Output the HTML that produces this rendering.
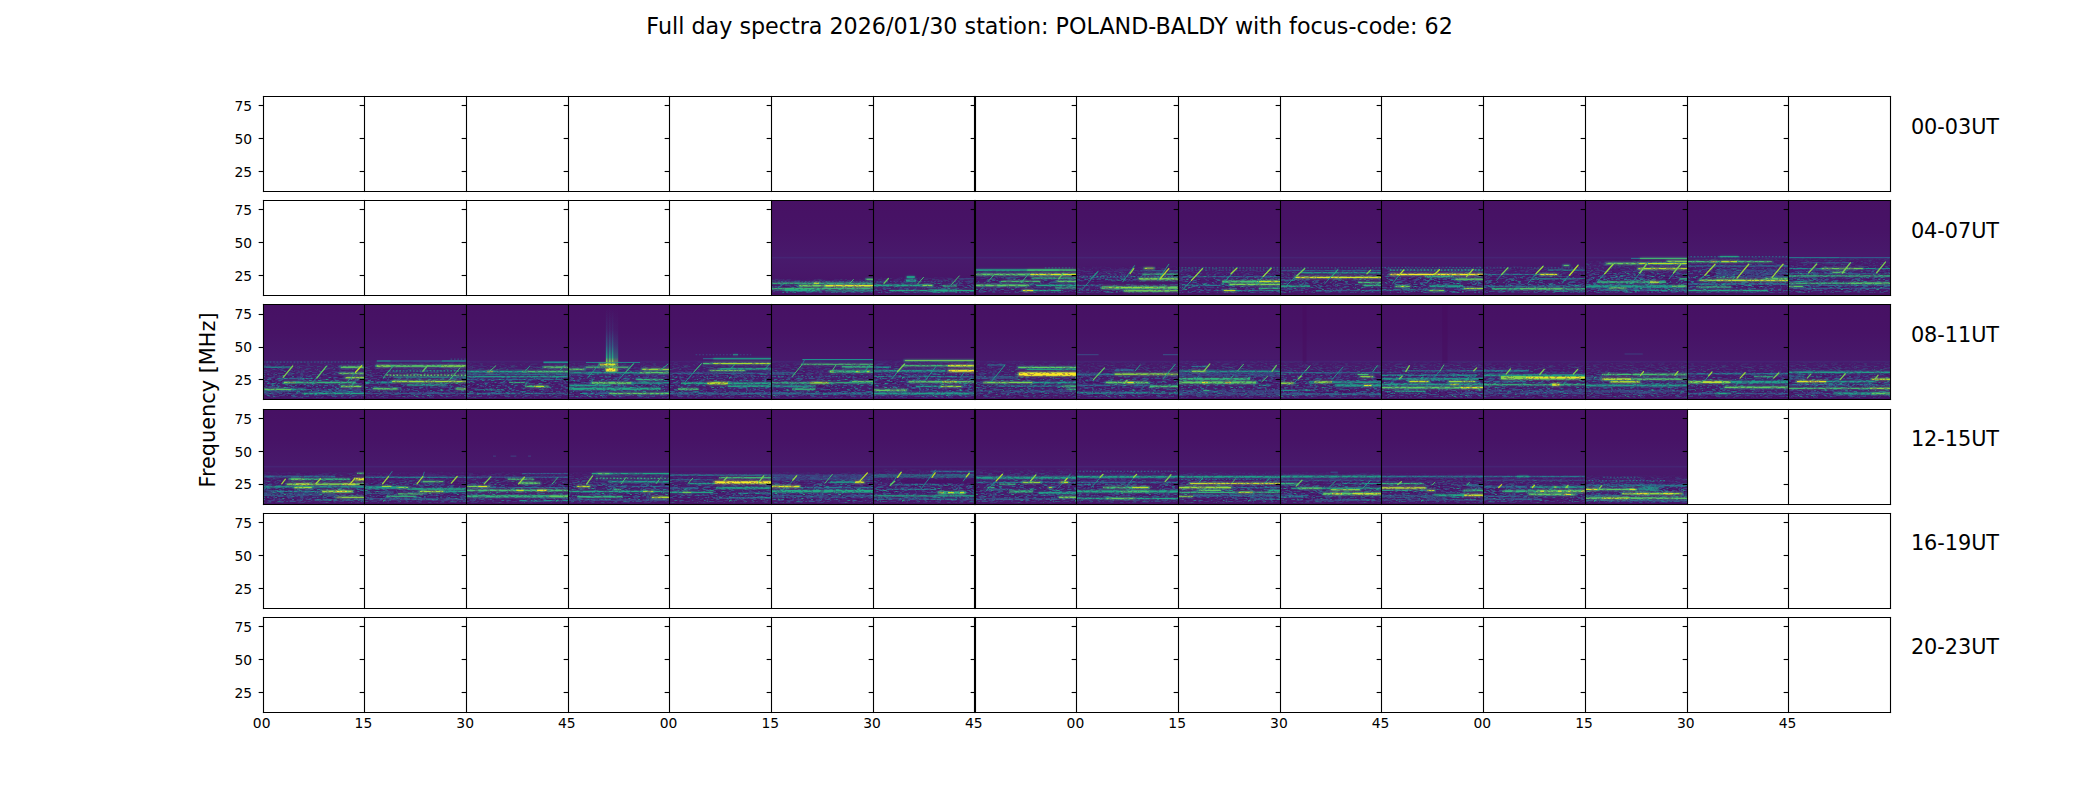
<!DOCTYPE html>
<html lang="en"><head><meta charset="utf-8"><title>Full day spectra 2026/01/30 station: POLAND-BALDY</title>
<style>
html,body{margin:0;padding:0;background:#fff;}
body{width:2100px;height:800px;overflow:hidden;}
svg{display:block;}
text{font-family:"DejaVu Sans","Liberation Sans",sans-serif;fill:#000;}
.t10{font-size:13.889px;}
.t15{font-size:20.833px;}
.t16{font-size:22.222px;}
.ax line{stroke:#000;stroke-width:1.111;}
.sp line{stroke-linecap:square;}
</style></head><body>
<svg width="2100" height="800" viewBox="0 0 2100 800">
<rect width="2100" height="800" fill="#fff"/>

<defs>
<clipPath id="c1_5"><rect x="772" y="201" width="101" height="94"/></clipPath>
<clipPath id="c1_6"><rect x="874" y="201" width="101" height="94"/></clipPath>
<clipPath id="c1_7"><rect x="976" y="201" width="100" height="94"/></clipPath>
<clipPath id="c1_8"><rect x="1077" y="201" width="101" height="94"/></clipPath>
<clipPath id="c1_9"><rect x="1179" y="201" width="101" height="94"/></clipPath>
<clipPath id="c1_10"><rect x="1281" y="201" width="100" height="94"/></clipPath>
<clipPath id="c1_11"><rect x="1382" y="201" width="101" height="94"/></clipPath>
<clipPath id="c1_12"><rect x="1484" y="201" width="101" height="94"/></clipPath>
<clipPath id="c1_13"><rect x="1586" y="201" width="101" height="94"/></clipPath>
<clipPath id="c1_14"><rect x="1688" y="201" width="100" height="94"/></clipPath>
<clipPath id="c1_15"><rect x="1789" y="201" width="101" height="94"/></clipPath>
<clipPath id="c2_0"><rect x="264" y="305" width="100" height="94"/></clipPath>
<clipPath id="c2_1"><rect x="365" y="305" width="101" height="94"/></clipPath>
<clipPath id="c2_2"><rect x="467" y="305" width="101" height="94"/></clipPath>
<clipPath id="c2_3"><rect x="569" y="305" width="100" height="94"/></clipPath>
<clipPath id="c2_4"><rect x="670" y="305" width="101" height="94"/></clipPath>
<clipPath id="c2_5"><rect x="772" y="305" width="101" height="94"/></clipPath>
<clipPath id="c2_6"><rect x="874" y="305" width="101" height="94"/></clipPath>
<clipPath id="c2_7"><rect x="976" y="305" width="100" height="94"/></clipPath>
<clipPath id="c2_8"><rect x="1077" y="305" width="101" height="94"/></clipPath>
<clipPath id="c2_9"><rect x="1179" y="305" width="101" height="94"/></clipPath>
<clipPath id="c2_10"><rect x="1281" y="305" width="100" height="94"/></clipPath>
<clipPath id="c2_11"><rect x="1382" y="305" width="101" height="94"/></clipPath>
<clipPath id="c2_12"><rect x="1484" y="305" width="101" height="94"/></clipPath>
<clipPath id="c2_13"><rect x="1586" y="305" width="101" height="94"/></clipPath>
<clipPath id="c2_14"><rect x="1688" y="305" width="100" height="94"/></clipPath>
<clipPath id="c2_15"><rect x="1789" y="305" width="101" height="94"/></clipPath>
<clipPath id="c3_0"><rect x="264" y="410" width="100" height="94"/></clipPath>
<clipPath id="c3_1"><rect x="365" y="410" width="101" height="94"/></clipPath>
<clipPath id="c3_2"><rect x="467" y="410" width="101" height="94"/></clipPath>
<clipPath id="c3_3"><rect x="569" y="410" width="100" height="94"/></clipPath>
<clipPath id="c3_4"><rect x="670" y="410" width="101" height="94"/></clipPath>
<clipPath id="c3_5"><rect x="772" y="410" width="101" height="94"/></clipPath>
<clipPath id="c3_6"><rect x="874" y="410" width="101" height="94"/></clipPath>
<clipPath id="c3_7"><rect x="976" y="410" width="100" height="94"/></clipPath>
<clipPath id="c3_8"><rect x="1077" y="410" width="101" height="94"/></clipPath>
<clipPath id="c3_9"><rect x="1179" y="410" width="101" height="94"/></clipPath>
<clipPath id="c3_10"><rect x="1281" y="410" width="100" height="94"/></clipPath>
<clipPath id="c3_11"><rect x="1382" y="410" width="101" height="94"/></clipPath>
<clipPath id="c3_12"><rect x="1484" y="410" width="101" height="94"/></clipPath>
<clipPath id="c3_13"><rect x="1586" y="410" width="101" height="94"/></clipPath>
<linearGradient id="gl" x1="0" y1="0" x2="0" y2="1"><stop offset="0" stop-color="#fff" stop-opacity="0"/><stop offset="0.18" stop-color="#fff" stop-opacity="1"/><stop offset="0.93" stop-color="#fff" stop-opacity="1"/><stop offset="1" stop-color="#fff" stop-opacity="0.3"/></linearGradient>
<linearGradient id="gl2" x1="0" y1="0" x2="0" y2="1"><stop offset="0" stop-color="#fff" stop-opacity="0"/><stop offset="0.12" stop-color="#fff" stop-opacity="0.35"/><stop offset="0.3" stop-color="#fff" stop-opacity="0.55"/><stop offset="0.5" stop-color="#fff" stop-opacity="1"/><stop offset="0.94" stop-color="#fff" stop-opacity="1"/><stop offset="1" stop-color="#fff" stop-opacity="0.3"/></linearGradient>
<linearGradient id="bg" x1="0" y1="0" x2="0" y2="1"><stop offset="0" stop-color="#471164"/><stop offset="0.3" stop-color="#471366"/><stop offset="0.62" stop-color="#481a6c"/><stop offset="1" stop-color="#471265"/></linearGradient>
<mask id="glm2" maskContentUnits="objectBoundingBox"><rect width="1" height="1" fill="url(#gl2)"/></mask>
<filter id="bl" x="-5%" y="-20%" width="110%" height="140%"><feGaussianBlur stdDeviation="1.6 1.2"/><feComponentTransfer><feFuncA type="linear" slope="1.7"/></feComponentTransfer></filter>
<mask id="glm" maskContentUnits="objectBoundingBox"><rect width="1" height="1" fill="url(#gl)"/></mask>
<linearGradient id="vb" x1="0" y1="0" x2="0" y2="1"><stop offset="0" stop-color="#3a528b" stop-opacity="0"/><stop offset="0.35" stop-color="#36598c" stop-opacity="0.2"/><stop offset="0.6" stop-color="#29788e" stop-opacity="0.6"/><stop offset="0.78" stop-color="#22a784" stop-opacity="0.95"/><stop offset="0.86" stop-color="#9bd83c" stop-opacity="1"/><stop offset="1" stop-color="#dde225" stop-opacity="1"/></linearGradient>
<pattern id="sp" patternUnits="userSpaceOnUse" width="173" height="41"><path d="M76.9 35.5h7M157.12 29.5h2M86.33 37.5h1M31.39 32.5h2M107.08 11.5h1M75.92 9.5h1M91.58 40.5h1M101.22 25.5h2M111.17 39.5h3M26.77 0.5h7M89.82 3.5h1M32.34 15.5h2M5.11 29.5h1.5M74.89 12.5h2M39.72 18.5h2M0.78 5.5h2M111.32 26.5h2M169.27 5.5h3M43.18 14.5h2M49.14 4.5h2M130.27 25.5h1M143.92 24.5h1M162.87 0.5h1M35.65 3.5h2M63.83 25.5h2M12.42 40.5h1M132.35 17.5h1.5M14.81 21.5h1M163.89 7.5h1M41.89 6.5h1M10.18 31.5h1M115.95 12.5h2M86.51 8.5h2M109.43 7.5h2M71.53 13.5h1M45.87 37.5h1.5M169.64 1.5h1M31.84 38.5h3M98.08 2.5h1M36.25 16.5h1M131.36 21.5h7M50.38 4.5h1M15.32 37.5h3M41.31 38.5h1.5M63.19 29.5h1M163.05 30.5h7M97.68 24.5h1M106.63 19.5h1M139.03 15.5h3M32.27 40.5h2M33.42 24.5h2M102.6 26.5h1M17.65 2.5h2M163.66 15.5h3M119.78 16.5h2M140.03 38.5h2M49.88 11.5h3M166.12 8.5h1M81.48 39.5h2M12.6 13.5h1M127.33 4.5h1.5M69.94 15.5h1M7.92 18.5h1.5M90.27 8.5h1M61.56 28.5h1.5M111.68 33.5h2M160.97 37.5h1M157.01 30.5h1.5M119.16 2.5h1M101.72 4.5h2M11.44 19.5h1.5M23.22 4.5h1M77.03 23.5h3M7.56 8.5h7M163.77 21.5h1.5M14.44 30.5h1M148.09 26.5h7M5.15 31.5h2M2.47 24.5h2M99.06 38.5h1M13.63 40.5h1M168.86 26.5h3M56.13 37.5h2M74.89 34.5h1M88.18 32.5h1M52.74 5.5h2M3.79 7.5h2M132.59 31.5h1.5M152.39 23.5h1.5M24.35 39.5h1M88.13 21.5h3M158.15 31.5h1M55.58 16.5h1M107.81 12.5h1M65.35 37.5h1.5M35.68 8.5h2M59.63 2.5h3M10.9 17.5h7M28.75 28.5h2M46.78 13.5h7M70.38 40.5h2M83.96 20.5h3M142.65 39.5h2M54.46 2.5h1.5M148.38 2.5h3M120.47 36.5h1.5M52.54 36.5h1M108.97 25.5h2M32.29 17.5h1M132.47 3.5h3M19.6 6.5h3M91.02 40.5h7M62.68 4.5h3M33.67 30.5h1.5M30.38 0.5h7M80.27 2.5h1M38.5 22.5h2M118.54 33.5h2M104.46 10.5h2M144.29 14.5h1M69.78 24.5h1M76.59 12.5h3M150.85 0.5h2M93.5 32.5h7M139.31 21.5h2M55.5 13.5h1M122.73 7.5h1M41.19 24.5h1M166.15 34.5h7M158.49 16.5h3M145.48 22.5h2M14.07 28.5h1.5M93.55 17.5h2M156.36 13.5h7M147.48 27.5h7M5.97 34.5h1.5M116.72 8.5h2M25.27 33.5h3M88.1 28.5h2M98.42 5.5h7M37.64 33.5h2M49.33 35.5h3M27.94 32.5h7M154.23 16.5h1.5M114.12 39.5h1M51.76 9.5h2M89.12 36.5h2M34.16 34.5h1M85.54 38.5h2M4.72 2.5h2M155.95 34.5h7M168.2 7.5h2M15.85 10.5h1M158.24 29.5h2M156.53 25.5h1.5M41.87 31.5h1M57.75 30.5h2M53.93 12.5h2M105.04 16.5h1M119.36 1.5h1M33 14.5h1M116.8 20.5h3M60.41 39.5h2M17.83 37.5h1M144.83 39.5h1.5M122.01 33.5h2M3.95 40.5h2M140.28 39.5h1M91.49 40.5h2M108.54 33.5h1M144.71 39.5h2M145.65 14.5h3M106.74 22.5h1M53.7 20.5h1M37.08 12.5h1M22.77 15.5h1M123.52 16.5h2M16.49 26.5h2M134.29 8.5h1M68.47 1.5h1M34.16 22.5h7M164.62 7.5h3M85.97 21.5h2M169.76 12.5h7M11.99 6.5h1M6.36 35.5h2M87.52 36.5h2M24.91 11.5h1M34.67 10.5h1.5M157.57 6.5h2M10.53 29.5h1M130 20.5h2M79.38 32.5h1.5M73.11 38.5h1.5M2.25 2.5h7M34.05 26.5h2M61.13 23.5h2M156.72 38.5h1M16.12 0.5h1.5M151.84 40.5h2M96.85 12.5h2M99.38 21.5h7M129.61 17.5h1M126.55 10.5h7M158.75 8.5h1.5M149.57 23.5h7M73.38 11.5h2M35.16 11.5h1M135.55 19.5h2M17.15 22.5h3M153.46 3.5h1M46.41 19.5h1.5M36.73 25.5h2M30.93 4.5h2M87.5 31.5h3M36.25 7.5h7M67.21 36.5h1M19.51 6.5h3M40.3 28.5h2M85.81 12.5h3M63.87 6.5h1.5M42.65 21.5h2M91.88 26.5h2M96.56 6.5h3M75.54 4.5h2M101.58 2.5h2M158.13 10.5h2M80.2 10.5h7M84.24 39.5h2M9.95 31.5h2M48.35 25.5h2M53.11 33.5h1.5M82.15 17.5h2M158.01 18.5h1M2.38 15.5h2M7.27 10.5h2M128.29 24.5h1M152.58 25.5h1M98.9 20.5h1M135.59 14.5h2M122.25 16.5h7M41.43 33.5h1M159.34 29.5h1M166.4 15.5h2M120.09 3.5h2M70.92 7.5h1M146.39 22.5h2M26.3 23.5h2M23.76 26.5h2M102.18 40.5h2M115.94 23.5h7M126.46 8.5h1.5M124.83 15.5h2M19.36 19.5h7M86.25 22.5h1.5M46.16 36.5h3M100.58 40.5h1.5M128.07 12.5h1M85.37 12.5h3M6.72 3.5h1M46.06 27.5h1M105.97 6.5h1M92.08 4.5h7M14.7 10.5h2M39.91 23.5h2M81.35 13.5h1.5M58.43 8.5h7M147.83 7.5h2M137.56 39.5h7M130.69 13.5h2M72.14 16.5h2M137.68 23.5h1M111.12 38.5h1.5M49.45 11.5h2M111.15 37.5h1M78.54 20.5h1M92.42 27.5h2M96.55 29.5h1.5M139.99 0.5h1M52.72 38.5h1M118.17 31.5h3M129.91 20.5h1.5M149.89 14.5h1.5M111.73 20.5h1.5M154.07 20.5h3M74.97 38.5h3M155.27 28.5h2M136.52 19.5h2M54 25.5h3M152.1 15.5h1M61.49 23.5h1M61.76 25.5h2M65.89 12.5h3M95.85 24.5h2M26.31 37.5h2M30.14 5.5h7M77.24 18.5h7M3.78 33.5h1M92.51 36.5h1.5M164.29 27.5h1M98.93 19.5h7M92.73 21.5h1M46.52 6.5h1.5M14.4 40.5h3M24.46 27.5h1M121.07 31.5h7M154.32 21.5h7M78.04 22.5h1.5M137.24 21.5h3M23.24 31.5h2M136.81 4.5h3M105.09 2.5h2M128.7 22.5h7M0.66 24.5h7M15.17 29.5h2M108.85 33.5h1.5M120.71 7.5h2M157.01 9.5h1M126.01 40.5h2M116.29 20.5h1M66.19 33.5h1.5M46.59 3.5h2M52.44 7.5h1.5M110.16 11.5h1M128.03 1.5h2M81.78 2.5h1.5M18.47 11.5h1.5M36.95 15.5h2M121.93 38.5h2M38.07 11.5h1.5M68.42 19.5h3M93.2 35.5h2M145.08 31.5h2M155.42 21.5h3M93.05 5.5h2M146.64 25.5h1M36.96 8.5h7M135.71 33.5h7M87.69 17.5h7M168.34 15.5h1M148.59 23.5h2M135.45 26.5h2M148.72 26.5h1M131.23 9.5h1.5M154.38 33.5h1M108.28 39.5h1.5M87.71 3.5h1M97.22 11.5h1M34.73 9.5h7M21.83 22.5h1.5M104.53 33.5h1M151.24 29.5h1M162.43 37.5h2M145.75 19.5h1M134.18 26.5h1M155.85 5.5h7M140.48 13.5h1M92.37 33.5h2M26.78 19.5h1.5M52.83 4.5h2M51.97 29.5h3M121.57 23.5h1M116.81 6.5h3M67.02 29.5h3M164.37 7.5h3M75.7 24.5h3M120.7 15.5h1.5M95.9 29.5h7M1.78 13.5h2M25.86 40.5h2M159.37 19.5h1.5M128.34 35.5h3M14.78 12.5h1M64.01 7.5h1.5M52.65 17.5h2M79.87 40.5h1.5M75.97 24.5h1M17.32 39.5h1M22.34 40.5h3M30.47 12.5h2M6.2 29.5h2M119.67 6.5h1M5.5 7.5h2M69.16 4.5h1.5M156.5 27.5h2M23.64 13.5h7M25.16 24.5h2M56.34 26.5h2M2.62 25.5h2M118.98 15.5h3M167.54 33.5h1M44.32 12.5h1.5M52.15 28.5h1M94.72 13.5h2M56.57 18.5h7M17.45 10.5h1.5M130.31 19.5h2M39.77 39.5h2M87.29 36.5h3M33.69 33.5h3M120.16 12.5h2M160.63 40.5h3M33.64 5.5h1M41.58 36.5h2M118.51 21.5h1M157.94 23.5h1.5M78.72 7.5h2M165.51 8.5h1M153.69 34.5h2M95.32 35.5h1.5M28.65 21.5h2M24.76 0.5h1.5M116.46 23.5h1M128.92 23.5h7M28.2 38.5h2M137.91 29.5h1M68.58 8.5h1.5M128.54 24.5h2M100.62 1.5h1M33.92 29.5h1M24.31 24.5h1M96.82 11.5h1.5M88.36 16.5h1M96.57 21.5h1M109.09 2.5h3M114.07 9.5h2M163.09 38.5h1M79.88 26.5h2M155.22 36.5h7M69.18 18.5h2M151.16 29.5h7M153.92 26.5h7M73.77 36.5h1M153.89 33.5h1.5M89.25 27.5h2M153.73 20.5h1M50.33 39.5h2M124.44 38.5h1.5M127.82 19.5h2M149.1 15.5h1M143.54 15.5h2M148.42 3.5h2M118.13 33.5h1M92.65 25.5h1M149.56 23.5h7M92.85 36.5h7M27.9 26.5h2M20.86 4.5h1M88.34 8.5h1M149.97 36.5h2M0.1 15.5h3M50.88 20.5h1M10.65 28.5h7M90.18 9.5h1.5M117.69 14.5h1M52.06 29.5h1.5M52.33 31.5h1M158.77 30.5h1M34.46 3.5h1M53.7 22.5h2M2.73 40.5h3M169.22 12.5h2M107.51 12.5h1M110.52 19.5h3M139.01 17.5h7M71.46 8.5h1.5M118.31 28.5h2M13.43 14.5h7M52.22 12.5h1.5M30.77 15.5h2M112.98 17.5h1.5M136.63 33.5h1M100.28 14.5h1.5M152.23 11.5h3M38.41 8.5h3M113.53 29.5h1M74.86 33.5h1M90.24 2.5h1M101.95 18.5h2M42.65 36.5h1M27.97 12.5h1M30.49 35.5h1M31.68 9.5h1M105.73 37.5h2M0.45 31.5h1M30.58 35.5h7M109.64 23.5h1.5M111.9 2.5h2M49.55 40.5h3M167.18 34.5h1M100.96 10.5h1M103.37 15.5h3M74.87 16.5h7M121.74 15.5h1.5M83.15 14.5h7M98.62 31.5h1.5M6.01 38.5h3M8.93 28.5h7M149.71 20.5h1M103.41 38.5h2M137.05 32.5h2M122.93 1.5h1M19.43 11.5h2M108.78 37.5h7M122.78 39.5h1M9.18 27.5h1M118.26 39.5h3M89.33 16.5h7M100.08 5.5h3M139.5 10.5h2M43.32 10.5h2M117.41 38.5h7M77.27 20.5h2M79.36 13.5h3M164.99 2.5h1M83.22 38.5h1M24.58 29.5h2M126.64 2.5h1M40.91 33.5h1M15.54 35.5h1.5M80.22 4.5h1M115.58 39.5h1M50.27 7.5h2M145.41 26.5h2M14.62 14.5h1.5M52.5 39.5h1M6.74 25.5h2M110.46 3.5h3M58.34 37.5h1M78.64 25.5h7M36.26 24.5h7M8.37 26.5h1.5M41.9 35.5h7M27.86 13.5h2M36.46 29.5h7M52.45 28.5h2M168.86 11.5h7M82.81 34.5h2M71.26 3.5h3M47 17.5h2M3.16 11.5h3M44.6 25.5h2M157.01 13.5h1.5M17.58 3.5h1M123.77 23.5h1M130.17 7.5h1M169.66 24.5h2M14.14 24.5h1.5M43.57 33.5h3M9.33 25.5h2M40.51 2.5h1M25.65 38.5h1M5.4 19.5h2M72.09 34.5h3M23.12 35.5h1.5M53.36 28.5h3M64.09 13.5h7M47.66 28.5h2M23.24 33.5h7M60.45 6.5h1.5M62.98 39.5h1M23.85 1.5h3M107.17 36.5h1M137.49 19.5h3M113.98 13.5h2M117.17 7.5h7M147.62 15.5h7M107.53 5.5h7M72.71 25.5h2M10.22 24.5h1.5M48.38 17.5h1M26.96 25.5h1M80.79 10.5h1.5M113.08 15.5h2M15.82 21.5h2M136.71 30.5h2M43.69 35.5h1.5M119.03 1.5h2M20.46 4.5h2M46.24 24.5h2M143.96 19.5h2M122.26 16.5h1M4 22.5h1.5M151.6 36.5h1.5M44.52 11.5h3M79.77 39.5h1.5M162.29 23.5h1M97.95 13.5h7M12.84 3.5h2M92.29 39.5h2M10.82 4.5h7M78.87 28.5h2M164.28 24.5h1M136.65 32.5h1.5M52.46 23.5h2M166.09 9.5h2M32.72 14.5h1.5M115.63 15.5h2M0.16 34.5h2M0.59 35.5h2M144.33 35.5h1M106.15 35.5h7M117.49 21.5h1.5M58.93 1.5h1.5M136.95 13.5h3M67.36 10.5h1M140.15 10.5h1.5M105.67 31.5h7M95.85 23.5h2M48.57 34.5h2M40.3 15.5h1.5M55.25 11.5h2M125.38 4.5h1M139.03 19.5h1M144.32 32.5h7M115.47 2.5h1M105.67 26.5h7M81.94 22.5h1.5M67.56 25.5h1.5M121.71 16.5h1.5M121.67 20.5h1M56.75 13.5h7M95.83 8.5h2M167.18 8.5h2M125.84 17.5h7M27.34 12.5h2M105.6 18.5h1M110.84 0.5h2M99.54 8.5h1.5M116.89 26.5h1.5M107.35 25.5h2M158.67 8.5h1M26.74 7.5h7M7.21 18.5h1.5M124.31 7.5h2M56.11 1.5h7M92.24 30.5h1M63.48 19.5h2M136.08 18.5h1M66.59 39.5h2M130.11 36.5h2M114.74 13.5h2M48.06 9.5h2M29.76 6.5h2M158.7 16.5h2M73.55 9.5h1.5M150.35 17.5h2M96.7 17.5h3M68.03 20.5h1M13.77 12.5h1.5M93.75 35.5h1M25.77 0.5h7M52.59 5.5h1M31.02 30.5h1M169.52 12.5h7M69.46 2.5h2M59.74 35.5h2M94.75 13.5h2M104.84 39.5h1.5M47.11 18.5h7M42.43 28.5h2M141.73 3.5h1M145.74 10.5h2M20.19 4.5h1.5M61.02 35.5h1.5M10.7 29.5h1M150.7 4.5h1.5M1.87 33.5h1.5M137.72 31.5h2M52.35 34.5h7M113.21 6.5h2M68.39 26.5h1.5M152.83 39.5h1M1.61 9.5h1M55.02 23.5h2M111.68 23.5h3M108.46 22.5h1.5M47.47 20.5h2M16.01 21.5h1M126.08 13.5h1M126.34 34.5h1.5M115.64 11.5h1.5M17.99 9.5h1.5M59.56 27.5h1M1.61 32.5h1M68.57 20.5h2M142.78 13.5h1M149.68 20.5h1M128.2 6.5h2M167.88 27.5h2M163.65 14.5h2M69.4 11.5h7M46.47 24.5h1.5M149.85 22.5h2M168.21 9.5h3M107.9 24.5h3M9.4 39.5h2M58.58 28.5h7M121.47 27.5h2M164.79 7.5h1M142.37 29.5h2M113.13 26.5h7M65.39 14.5h2M102.11 36.5h1M87.59 2.5h2M106.65 28.5h1.5M100.87 38.5h1M158.37 9.5h2M79.68 16.5h3M105.89 12.5h3M79.72 35.5h2M8.92 8.5h7M168.31 31.5h1M39.8 9.5h7M19.47 6.5h2M42.8 16.5h1M31.43 2.5h3M58.21 33.5h7M59.29 13.5h2M2.44 27.5h1M83.14 15.5h1M18.24 28.5h7M128.7 15.5h1M135.99 3.5h7M147.89 4.5h7M160.08 23.5h1M17.06 2.5h1.5M162.39 14.5h7M49.05 26.5h1M104.44 1.5h7M115.92 29.5h2M12.22 13.5h2M106.97 12.5h2M113.63 27.5h2M2.61 21.5h3M53.61 40.5h1.5M111.91 13.5h3M35.63 8.5h1M117.94 29.5h1M21.95 7.5h1.5M159.98 39.5h2M60.78 12.5h1M169.12 13.5h3M122.01 19.5h7M69.4 9.5h1M107.31 27.5h1.5M139.43 26.5h1.5M77.65 32.5h1M160.08 22.5h2M119.62 15.5h2M98.48 18.5h1M148.35 18.5h7M13.29 29.5h1M158.73 24.5h1M126.36 38.5h1M76.23 4.5h1.5M71.25 18.5h2M74.95 17.5h1.5M112.49 0.5h3M103.8 0.5h2M63.72 37.5h7M42.78 26.5h1.5M58.07 37.5h1M92.81 6.5h2M152.41 5.5h7M61.81 23.5h1M122.92 22.5h7M161.44 1.5h3M107.61 30.5h1M61.5 29.5h2M53.73 38.5h1M164.97 1.5h7M67.17 14.5h3M92.03 7.5h1M11.31 29.5h3M68.22 13.5h2M168.26 13.5h2M62.88 9.5h2M67.09 5.5h1M28.36 39.5h7M126.15 16.5h3M137.91 30.5h7M150.28 27.5h2M26.49 23.5h7M62.25 1.5h1M59.69 34.5h2M90.72 7.5h7M134.17 19.5h2M95.88 4.5h2M40.44 5.5h2M87.07 18.5h1.5M132.17 15.5h2M70.37 3.5h1M100.11 10.5h2M17.77 8.5h7M152.75 32.5h1M24.47 36.5h2M29.52 39.5h2M163.78 7.5h2M139.79 14.5h1" stroke="#45085b" stroke-opacity="0.6" stroke-width="1" fill="none"/><path d="M135.51 7.5h3M125.34 24.5h1M50 39.5h1M68.84 31.5h1.5M155.05 34.5h3M129.63 2.5h2M70.74 5.5h1M44.34 7.5h3M156.2 21.5h2M34.62 35.5h1M96.55 32.5h1M67.06 19.5h1.5M125.69 16.5h1M62.54 27.5h5M81.07 22.5h3M73.18 28.5h1M8.43 33.5h1M27.75 24.5h2M54.86 14.5h3M16.86 23.5h1M53.45 30.5h1M88.38 33.5h2M124.63 23.5h2M100.86 6.5h1M116.89 22.5h1M62.16 38.5h3M62.71 19.5h1M103.56 37.5h1M53.57 31.5h1M87.75 22.5h1M145.48 13.5h1.5M100.21 27.5h3M146.21 25.5h1M48.58 6.5h1M67.44 14.5h5M42.55 2.5h1.5M25.39 9.5h5M48.53 18.5h1M169.95 31.5h1M67.19 5.5h2M23.55 21.5h3M122.01 39.5h3M127.96 37.5h2M0.95 30.5h2M57.03 40.5h5M12.74 5.5h2M116.51 8.5h2M128.68 27.5h5M20.06 20.5h3M123.71 7.5h5M60.51 35.5h3M19.25 7.5h2M52.71 35.5h1M156.79 13.5h1M70.52 34.5h1M142.67 7.5h1M148.53 30.5h2M5.33 27.5h2M34.05 31.5h2M74.25 24.5h2M132.36 6.5h2M126.2 10.5h5M99.59 12.5h1M58.87 10.5h3M59.46 37.5h5M88.39 24.5h2M97.63 29.5h1.5M131.05 9.5h2M119.65 25.5h1.5M15.37 31.5h1M107.51 22.5h3M69.84 2.5h1.5M156.69 16.5h2M41.35 13.5h2M154.37 4.5h2M30.55 26.5h2M77.48 31.5h1M39.32 39.5h1M115.5 32.5h5M25.55 22.5h2M27.13 31.5h1.5M83.23 28.5h5M60.65 19.5h1M42 9.5h1M167.63 34.5h3M103.67 7.5h1M130.03 37.5h1M152.9 23.5h3M55.16 6.5h5M122.16 18.5h2M145.79 16.5h1M42.36 1.5h1M91.33 16.5h3M49.82 16.5h2M22.36 31.5h1M46.34 18.5h5M47.19 32.5h1M148.55 10.5h5M146.13 8.5h2M15.19 10.5h2M127.57 37.5h5M108.54 19.5h1M72.61 23.5h3M133.84 14.5h2M76.98 23.5h1.5M123.97 40.5h2M46.02 22.5h1M12.81 35.5h1M97.72 4.5h1.5M153.29 6.5h2M163.39 12.5h1.5M52.58 9.5h1M161.36 4.5h1M5.04 36.5h1M167.08 33.5h2M13.12 33.5h3M31.38 33.5h3M60.22 31.5h1M149.54 6.5h2M23.72 12.5h1M117.89 1.5h2M159.79 35.5h1M22.93 19.5h1.5M57.06 17.5h1M165.92 9.5h5M72.7 1.5h2M83.25 37.5h3M97.14 39.5h1.5M158.65 5.5h5M88.27 2.5h1M19 19.5h1M70.41 9.5h5M31.69 38.5h2M143.92 5.5h1M63.11 13.5h2M141.68 26.5h1.5M57.04 22.5h2M2.54 15.5h1.5M8.13 23.5h2M122.89 33.5h3M59.82 15.5h2M29.87 9.5h1M43.08 30.5h1M133.22 21.5h1M40.5 39.5h1.5M101.24 36.5h1.5M97.48 1.5h1M52.84 4.5h1.5M86.65 13.5h3M5.86 15.5h2M15.74 32.5h1M75.07 2.5h2M94.71 8.5h1.5M113.86 4.5h1M168.38 24.5h1M71.25 14.5h1.5M168.74 13.5h2M154.14 35.5h2M160.47 4.5h2M165.64 0.5h1M84.83 24.5h1M72.22 10.5h1M11.5 10.5h2M163.28 20.5h1.5M23.55 8.5h1M136.61 20.5h1M32.75 8.5h3M115.3 29.5h1.5M63.29 7.5h1.5M24.9 4.5h1M123.33 3.5h1M52.18 11.5h2M20.87 33.5h2M91.85 36.5h2M129.59 33.5h1.5M161.01 5.5h3M37.9 4.5h1.5M165.84 32.5h1M27.26 21.5h3M96.63 18.5h2M134.78 38.5h2M59.55 31.5h2M6.63 9.5h2M166.24 1.5h2M129.66 25.5h2M8.82 10.5h1M29.42 13.5h1M4.12 27.5h5M163.45 39.5h3M10.73 1.5h1M58.14 10.5h1.5M165.22 21.5h1.5M144.15 35.5h1.5M116.92 16.5h2M126.29 10.5h1.5M24.42 37.5h2M104.1 27.5h2M99.77 16.5h1.5M161.4 31.5h1M115.2 39.5h5M151.49 10.5h2M86.5 18.5h5M29.06 20.5h1M94.34 25.5h1M119.35 21.5h1.5M108.62 40.5h3M0.54 30.5h2M19.05 32.5h3M64.42 0.5h3M84.4 17.5h2M97.61 40.5h2M78.58 5.5h1.5M84.58 30.5h1M109.02 1.5h1.5M91.55 3.5h1M47.64 3.5h1M99.15 25.5h5M7.09 12.5h3M85.67 27.5h1.5M94.38 4.5h2M146.09 9.5h1.5M53.72 32.5h2M58.22 12.5h3M36.58 28.5h5M50.79 8.5h3M41.96 17.5h5M50.61 11.5h1M138.5 19.5h3M41.5 1.5h2M111.85 30.5h5M109.5 25.5h3M147.13 10.5h1M44.15 18.5h5M66.29 16.5h1M103.76 16.5h3M105.89 8.5h3M123.54 3.5h2M147.51 25.5h5M127.81 0.5h2M44.96 31.5h3M157.15 14.5h2M120.88 2.5h1M150.21 31.5h5M166.47 14.5h3M105.11 7.5h3M26.06 27.5h1.5M79.35 11.5h1M110.13 6.5h1.5M55.84 3.5h1M49.39 37.5h2M51.5 29.5h5M9.64 6.5h1.5M36.98 31.5h1M6.02 34.5h1M80.42 33.5h1M49.01 37.5h1.5M41.03 20.5h2M11.89 3.5h1.5M50.25 40.5h2M70.45 26.5h1M134.24 5.5h1M72.99 30.5h3M70.71 40.5h2M137.47 32.5h1.5M99.66 26.5h1M89.71 12.5h1M130.23 3.5h2M25.55 35.5h1.5M133.82 37.5h3M158.93 17.5h5M135.54 2.5h3M9.86 3.5h2M165.9 30.5h1M162.3 3.5h2M12.08 17.5h2M118.06 28.5h5M21.73 27.5h2M97.44 15.5h2M138.53 15.5h3M146.77 26.5h1M14.78 36.5h1M41.69 36.5h2M68.45 24.5h1M126.31 29.5h2M17.95 15.5h5M126.06 37.5h5M53.65 40.5h1M57.06 1.5h1M142 32.5h2M69.77 25.5h5M150.8 16.5h1M134.52 17.5h2M35.2 27.5h1M77.01 20.5h1M106.05 26.5h5M51.63 5.5h2M124.95 40.5h2M77.29 24.5h3M152.66 25.5h3M12.74 14.5h1.5M38.89 38.5h2M111.48 29.5h2M36.16 19.5h1M102.12 5.5h2M99.76 21.5h2M120.98 1.5h5M70.74 27.5h1.5M15.35 24.5h1M146.85 19.5h1M127.06 27.5h1M84.69 3.5h5M36.62 25.5h1M100.36 21.5h3M62.01 30.5h1.5M43.56 35.5h2M92.53 1.5h1M127.96 37.5h1.5M137.66 32.5h1M46.65 36.5h1.5M89.81 31.5h1.5M28.4 40.5h5M151.89 31.5h1.5M154.05 26.5h3M24.69 38.5h1M78.26 33.5h2M168.5 36.5h1M162.09 22.5h2M129.02 4.5h1M51.07 10.5h3M61.79 13.5h2M119.91 9.5h1.5M98.32 32.5h1M91.71 25.5h3M68.78 19.5h3M148.35 39.5h1M35.13 1.5h1M154.79 40.5h5M4.54 12.5h1.5M3.55 3.5h3M99.01 18.5h5M56.21 39.5h3M61.59 20.5h1.5M137.96 13.5h5M80.57 20.5h1M75.12 36.5h1.5M103.58 22.5h1M93.29 38.5h2M54.31 21.5h5M74.81 27.5h1M140.7 37.5h3M129.85 30.5h1.5M102.78 22.5h1M130.88 20.5h5M145.19 30.5h1.5M10.05 31.5h3M113.7 4.5h5M142.99 34.5h2M4.15 20.5h1M100.9 31.5h2M90.66 24.5h1M134.81 26.5h1M154.51 39.5h1M94.13 2.5h3M25.96 20.5h1M79.47 18.5h1M95.43 22.5h1M61.2 15.5h1.5M50.95 0.5h1M61.92 26.5h2M29.31 11.5h1M27.62 6.5h2M115.16 12.5h1.5M92.65 39.5h5M112.1 32.5h1M70.24 24.5h1.5M85.7 29.5h2M89.92 34.5h5M136.55 14.5h1.5M3.78 19.5h2M5.42 2.5h2M77.56 33.5h1M62.47 35.5h3M78.68 23.5h3M160.5 5.5h2M85.21 14.5h2M168.53 12.5h1M18.62 34.5h1.5M92.4 32.5h2M52.67 18.5h2M60.65 4.5h2M168.86 0.5h5M25.2 24.5h3M108.72 7.5h2M95.61 27.5h2M129.6 37.5h1M99.01 11.5h1M78.88 15.5h3M84.9 28.5h3M92.41 21.5h2M156.69 39.5h1M2.09 13.5h2M12.37 19.5h1.5M30.13 35.5h2M17.22 40.5h1M44.58 14.5h5M28.14 22.5h1M123.45 8.5h5M34.3 1.5h3M27.8 30.5h3M162.87 20.5h5M44.09 11.5h1.5M107.97 39.5h1M159.01 2.5h5M95.74 24.5h5M111.61 24.5h3M110.14 26.5h2M111.33 2.5h1M100.45 17.5h1M114.66 4.5h1.5M31.7 15.5h2M49.29 7.5h3M113.85 40.5h3M65.13 20.5h2M1.2 26.5h2M99.99 7.5h2M43.08 7.5h1M61.16 38.5h1.5M94.78 24.5h1M160.29 38.5h1M34.67 0.5h2M111.89 36.5h3M40.61 12.5h2M123.19 4.5h2M147 2.5h1M32.21 29.5h1M143.48 39.5h2M126.79 23.5h3M148.79 22.5h5M11.41 17.5h1M104.57 1.5h1M149.08 24.5h1M14.71 2.5h1M143.88 38.5h5M6.35 7.5h1M48.74 12.5h2M19.07 12.5h1M108.86 10.5h1M28.67 34.5h5M63.84 9.5h2M96.58 32.5h1M65.96 30.5h1.5M6.76 39.5h1M32.87 21.5h1M71.88 37.5h5M66.67 34.5h1.5M159.78 8.5h1M65.18 23.5h3M18.31 2.5h1.5M48.37 18.5h1M127.54 6.5h3M124.7 11.5h3M66.87 21.5h5M42.79 35.5h1M125.88 23.5h2M102.93 36.5h2M151.19 17.5h1M142.67 17.5h2M24.43 25.5h2M95.89 8.5h5M132.73 3.5h2M106.89 17.5h1M54.88 38.5h2M32.54 28.5h3M145.73 1.5h1.5M31.8 32.5h3M102.95 34.5h5M44.68 24.5h2M103.31 0.5h1M0.17 0.5h3M55.8 17.5h2M168.53 40.5h1M11.09 14.5h5M81.86 29.5h5M80.61 26.5h1.5M54.01 25.5h1M53.17 29.5h2M116.54 9.5h5M111.43 12.5h1M104.82 10.5h3M6.01 26.5h5M31.15 12.5h2M114.46 22.5h3M9.9 6.5h1M23.64 16.5h3M43.46 29.5h5M142.2 7.5h1M109.07 1.5h2M38.99 1.5h2M27.48 4.5h1M90.36 8.5h1M102.58 22.5h1M63.38 23.5h2M94.2 37.5h1M146.72 34.5h1.5M48.79 18.5h3M72.1 13.5h1M75.04 16.5h2M102.26 32.5h1M86.77 3.5h2M22.36 38.5h1.5M115.95 18.5h1M77.47 32.5h2M136.68 25.5h3M82.27 25.5h3M81.56 22.5h1M169.94 2.5h3M67.94 5.5h3M162.03 28.5h1M96.7 6.5h2M39.14 9.5h2M110.45 19.5h1.5M65.25 13.5h3M1.94 10.5h2M24.19 10.5h1M19.27 4.5h2M114.77 13.5h1.5M75.8 38.5h1M47.82 3.5h1.5M119.86 27.5h5M12.78 35.5h1M165.89 21.5h2M68.28 13.5h5M7.68 38.5h1M79.97 19.5h1.5M155.87 13.5h5M109.35 4.5h2M157.01 29.5h2M30.71 3.5h3M70.85 2.5h5M85.69 8.5h5M92.88 34.5h5M48.2 10.5h2M87.89 10.5h2M126.44 15.5h1.5M114.65 14.5h2M10.65 32.5h1M39.29 15.5h5M71.59 31.5h1.5M33.74 4.5h1M38.3 38.5h2M42.13 5.5h3M85.94 33.5h2M166.4 38.5h5M149 27.5h2M40.18 23.5h2M132.91 7.5h3M42.55 29.5h1.5M95.36 17.5h5M117.02 9.5h5M48.88 2.5h1.5M65.36 36.5h1M164.8 11.5h1.5M100.58 40.5h1M118.96 40.5h2M151.64 5.5h2M43.28 31.5h1M16.05 4.5h1.5M118.91 12.5h5M49.43 27.5h5M47.3 30.5h1M35.61 36.5h5M132.4 31.5h1M2.02 26.5h1M14.07 38.5h2M2.57 29.5h2M101.78 20.5h1.5M5.92 26.5h2M60.11 8.5h1.5M105.76 36.5h1M21.41 40.5h1M29.96 6.5h2M15.74 26.5h2M26.57 20.5h2M50.32 18.5h1M128.85 2.5h2M22.58 20.5h3M20.32 33.5h2M148.12 32.5h3M121.23 38.5h2M139.65 28.5h1M139.08 3.5h5M27.27 19.5h1M74.63 29.5h1M95.95 17.5h3M132.38 21.5h1M143.75 26.5h1M83.7 24.5h1M153.82 13.5h1M59.16 37.5h5M113.38 26.5h1.5M88.49 13.5h2M78.6 16.5h1M114.84 6.5h2M23.38 12.5h2M90.59 37.5h2M0.51 13.5h5M110.69 40.5h1M80.93 28.5h1M119.5 31.5h2M35.47 7.5h1.5M27.97 14.5h1M154.69 30.5h5M21.67 22.5h1M41 34.5h5M59.15 29.5h1M79.54 23.5h5M77.37 20.5h2M118.61 9.5h1M89.39 36.5h1.5M157.86 35.5h1M152.14 14.5h5M59.63 5.5h1.5M38.05 7.5h1.5M133.51 3.5h2M116.72 39.5h2M57.2 11.5h1M58.01 28.5h5M130.23 11.5h3M139 5.5h1M32.12 20.5h2M130.71 19.5h1M76.82 22.5h1M80.19 16.5h5M10.89 19.5h2M58.35 33.5h1M29.09 21.5h1M158.08 14.5h1M78.03 28.5h1M142.66 20.5h1M14.87 26.5h5M137.66 2.5h1M50.28 18.5h5M71.19 4.5h2M145.55 26.5h1M70.02 25.5h3M101.64 28.5h1M84.98 3.5h1.5M70.1 34.5h1.5M67.98 36.5h2M49.46 1.5h2M114.64 21.5h2M83.54 24.5h1M45.89 3.5h1M50.42 19.5h1M19.54 1.5h5M81.71 1.5h3M149.42 23.5h1M75.44 33.5h1M4.09 6.5h2M133.51 35.5h3M83.86 22.5h2M127.71 32.5h2M134.7 9.5h3M51.13 34.5h2M142.17 33.5h5M168.07 3.5h5M127.85 39.5h2M101.72 3.5h2M80.76 24.5h1M161.23 10.5h2M45.89 31.5h1M125.02 19.5h5M150.17 0.5h1.5M38.19 24.5h3M132.13 17.5h1M69.59 29.5h3M158.17 37.5h3M89.73 2.5h2M81.52 21.5h1M17.74 24.5h2M21.1 28.5h1M46.48 32.5h1M30.95 24.5h2M87.56 33.5h2M22.63 19.5h1M158.35 33.5h1M120.3 12.5h2M155.24 30.5h2M119.59 18.5h1.5M111.02 8.5h1M158.52 2.5h3M40.29 15.5h1M133.71 16.5h2M17.4 17.5h3M98.69 8.5h3M59.7 32.5h5M46.12 33.5h2M112.59 20.5h3M108.68 9.5h1.5M165.04 13.5h1M38.47 7.5h1M157.29 26.5h5M111.45 21.5h2M115.69 3.5h1M66.85 32.5h3M127.75 3.5h2M168.42 28.5h5M114.84 20.5h3M73.97 3.5h3M167.47 24.5h3M121.64 25.5h2M160.34 9.5h2M75.18 35.5h3M18.47 0.5h2M156.25 14.5h1M37.65 26.5h5M118.18 8.5h3M136.85 38.5h1M124.4 39.5h1M60.23 21.5h3M12.13 3.5h5M115.78 3.5h3M79.36 31.5h5M12.52 29.5h2M132.02 38.5h2M102.32 10.5h5M142.29 23.5h1.5M10.6 20.5h2M83.55 31.5h2M33.65 2.5h5M102.01 13.5h2M153.04 40.5h2M120.46 35.5h1.5M155.97 3.5h2M67.13 17.5h1M117.42 6.5h2M51.94 25.5h3M21.14 38.5h2M71.9 2.5h1.5M105.68 12.5h2M90.24 14.5h1.5M2.42 19.5h2M152.24 18.5h1.5M83.03 33.5h2M45.23 34.5h1.5M11.12 22.5h1.5M161.84 38.5h1M147.3 24.5h1M58.93 15.5h3M16.43 34.5h5" stroke="#3e4989" stroke-opacity="0.8" stroke-width="1" fill="none"/><path d="M104.89 36.5h1M106.13 38.5h2M22.86 20.5h2M163.96 3.5h2M65.41 4.5h3M113.75 16.5h1M37.08 19.5h2M103.21 20.5h4M112.99 35.5h1M151.12 16.5h4M60.8 38.5h2M137.75 30.5h1M87.13 8.5h1M121.92 33.5h2M0.21 8.5h1M143.67 31.5h4M75.87 1.5h2M119 2.5h3M89.43 29.5h3M169.89 21.5h3M29.98 26.5h1.5M122.32 37.5h1M70.3 33.5h4M46.87 18.5h3M151.1 22.5h1M131.11 23.5h1M32.35 0.5h1M163.79 37.5h2M10.61 10.5h1M120 21.5h2M66.26 18.5h1.5M39.66 14.5h1M25.02 1.5h1M83.93 26.5h2M62.57 20.5h1.5M140.61 34.5h2M17.48 1.5h1.5M103.59 32.5h1M41.45 8.5h1M54.8 12.5h1M50.22 32.5h2M155.67 13.5h2M83.76 23.5h4M154.7 4.5h1M50.2 2.5h1M149.67 22.5h4M13.98 22.5h1M34.63 27.5h1M104.74 14.5h1M61.08 19.5h1M21.28 6.5h4M125.7 28.5h4M21.21 36.5h2M140.05 16.5h1M92.57 24.5h2M40.98 28.5h1M118.06 14.5h1M21.23 18.5h1M94.05 5.5h2M117.96 26.5h4M8.5 7.5h1M158.98 29.5h3M66.26 15.5h1M10.67 28.5h2M35.46 0.5h1M21.49 5.5h1.5M136.61 38.5h4M80.99 7.5h3M2.45 18.5h1M4.1 16.5h3M154 38.5h1M99.5 28.5h1M67.97 33.5h1M107.53 10.5h3M151.09 31.5h1M141.93 13.5h1.5M58.71 3.5h2M129.94 30.5h2M167.69 18.5h1.5M73.29 18.5h4M32.73 17.5h1.5M104.85 4.5h3M151 36.5h2M105.36 35.5h2M90.96 23.5h2M168.73 26.5h2M139.04 5.5h4M64.32 32.5h2M135.26 7.5h2M105.67 9.5h3M77.95 4.5h1M20.39 5.5h3M72.24 8.5h1M140.64 39.5h1M147.37 35.5h3M27.14 17.5h4M104.56 36.5h3M92.64 1.5h1M59.02 6.5h4M127.4 8.5h2M11.3 10.5h1M36.97 22.5h2M143.63 32.5h1M79.8 13.5h1M70.05 5.5h4M140.76 25.5h1M109.97 22.5h2M58.43 11.5h2M34.03 33.5h1.5M123.76 35.5h1.5M44.66 12.5h1.5M126.34 13.5h2M58.77 35.5h2M4.48 2.5h1.5M124.77 2.5h2M103.77 15.5h1M17.01 9.5h4M79.49 12.5h1.5M150.46 0.5h4M106.76 11.5h2M98.71 15.5h2M39.44 39.5h1.5M17.02 38.5h2M48.26 25.5h4M28.25 14.5h3M4.71 23.5h1M73.8 35.5h1.5M88.05 38.5h4M94.01 10.5h2M133.71 38.5h1M49.79 36.5h2M53.08 6.5h1.5M3.59 25.5h2M157.55 30.5h1M162.62 39.5h1M117.97 17.5h4M34.53 12.5h3M13.56 33.5h3M29.23 38.5h4M106.19 30.5h2M104.12 18.5h2M78.87 33.5h1M46.95 6.5h2M158.44 19.5h2M45.77 13.5h1.5M52.41 27.5h2M124.87 35.5h1M60.53 9.5h2M84.23 21.5h2M26.65 28.5h1M20.31 20.5h2M127.96 39.5h1M133.08 27.5h3M82.67 40.5h3M93.22 35.5h1.5M15.39 35.5h3M8.49 30.5h3M81.77 10.5h2M86.93 22.5h1.5M28.13 9.5h1M137.82 11.5h1M96.3 14.5h1.5M15.09 28.5h1M93.32 12.5h2M13.18 29.5h1M145.4 23.5h2M48.61 7.5h2M91.65 30.5h4M93.98 36.5h2M72.2 12.5h2M116.07 21.5h2M87.51 37.5h1M156.3 15.5h2M58.55 31.5h1M75.33 13.5h2M39.24 22.5h2M151.01 29.5h2M108.47 40.5h4M158.66 11.5h1M105.29 34.5h3M56.95 16.5h2M121.17 27.5h2M116.24 16.5h2M146.24 16.5h2M147.92 28.5h2M68.17 36.5h1M88.89 35.5h2M95.3 9.5h3M33.02 22.5h1M2.64 3.5h4M139.14 17.5h1M134.11 31.5h1M143.44 1.5h1M55.57 3.5h2M53.57 31.5h4M164.67 15.5h2M18.15 2.5h3M101.78 30.5h1.5M61.45 7.5h2M157.11 30.5h1M34.04 31.5h4M136.89 17.5h1M99.88 5.5h2M41.03 11.5h1.5M85.93 6.5h1M1.86 37.5h1.5M127.64 2.5h1.5M41.01 30.5h2M33.35 40.5h1M42.71 6.5h4M5.91 5.5h1M92.23 12.5h1.5M135.14 37.5h2M55.73 29.5h3M146.72 35.5h2M39.46 34.5h1M119.46 27.5h4M89.94 1.5h4M138.21 8.5h1M86.27 11.5h2M95.42 18.5h1M160.38 27.5h4M124.66 28.5h1.5M130.66 31.5h2M44.85 25.5h3M131.29 20.5h3M69.24 4.5h2M142.35 25.5h1M131.37 0.5h4M81.87 32.5h4M25 37.5h1.5M149.8 1.5h1M54.3 33.5h2M121.48 34.5h2M88.45 23.5h2M121.41 31.5h2M102.79 19.5h2M161.17 30.5h1M125.6 9.5h2M107.03 7.5h2M37.67 8.5h3M4.22 35.5h1.5M62.54 0.5h4M124.78 10.5h1M93.2 29.5h1M76.64 1.5h4M85.76 14.5h2M86.4 36.5h2M31.49 33.5h1M38.02 12.5h1.5M89.15 38.5h2M78.25 40.5h3M95.88 30.5h2M78.45 34.5h1.5M149.67 5.5h4M146.82 35.5h2M42.09 6.5h1M112.37 15.5h3M104.1 35.5h2M103.22 27.5h1M29.28 0.5h1M54.2 20.5h2M76.13 27.5h2M107.5 1.5h4M94.08 37.5h2M76.27 28.5h2M110.74 20.5h1M140.99 26.5h1M94.67 33.5h2M61.91 0.5h4M47.3 30.5h2M161.71 8.5h1M153.49 4.5h4M115.8 1.5h3M149.69 4.5h1.5M59.05 33.5h4M105.32 11.5h2M153.59 24.5h1M84.29 18.5h3M113.29 9.5h2M43.61 3.5h2M102.3 37.5h2M81.52 24.5h3M11.68 36.5h4M160.21 33.5h1.5M127.34 4.5h2M147.48 23.5h3M84.04 21.5h2M39 33.5h3M23 38.5h2M45.43 37.5h2M41.16 2.5h1.5M93.77 26.5h1M127.22 12.5h1M66.12 40.5h2M77.27 25.5h4M153.37 38.5h1.5M111.93 18.5h3M152.81 22.5h3M143.68 15.5h1M161.83 25.5h1M15.14 7.5h1M51.22 23.5h2M41.84 19.5h1.5M41.3 10.5h2M112.29 18.5h4M133.48 16.5h3M30.01 13.5h1M119.94 17.5h2M158.16 26.5h1M100.79 4.5h1M61.94 20.5h2M105.77 0.5h4M83.02 27.5h1M82.45 3.5h3M13.73 20.5h1M116.83 9.5h2M98.07 28.5h1M46.2 19.5h4M162.79 22.5h1.5M41.28 34.5h3M113.9 5.5h4M56 31.5h4M117.49 5.5h2M8.55 11.5h2M51.68 11.5h2M48.77 7.5h1.5M4.44 33.5h4M128.84 10.5h3M16.01 31.5h1M90.6 31.5h1M50.51 32.5h2M117.03 19.5h1.5M47.96 2.5h2M32.65 6.5h3M73.47 34.5h4M26.29 4.5h2M159.03 16.5h2M92.55 17.5h2M25.21 6.5h1M159.54 29.5h2M169.77 34.5h1M1.31 36.5h1M135.36 24.5h2M54.85 15.5h4M53.63 18.5h1.5M66.71 0.5h1.5M10.28 2.5h2M163.51 19.5h2M169.73 3.5h2M136.56 6.5h2M74.17 39.5h3M69.54 21.5h2M111.32 13.5h4M83.23 27.5h1M89.44 3.5h3M41.21 39.5h1M165.79 39.5h1.5M124.78 32.5h3M65.9 25.5h4M128.32 1.5h3M79.69 17.5h2M119.13 9.5h4M13.99 39.5h3M77.52 2.5h4M104.61 31.5h1.5M86.86 26.5h1M53.75 31.5h2M162.62 39.5h3M141.21 11.5h2M161.82 11.5h4M86.41 29.5h1M28.19 17.5h2M31.68 10.5h1.5M7 3.5h3M35.97 27.5h2M24.36 7.5h3M92.29 19.5h1M48.17 5.5h3M116.57 3.5h1M31.2 19.5h1M5.83 39.5h1M108.23 4.5h1.5M123.91 36.5h1M107 24.5h2M20.91 40.5h3M39.09 5.5h4M142.27 24.5h3M136.76 24.5h4M81.75 11.5h1.5M166.35 2.5h3M27.34 14.5h4M74.5 10.5h1M77.72 5.5h1.5M154.47 36.5h4M14.45 36.5h4M144.08 28.5h2M79.59 0.5h2M70.01 11.5h3M166.16 21.5h2M74.5 8.5h1.5M74.56 31.5h4M58.85 1.5h1.5M102.22 39.5h3M94.89 33.5h4M37.29 28.5h1M144.92 23.5h3M49.13 5.5h1.5M161.01 8.5h4M142.9 17.5h2M4.08 30.5h4M146.32 40.5h1M61.06 27.5h1M36.37 38.5h2M102.75 34.5h1M83.27 28.5h2M14.73 8.5h1M94.53 36.5h2M44.69 30.5h2M168.45 17.5h1M103.22 16.5h1.5M126.76 13.5h2M85.98 24.5h4M107.12 39.5h4M167.65 20.5h1.5M0.74 22.5h3M23.47 11.5h1M114.47 24.5h4M156.65 34.5h2M57.9 20.5h1M41.18 24.5h4M54.95 36.5h1M73.33 19.5h2M94.91 13.5h2M144.03 5.5h1.5M80.46 18.5h1M161.59 21.5h1M115.24 5.5h3M13.34 5.5h2M134.08 40.5h4M90.21 5.5h1.5M132.13 32.5h1M133.02 40.5h2M96.27 10.5h2M24.29 5.5h2M73.47 18.5h3M162.21 3.5h2M129.07 7.5h1M17.55 26.5h1M40.2 36.5h2" stroke="#30668e" stroke-opacity="0.85" stroke-width="1" fill="none"/><path d="M36.76 9.5h1.5M133.9 35.5h3M160.18 0.5h2M81.49 4.5h1M71.97 22.5h1M158.47 39.5h2M33.49 29.5h1M2.48 32.5h1.5M11.86 8.5h2M86.41 34.5h2M36.18 37.5h3M52.96 3.5h2M143.04 28.5h1M29.39 18.5h3M6.24 27.5h1M118.39 4.5h3M77.56 39.5h1M82.17 34.5h1.5M108.8 9.5h2M37.26 38.5h1M40.7 1.5h2M118.07 19.5h3M119.21 13.5h3M52.69 38.5h2M104.7 40.5h1.5M94.02 14.5h2M40.54 5.5h1.5M9.77 37.5h2M14.67 9.5h1.5M24.88 32.5h2M99.96 27.5h2M72.62 11.5h1.5M130.78 15.5h2M2.94 28.5h2M81.88 14.5h3M157.12 12.5h2M169.47 29.5h1.5M155.55 21.5h3M19.26 9.5h3M21.91 11.5h3M71.24 7.5h1.5M122.07 16.5h2M84.59 2.5h2M89.11 7.5h3M63.2 30.5h3M1.8 30.5h3M101.08 35.5h2M90.78 33.5h1.5M40.34 3.5h2M98.13 14.5h3M62.23 31.5h1M54.32 11.5h2M135.91 31.5h3M122.57 22.5h1M158.3 24.5h1.5M15.61 39.5h2M104.28 39.5h1M85.92 32.5h1.5M168.19 27.5h1.5M138.24 30.5h3M160.99 4.5h1M6.33 24.5h3M100.65 14.5h2M82.53 10.5h3M37.56 40.5h1M11.29 3.5h1.5M22.08 1.5h3M82.71 32.5h1.5M51.94 9.5h3M29.55 33.5h1M143.29 19.5h3M46.76 33.5h3M129.74 19.5h1M162.01 18.5h1.5M115.52 39.5h1.5M62.86 3.5h1M65.7 29.5h3M36.07 32.5h1M166.64 23.5h1M90.89 5.5h1M127.17 34.5h3M102.58 21.5h1M83.6 32.5h1M86.3 40.5h3M25.34 12.5h2M6.18 15.5h2M50.15 34.5h1M101.8 5.5h2M54.51 5.5h1M10.45 11.5h2M157.51 36.5h1M99.52 0.5h3M11.46 40.5h2M156.26 8.5h2M104.69 23.5h1M144 38.5h3M104.37 9.5h3M23.34 28.5h1M14.51 35.5h1M2.54 22.5h3M1.32 36.5h1M19.5 14.5h2M80.43 7.5h3M119.04 7.5h2M68.59 4.5h2M89.68 3.5h1.5M152.97 33.5h2M75.98 25.5h1.5M129.12 32.5h1M40.75 23.5h1M36.02 12.5h1.5M71.5 28.5h2M138.32 30.5h1M98.86 16.5h3M69.59 16.5h1M122.59 13.5h1.5M18.43 1.5h1.5M4.79 22.5h2M65.14 13.5h1M145.42 11.5h3M141.85 0.5h1M6.06 0.5h1.5M96.39 24.5h3M30.26 4.5h1M9.62 21.5h1M72.87 0.5h1.5M59.57 8.5h1M148.54 13.5h2M54.17 11.5h2M144.2 7.5h1.5M74.73 14.5h3M41.86 8.5h3M53.98 22.5h1M166.17 37.5h3M128.38 33.5h1M68.7 7.5h2M47.32 11.5h3M138.87 15.5h1M167.38 39.5h1M6.48 13.5h3M162.97 19.5h3M112.95 19.5h1.5M131.17 34.5h2M83 33.5h3M141.96 25.5h2M144.92 11.5h1.5M123.84 3.5h3M68.16 0.5h3M164.68 30.5h1M10.48 16.5h3M131.35 18.5h1M69.14 37.5h2M21.5 24.5h3M94.63 26.5h2M168.52 16.5h3M127.52 5.5h3M155.58 34.5h1M60.48 37.5h1M22.09 22.5h2M134.38 36.5h2M65.84 20.5h1.5M138.71 14.5h3M11.6 36.5h1M119.96 13.5h1M3.56 19.5h3M44.77 21.5h2M74.5 5.5h1M122.86 24.5h2M128.58 20.5h3M15.7 31.5h1M23.67 3.5h1.5M109.37 37.5h2M154.76 20.5h3M67.84 5.5h3M69.28 31.5h3M17.89 9.5h1.5M16.2 5.5h1M91.28 21.5h1.5M161.2 40.5h1M73.09 10.5h2M8.31 21.5h2M136.06 11.5h2M42.03 16.5h2M9.43 14.5h2M134.99 20.5h3M56.4 27.5h3M50.32 6.5h1.5M94.45 21.5h3M124 22.5h3M105.86 6.5h1M53.98 35.5h2M103.94 29.5h3M6.32 34.5h3M154.36 13.5h2M105.56 14.5h1M17.11 39.5h3M149.92 18.5h2M104.51 17.5h2M64.77 25.5h2M108.94 40.5h3M58.22 5.5h1.5M10.72 38.5h3M159.72 23.5h3M43.87 0.5h1M35 6.5h1M62.87 29.5h3M135.88 11.5h1.5M25.05 18.5h1M124.15 38.5h3M3.14 23.5h1M167.38 24.5h1.5M94.8 37.5h3M118.36 30.5h2M105.97 24.5h1.5M46.73 18.5h1M145.01 21.5h1M83.75 32.5h2M168.28 38.5h3M33.34 25.5h1M130.29 2.5h1M135.64 2.5h3M19.64 7.5h1M58.73 30.5h1M37.11 4.5h1M20.66 14.5h3M155.33 8.5h2M34.29 15.5h1M126.4 28.5h3M66.98 33.5h3M168.36 5.5h3" stroke="#24848d" stroke-opacity="0.9" stroke-width="1" fill="none"/><path d="M95.18 21.5h1M165.02 38.5h2.5M110.9 2.5h2M128.13 28.5h2M6.37 14.5h2M110.73 18.5h2M80.95 26.5h2.5M150.65 0.5h2M159.29 27.5h1M144.16 0.5h1M54.38 19.5h1M36.99 8.5h2.5M146.13 2.5h3M19.36 18.5h2.5M68.21 26.5h1M148.34 33.5h2M125.72 33.5h3M115.48 21.5h1M166.13 15.5h1M31.58 22.5h1M123.2 23.5h2M162.43 30.5h1M84.15 1.5h1M72.6 34.5h2M72.82 5.5h2M109.57 14.5h2.5M18.25 39.5h2M5.86 3.5h1M49.39 3.5h1.5M67.82 26.5h1M94.72 30.5h2M137.85 21.5h1M78.53 4.5h1M4.92 10.5h1M58.61 30.5h2M19.26 39.5h2.5M20.06 14.5h1M118.96 36.5h1.5M69.38 27.5h3M109.39 6.5h2M106.2 29.5h1.5M94.41 20.5h2M165.88 30.5h2.5M10.2 24.5h1M74.52 0.5h1.5M33.97 24.5h2M149.48 29.5h3M152.63 10.5h3M66.29 36.5h2M153.99 40.5h2.5M30.28 36.5h1M72.81 37.5h2.5M152.32 23.5h1M43.56 31.5h1.5M76.49 15.5h2.5M28.1 18.5h1M77.36 29.5h1M83.1 1.5h2M131.08 25.5h1.5M90.56 10.5h1.5M30.4 40.5h2M151.23 31.5h2M85.7 16.5h2M0.01 13.5h2M91.51 37.5h1M78.71 34.5h3M126.14 39.5h1.5M86.28 7.5h2M124.16 12.5h3M64.53 37.5h1" stroke="#22a784" stroke-opacity="0.9" stroke-width="1" fill="none"/></pattern>
<pattern id="sp2" patternUnits="userSpaceOnUse" width="173" height="41" patternTransform="translate(37,13)"><path d="M106.52 22.5h3M161.16 33.5h0.8M143.7 15.5h3M8.87 10.5h0.8M63.58 15.5h1.5M92.98 36.5h1M2.24 13.5h1.5M47.79 24.5h1M130.29 4.5h1M105.67 28.5h1M22.61 0.5h1M132.28 10.5h1M49.47 12.5h2M149.82 40.5h1M31.07 12.5h1.5M51.09 23.5h1.5M28.38 9.5h1M11.14 19.5h2M100.23 38.5h3M121.01 4.5h1M60.77 19.5h1.5M119.09 11.5h1.5M80.8 11.5h0.8M43.81 1.5h3M61.16 25.5h0.8M93.89 26.5h1M64.36 0.5h1.5M7.99 11.5h2M163.34 12.5h0.8M129.23 29.5h1M87.64 33.5h1M132.63 6.5h2M127.98 23.5h1M6.26 5.5h1M58.27 39.5h1M156.99 21.5h1M158.04 34.5h0.8M53.43 20.5h1M30.35 5.5h3M25.46 19.5h1.5M27.62 3.5h0.8M168.73 34.5h1.5M5.44 38.5h1M141.3 29.5h3M72.12 3.5h3M5.6 31.5h1M143.37 8.5h3M96.45 8.5h3M153.3 26.5h0.8M28.87 23.5h1M10.05 26.5h1M24.15 39.5h1M166.9 29.5h1.5M117.79 20.5h1.5M46.86 30.5h1.5M154.22 7.5h1.5M140.57 34.5h1M107.21 31.5h1M30.8 31.5h1M88.1 35.5h2M61.79 22.5h3M100.46 2.5h1M62.15 17.5h1.5M45.29 18.5h1M111.1 37.5h0.8M81.11 16.5h1M114.85 29.5h1M139.65 22.5h1M46.83 22.5h3M160.32 26.5h1M157.72 11.5h3M76.91 23.5h1M88.6 33.5h1M33.97 23.5h1.5M48.37 5.5h3M114.72 26.5h1M105.47 37.5h2M113.81 26.5h1M106.66 40.5h1M123.19 1.5h1M27.36 28.5h2M111.17 14.5h3M30.87 2.5h1.5M167.54 10.5h0.8M152.5 7.5h1M165.52 30.5h1M93.76 26.5h1.5M60.04 39.5h0.8M100.92 15.5h3M154.44 0.5h1M69.32 17.5h1.5M148.15 35.5h1M164.91 35.5h2M51.54 18.5h2M87.66 37.5h1M163.87 8.5h1.5M69.98 36.5h3M92.06 29.5h1M26.81 24.5h2M81.57 12.5h1M104.07 22.5h3M0.16 6.5h1M96.75 39.5h2M24.06 40.5h2M64.27 27.5h1M84.37 30.5h3M64.94 10.5h2M101.57 19.5h1.5M42.93 1.5h1M161.63 19.5h1.5M158.95 9.5h1.5M4.07 39.5h1.5M41.98 2.5h1M141.38 0.5h1.5M91.07 17.5h1M159.93 2.5h1M83.81 9.5h3M169.09 18.5h1.5M103.97 30.5h2M110.27 38.5h3M153.05 1.5h1M51.42 34.5h3M57.48 18.5h3M90.61 29.5h1M61.74 37.5h1M6.23 16.5h2M77.91 6.5h3M93.3 0.5h1.5M133.1 27.5h2M98.43 40.5h3M82.4 24.5h1.5M67.01 12.5h1M79.53 4.5h1M143 27.5h2M48.97 30.5h1M24.4 30.5h3M93.9 31.5h1M91.99 27.5h2M92.58 3.5h0.8M125.28 17.5h0.8M135.39 1.5h1M123.56 4.5h1.5M119.91 3.5h0.8M143.99 14.5h2M110.42 7.5h3M153.02 18.5h3M156.98 9.5h1M104.41 26.5h1M11.5 13.5h0.8M94.99 24.5h3M12.31 3.5h2M98.37 25.5h2M22.97 27.5h0.8M53.79 38.5h1.5M83.72 23.5h0.8M23.64 18.5h1M97.24 32.5h1M155.68 35.5h2M106.17 16.5h0.8M94.34 16.5h1M88.41 8.5h1M147.66 29.5h3M66.5 8.5h3M3.2 21.5h0.8M98.02 2.5h0.8M147.64 32.5h2M77.55 24.5h1.5M82.16 20.5h0.8M136.2 1.5h2M123.98 3.5h1M161.53 27.5h3M135.84 7.5h0.8M166.33 31.5h1M23.9 39.5h1.5M60.59 15.5h1M56.99 39.5h3M59.62 24.5h1.5M23.33 22.5h3M50.6 40.5h1.5M164.37 23.5h2M6.22 36.5h1M126.57 25.5h0.8M16.59 2.5h1M34.61 2.5h1.5M152.06 30.5h3M130.02 0.5h1.5M80.4 39.5h1.5M55.28 29.5h0.8M32.76 10.5h0.8M64.06 24.5h1.5M26.01 16.5h0.8M47.44 10.5h1M114.91 2.5h1.5M153.28 22.5h1M54.05 3.5h3M3.72 29.5h1.5M145.14 9.5h0.8M134.29 20.5h1M77.61 15.5h3M169.91 2.5h1M122.23 36.5h1M112.26 39.5h1.5M155.9 23.5h3M53.32 29.5h1M48.42 29.5h1M132.67 11.5h3M35.7 2.5h3M104.08 17.5h0.8M78.99 28.5h3M70.14 2.5h0.8M93.78 33.5h2M59.85 6.5h3M12.18 31.5h0.8M160.01 3.5h3M41.63 3.5h1.5M67.94 3.5h0.8M43.68 26.5h1.5M52.32 3.5h0.8M162.47 12.5h1M118.97 40.5h1.5M32.16 14.5h0.8M158.51 6.5h0.8M92.67 10.5h2M12.89 13.5h2M2.98 34.5h1M83.2 36.5h1.5M89.32 8.5h3M2.11 19.5h3M76.79 14.5h2M19.78 19.5h1.5M14.99 16.5h1.5M53.5 8.5h2M14.02 15.5h3M14.42 27.5h2M113.94 17.5h0.8M84.24 15.5h0.8M120.32 18.5h1M151.43 4.5h1.5M131.58 24.5h2M0.01 18.5h3M160.79 8.5h2M4.84 9.5h3M112.08 1.5h3M8.07 27.5h1M18.22 24.5h2M22.27 4.5h1M28.96 16.5h1.5M115.58 18.5h0.8M10.86 35.5h0.8M4.7 3.5h1M141.33 27.5h1M162.32 39.5h0.8M39.52 27.5h1M61.97 21.5h1M2.13 37.5h2M141.4 6.5h1M90.68 10.5h3M121.31 28.5h1.5M135.91 7.5h1M54.22 14.5h1.5M101.95 10.5h1.5M8.28 10.5h2M80.94 31.5h2M0.28 8.5h1.5M117.22 13.5h0.8M5.62 36.5h1M82.42 22.5h1.5M79.38 12.5h1M140.51 19.5h2M88.21 15.5h1M60.15 15.5h3M143.68 3.5h2M84.54 22.5h1M24.42 15.5h1.5M65.25 6.5h1M67.89 18.5h1M136.2 20.5h1.5M116.78 34.5h2M15.58 12.5h1.5M117.76 6.5h2M103.51 39.5h1M139.07 1.5h1M115.93 39.5h1M87.82 32.5h1.5M93.31 25.5h1.5M167.99 37.5h3M95.33 3.5h2M25.07 26.5h1M163.87 1.5h3M131.66 13.5h1M48.97 1.5h0.8M132.31 39.5h2M147.56 26.5h1M165.63 0.5h1M158.89 15.5h0.8M6.46 5.5h3M164.48 19.5h1M117.59 38.5h2M96.1 30.5h2M15.72 7.5h1M58.47 34.5h1.5M67.27 0.5h3M66.72 11.5h3M90.35 13.5h3M104.91 24.5h1M18.62 35.5h3M122.31 23.5h1M151.64 13.5h1M52.25 17.5h2M13.33 10.5h0.8M108.21 11.5h1M112.15 36.5h2M107.13 40.5h2M124.49 26.5h1M72.74 33.5h2M154.71 19.5h1.5M48.01 38.5h1M32.02 1.5h1M19.77 36.5h2M103.19 11.5h1.5M32.54 38.5h0.8M110.53 21.5h3M13.03 31.5h1M142.72 4.5h1M32.38 29.5h3M65.69 14.5h3M105.21 30.5h0.8M0.27 10.5h0.8M15.87 9.5h1M105.29 6.5h2M129.63 20.5h1M121.94 35.5h2M106.89 6.5h1M17.59 4.5h1M35.3 23.5h1M78.43 5.5h1M68.96 34.5h1.5M64.16 7.5h2M164.52 8.5h3M0.56 24.5h1M161.6 4.5h1.5M129.92 18.5h0.8M19.98 30.5h1M128.41 12.5h1M65.34 18.5h1.5M109.86 5.5h2M18.79 26.5h1M161.27 4.5h2M73.94 14.5h1.5M168.6 17.5h3M123.12 9.5h1M165.44 35.5h1.5M73.95 11.5h2M144.3 15.5h0.8M77.37 8.5h0.8M0.88 9.5h1M138.62 1.5h1M96.16 24.5h2M13.41 13.5h1M166.61 28.5h0.8M80.69 5.5h1M102.32 30.5h2M3.85 10.5h1.5M131.82 32.5h1.5M147.09 39.5h3M100.4 13.5h0.8M72.1 26.5h1.5M156.53 24.5h0.8M170.84 10.5h1M25.35 12.5h1.5M142.65 4.5h1M37.06 26.5h1M46.32 30.5h1M48.99 40.5h0.8M131.54 29.5h0.8M12.64 24.5h0.8M153.46 9.5h1M110.84 31.5h1M102.41 8.5h1.5M40.45 23.5h2M5.32 11.5h1.5M14.63 8.5h3M63.77 13.5h1M50.24 35.5h0.8M48.5 6.5h3M68.3 19.5h1M155 35.5h2M75.82 15.5h2M24.02 1.5h2M2.16 24.5h1M40.62 3.5h0.8M2.6 13.5h1.5M39.74 39.5h1M135.58 3.5h2M40.79 24.5h1M132.78 35.5h1M75.17 6.5h3M21.1 23.5h2M90.64 37.5h2M162.39 24.5h1M144.8 37.5h3M13.23 28.5h0.8M125.89 33.5h2M66.48 32.5h1M139.78 23.5h1.5M23.6 22.5h0.8M84.52 36.5h2M35.46 29.5h0.8M10.23 5.5h0.8M58.5 9.5h1M165.45 16.5h1M82.76 9.5h3M21.27 16.5h0.8M107 24.5h1M107.53 15.5h3M45.04 28.5h1M101.55 36.5h0.8M154.19 22.5h2M21.11 29.5h0.8M118.63 39.5h1.5M115.26 2.5h0.8M100.69 7.5h1.5M123.31 39.5h1.5M104.66 14.5h2M162.28 7.5h3M10.95 37.5h0.8M7.27 29.5h1M110.96 34.5h3M143.48 17.5h0.8M69.28 19.5h1M77.54 19.5h0.8M150.28 20.5h2M112.45 31.5h1.5M65.13 13.5h1M53.8 39.5h1M78.25 9.5h1M169.94 40.5h1.5M74.86 33.5h3M67.49 12.5h1M156.48 10.5h3M85.87 36.5h1M155.97 9.5h1.5M45.8 31.5h2M91.68 13.5h2M41 10.5h1.5M94.44 16.5h1M50.21 6.5h1M44.32 22.5h2M45.25 40.5h3M109.55 7.5h3M131.65 21.5h0.8M17.61 40.5h1M144.38 37.5h1M8.52 34.5h1.5M29.45 21.5h3M130.96 6.5h1.5M146.68 6.5h1M11.02 21.5h1.5M170.81 26.5h0.8M11.32 4.5h1M6.73 6.5h3M153.27 32.5h1.5M17.81 26.5h0.8M38.68 1.5h2M92.54 6.5h3M87.48 23.5h0.8M79.71 6.5h1M131.45 7.5h2M91.9 5.5h3M168.82 34.5h1.5M74.81 17.5h1M94.21 27.5h0.8M35.78 32.5h1M65.28 40.5h1M157.1 20.5h3M90.46 8.5h1M9.16 29.5h1M75.78 36.5h3M85.53 18.5h1M127.25 16.5h1.5M80.46 38.5h0.8M22.95 12.5h1.5M118.84 6.5h1.5M170.57 8.5h1M28.68 5.5h3M76.33 39.5h1.5M146.6 10.5h3M82.39 19.5h2M151.34 40.5h1M119.31 34.5h3M94.99 13.5h0.8M57.54 37.5h1.5M109.28 31.5h2M157.23 18.5h2M57.08 18.5h1M89.59 18.5h1.5M63.34 8.5h1M112.02 2.5h0.8M83.36 10.5h1M164.77 26.5h3M48.24 37.5h3M78.82 33.5h2M56.06 39.5h0.8M27.24 31.5h3M0.21 30.5h1.5M143.14 2.5h1M91.52 30.5h0.8M126.01 10.5h1M145.8 15.5h3M141.78 6.5h1.5M71.42 14.5h3M46.81 0.5h1M112.29 37.5h0.8M127.12 32.5h1M74.36 19.5h1M125.74 23.5h2M102.04 28.5h3M124.25 16.5h2M143.75 9.5h1.5M9.72 0.5h1M131 6.5h1M78.33 28.5h1.5M81.5 33.5h0.8M4.24 39.5h2M79.56 39.5h2M103.33 39.5h1M3.47 28.5h2M34.43 4.5h3M58.13 6.5h2M63.16 5.5h1M37.65 0.5h0.8M73.3 19.5h1M124.62 24.5h1.5M28.39 7.5h1.5M117.86 13.5h1M68.85 28.5h1M69.89 1.5h1M77.93 12.5h3M117.57 17.5h0.8M148.9 27.5h1.5M140.9 35.5h3M125.7 12.5h1M56 16.5h3M116.61 2.5h1M140.42 10.5h1M108.29 38.5h1.5M61.97 9.5h3M49.25 0.5h2M25.46 27.5h0.8M127.02 35.5h1.5M163.78 20.5h3M158.08 5.5h1.5M25.72 0.5h0.8M123.62 23.5h1.5M45.26 36.5h1.5M151.52 21.5h2M165.74 26.5h1M67.24 35.5h1.5M167.25 1.5h1M82.14 6.5h2M12.13 34.5h1.5M37.56 38.5h1M16.13 20.5h1.5M29.77 22.5h0.8M52.93 7.5h2M152.24 40.5h0.8M6.96 32.5h1.5M37.01 19.5h1M72.54 39.5h1.5M97.88 33.5h1M150.65 5.5h2M51.75 24.5h1M70.74 10.5h1M107.03 27.5h0.8M169 13.5h1M116.59 29.5h1M16.81 31.5h1M6.06 28.5h3M149.06 3.5h2M39 18.5h1M45.2 32.5h2M59.29 32.5h0.8M144.63 36.5h1.5M70.62 12.5h2M124.59 27.5h0.8M22.52 28.5h1M150.3 19.5h1M72 37.5h0.8M29.99 28.5h1M125.5 2.5h2M18.6 3.5h0.8M157.7 18.5h3M49.96 27.5h3M39.66 27.5h1.5M50.71 21.5h2M118.6 32.5h2M145.93 29.5h2M79.11 2.5h1M62.5 20.5h2M15.14 28.5h1M63.35 21.5h3M160.78 24.5h1.5M146.53 16.5h1M24.72 34.5h1.5M61.1 11.5h1M168.24 0.5h3M68.74 16.5h1M105.92 27.5h2M88.22 7.5h1M64.67 12.5h1M112.69 15.5h3M85.39 37.5h3M86.11 7.5h2M52.4 21.5h1M104.61 10.5h0.8M7.77 31.5h0.8M46.74 33.5h1M7.8 14.5h1M134.76 14.5h1M77.98 2.5h3M20.86 12.5h0.8M168.31 19.5h0.8M42.36 4.5h3M18.79 37.5h1M133.83 16.5h1.5M28.92 17.5h1M11.19 11.5h1M123.1 31.5h0.8M131.18 30.5h1M145.51 35.5h1M65.55 36.5h0.8M48.3 2.5h3M44.45 29.5h1M20.55 5.5h1M54.68 15.5h2M83.27 0.5h2M161.83 33.5h1.5M60.41 17.5h3M36.86 37.5h1M77.46 0.5h2M99.95 14.5h0.8M96.47 5.5h1M40.52 24.5h3M110.56 13.5h1M143.91 8.5h1M129.91 10.5h0.8M103.62 39.5h3M143.3 38.5h1.5M37.94 28.5h3M52.33 16.5h0.8M102.05 37.5h1.5M136.9 6.5h3M126.83 22.5h2M81.25 33.5h0.8M51.66 35.5h1M103.53 19.5h1.5M47.73 30.5h2M103.57 21.5h1M33.17 35.5h2M107.9 6.5h2M158.85 1.5h1.5M30.89 34.5h0.8M33.94 10.5h1M68.43 17.5h0.8M109.4 19.5h3M19.27 15.5h0.8M103.23 17.5h1.5M75.6 16.5h0.8M82.11 31.5h1M69.44 30.5h2M10.57 25.5h2M102.3 12.5h2M131.96 16.5h1M86.02 11.5h1M73.77 39.5h3M114.57 24.5h3M141.23 14.5h2M105.01 39.5h3M10.43 14.5h1.5M84.15 33.5h3M30.11 29.5h1.5M160.66 28.5h3M96.86 15.5h1M121.5 14.5h1M14.44 28.5h3M80.07 0.5h3M25.07 31.5h3M105.24 8.5h0.8M137.3 4.5h1.5M75.43 11.5h0.8M129.29 21.5h1.5M90.92 33.5h3M129.24 21.5h3M38.3 10.5h1.5M87.6 35.5h1M8.4 37.5h1M1.53 2.5h1M32.55 16.5h1M166.2 14.5h3M41.27 4.5h2M84.86 30.5h1M56.2 16.5h1M62.21 0.5h1M20.43 9.5h1M53.79 15.5h1M130.83 18.5h0.8M107.56 30.5h1M20.09 33.5h3M45.99 9.5h3M134.28 6.5h0.8M75.12 9.5h2M159.06 14.5h1M55.74 11.5h0.8M73.74 27.5h1.5M0.53 16.5h2M122.49 5.5h0.8M1.09 19.5h2M79.64 40.5h1M62.13 35.5h1M47.54 27.5h1.5M164.76 0.5h1.5M82.07 30.5h0.8M52.61 4.5h1M169.61 7.5h0.8M99.71 32.5h2M66.61 12.5h3M115 30.5h2M89.09 12.5h1M121.54 1.5h0.8M105.61 26.5h0.8M164.2 29.5h1M95.92 20.5h1.5M44.24 14.5h1.5M82.58 4.5h1M14.57 37.5h2M49.82 27.5h0.8M114.84 29.5h0.8M113.61 3.5h1M72.81 37.5h1M35.74 15.5h3M10.89 33.5h1.5M31.02 28.5h3M84.11 8.5h1.5M162.07 23.5h1.5M19.65 29.5h1M12.31 29.5h1M114.26 23.5h2M159.8 15.5h0.8M88.14 23.5h1M116.43 2.5h3M59.44 22.5h1M145.33 24.5h2M70.27 38.5h1M71.99 14.5h2M30.87 1.5h1M150.55 6.5h1M155.53 27.5h2M105.13 30.5h3M123.49 27.5h1M63.24 25.5h0.8M96.4 24.5h1M162.48 22.5h1M70.54 17.5h1M84.2 10.5h1M151.19 2.5h1.5M56.1 5.5h3M85.02 19.5h0.8M51.71 38.5h1M86.04 31.5h3M28.38 12.5h1.5M75.01 17.5h3M106.31 37.5h0.8M135.04 38.5h1M18.11 10.5h2M3.6 36.5h1M119.59 1.5h0.8M147.89 35.5h1M161.2 7.5h3M89.88 11.5h3M99.31 20.5h1M119.43 13.5h2M67.56 10.5h1M103.49 30.5h1M170.37 25.5h3M77.69 16.5h1M56.5 18.5h3M67.78 38.5h2M132.65 15.5h1M134.21 6.5h0.8M99.54 38.5h1.5M167.23 39.5h0.8M145.86 8.5h1.5M150.11 2.5h1.5M102.86 20.5h3M98.36 7.5h2M134.77 40.5h2M33.36 36.5h3M19.61 8.5h3M11.42 18.5h1M106.98 38.5h3M40.06 3.5h1.5M18.71 28.5h0.8M36.87 28.5h3M12.93 0.5h0.8M100.95 13.5h2M103.44 14.5h2M125.02 27.5h2M99.23 19.5h0.8M39.4 35.5h1.5M103.87 38.5h1.5M3.08 8.5h3M147.59 40.5h1M22.92 2.5h1.5M128.74 26.5h1M169.06 37.5h3M78.33 30.5h1.5M71.99 14.5h1M140.04 30.5h3M164.63 7.5h3M4.51 34.5h3M146.77 1.5h1M114.74 34.5h1.5M159.92 21.5h1M113.62 26.5h0.8M58 24.5h0.8M21.33 4.5h0.8M114.92 32.5h1M12.49 31.5h1.5M129.07 22.5h1.5M41.47 23.5h1M168.05 12.5h0.8M154.74 19.5h1M6 26.5h2M66.14 39.5h1M163.56 37.5h2M25.54 12.5h1.5M107.77 3.5h0.8M115.67 16.5h1.5M84.4 4.5h1.5M95.7 20.5h1M99.47 33.5h0.8M134.95 36.5h0.8M109.12 36.5h1M140.72 6.5h0.8M81.01 0.5h2M152.9 38.5h1.5M146.38 15.5h1.5M60.09 2.5h0.8M121.42 30.5h1M46.31 23.5h2M79.21 13.5h1M168.66 11.5h1M21.32 37.5h1.5M106.92 1.5h3M150.07 38.5h1.5M34.9 14.5h0.8M93.28 27.5h1M24.49 16.5h1M58.63 6.5h3M54.05 12.5h1M111.24 34.5h3M118.94 11.5h1.5M123.88 31.5h1M137.84 3.5h1M165.94 33.5h2M49.75 16.5h1M166.37 28.5h0.8M20.84 8.5h1M126.26 23.5h1M9.55 28.5h1M112.68 30.5h1M79.36 34.5h1M44.24 23.5h3M151.13 27.5h0.8M7.77 21.5h1.5M38.92 7.5h2M151.5 29.5h3M152.62 20.5h3M86.96 38.5h0.8M170.87 29.5h3M84.74 35.5h0.8M102.31 19.5h3M100.03 13.5h1.5M170.33 2.5h0.8M61.99 27.5h1M95.46 16.5h1M17.21 16.5h1M44.31 5.5h1M13.55 23.5h2M12.22 35.5h3M103.43 16.5h3M99.04 17.5h3M72.3 24.5h1M67.03 28.5h1.5M41.89 40.5h0.8M22.05 36.5h1M134.98 14.5h2M42.7 24.5h1M78.49 26.5h1.5M103.98 17.5h3M58.84 32.5h1M27.46 25.5h0.8M117.51 40.5h2M153.69 38.5h2M65.78 35.5h2M50.51 1.5h2M111.78 32.5h1M2.91 31.5h0.8M109.69 21.5h1M40.79 40.5h1.5M94.52 19.5h1M80.56 26.5h3M59.52 39.5h1M151.68 9.5h2M151.06 16.5h1M107.46 11.5h1M120.09 11.5h1M72.15 40.5h1.5M122.5 11.5h1.5M163.71 2.5h1M29.74 23.5h2M33.36 18.5h1M145.37 25.5h2M170.61 38.5h2M153.02 0.5h1M108.62 16.5h3M144.08 5.5h3M169.44 21.5h3M27.2 34.5h3M135.58 13.5h3M158.22 12.5h3M116.8 22.5h1.5M78.6 37.5h1M123.73 17.5h3M10.72 9.5h0.8M18.02 16.5h1.5M147.9 14.5h1M159.37 30.5h1.5M139.6 4.5h1.5M145.42 19.5h1M42 0.5h1M4.89 17.5h1M157.27 38.5h2M12.08 40.5h2M65.09 29.5h0.8M93.77 38.5h3M140.46 31.5h1M57.22 27.5h1.5M36.6 22.5h1M98.72 14.5h1M84.07 4.5h1M109.39 27.5h2M143.6 9.5h2M45.39 22.5h1M61.63 39.5h2M63.05 3.5h1.5M22.93 24.5h2M140.93 19.5h1M2.15 20.5h1M23.85 21.5h1.5M132.65 21.5h1.5M145.56 15.5h2M52.25 31.5h1M90.1 25.5h3M20.43 9.5h3M103.4 19.5h1.5M156.53 2.5h3M15.36 37.5h1M25.92 27.5h1M118.3 1.5h3M80.24 21.5h1M88.45 25.5h0.8M29.07 19.5h1.5M13.93 1.5h1M99.03 5.5h0.8M7.16 38.5h3M74.47 34.5h3M47.79 37.5h1M68.09 2.5h1M125.28 6.5h1M34.7 32.5h1M128.03 13.5h1M97.25 5.5h1M44.19 35.5h1M145.52 18.5h0.8M76.06 11.5h1M49.51 8.5h1M41.93 12.5h3M74.81 10.5h1M158.11 36.5h2M143.97 31.5h1.5M86.09 8.5h1M38.58 37.5h1M170.16 39.5h1M91 14.5h1M91.95 27.5h2M31.87 11.5h2M107.05 31.5h1.5M9.82 17.5h2M46.04 19.5h3M151.64 0.5h3M15.35 14.5h1M32.26 17.5h1M26.82 14.5h1M139.37 11.5h1.5M79.29 22.5h1M20.82 10.5h3M107.62 38.5h1.5M27.87 15.5h3M133.83 36.5h2M98.07 0.5h1.5M45.56 26.5h3M12.38 4.5h1M163.71 35.5h1M117.9 8.5h3M163.8 13.5h1.5M74.29 29.5h1M30.89 28.5h3M103.52 0.5h3M47.82 19.5h2M74.38 6.5h0.8M90.95 35.5h1M50.16 5.5h0.8M24.96 22.5h1.5M157.64 13.5h0.8M7.72 12.5h1M86.16 21.5h0.8M3.57 5.5h3M9.45 16.5h1.5M51.03 0.5h1.5M106.77 21.5h0.8M106.35 0.5h0.8M51.07 11.5h1.5M60.59 39.5h1M60.85 35.5h1M138.58 22.5h1M113.8 12.5h2M147.24 32.5h1.5M43.82 28.5h1.5M105.92 26.5h1M117.77 32.5h1M138.68 32.5h2M33.04 17.5h1M138 12.5h1.5M109.3 19.5h1M154.61 37.5h2M81.09 40.5h1.5M101.83 32.5h1.5M135.06 17.5h2M116.74 27.5h2M120.63 22.5h3M145.9 31.5h3M84.19 0.5h0.8M21.61 29.5h3M130.85 25.5h0.8M137.84 19.5h1M19.07 8.5h1.5M135.53 12.5h1M54.17 8.5h1.5M155.41 13.5h3M40.26 38.5h3M120.24 2.5h2M99.16 33.5h3M94.77 32.5h3M136.4 25.5h1.5M56.58 2.5h2M80.48 1.5h1M108.85 30.5h0.8M127.69 23.5h3M127.78 40.5h1M16.66 34.5h1.5M28.18 12.5h2M142.13 30.5h3M126.93 33.5h2M125.17 32.5h1M59.8 7.5h0.8M33.51 10.5h1.5M131.5 25.5h1.5M21.32 36.5h1M116.91 12.5h2M43.35 11.5h1M40.53 39.5h2M132.14 27.5h1M78.46 36.5h1M165.41 4.5h3M73.3 32.5h2M142.54 24.5h1.5M13.88 31.5h3M104.15 27.5h1M88.57 20.5h3M127.16 36.5h2M124.59 4.5h1M18.92 34.5h2M56.95 9.5h2M19.46 1.5h2M125.23 26.5h0.8M125.24 6.5h1M96.82 1.5h1M160.91 28.5h1M90.81 30.5h0.8M168.1 35.5h1M49.2 34.5h1.5M52.17 1.5h1M97.51 6.5h1M30.98 17.5h2M43.91 25.5h0.8M92.82 11.5h1.5M11.76 10.5h3M6.76 24.5h0.8M50.74 4.5h3M6.64 3.5h1M59.02 32.5h2M69.63 8.5h1M49.29 37.5h1M156.47 37.5h1.5M29.88 21.5h1M6.13 23.5h0.8M19.02 1.5h1M22.74 5.5h1M167.68 10.5h3M51.58 14.5h1M9.03 29.5h1M132.64 4.5h3M84.04 8.5h2M134.7 2.5h2M28.96 4.5h3M132.56 19.5h1M149.69 13.5h1.5M118.57 11.5h1.5M164.12 16.5h1M136.28 24.5h2M79.86 33.5h1M147.44 12.5h1M89.29 15.5h3M32.64 18.5h2M11.94 19.5h1M92.55 14.5h2M20.67 2.5h1M20.19 1.5h1.5M163.32 4.5h1.5M93.31 21.5h2M85.71 3.5h3M69.92 35.5h3M8.97 33.5h1M85.96 10.5h3M160.11 32.5h3M30.15 39.5h1M36.32 29.5h3M163.38 22.5h1.5M54.02 17.5h2M91.82 26.5h3M41.97 14.5h1M63.18 10.5h2M44.91 3.5h0.8M145.07 36.5h1M136.98 21.5h1M62.92 16.5h1M106.6 36.5h0.8M49.47 7.5h1.5M29.59 2.5h1M155.04 29.5h1.5M74.47 8.5h1.5M38.23 11.5h1M149.8 14.5h2M132.69 30.5h1M143.49 3.5h1M18.03 26.5h3M25.05 9.5h1M17.4 1.5h1M59.96 1.5h2M26.52 18.5h1M3.68 2.5h1M87.06 16.5h0.8M170.62 11.5h2M78.11 15.5h1M8.03 21.5h1M106.02 27.5h3M114.63 5.5h2M84.83 10.5h2M117.39 36.5h1M81.02 25.5h2M128.06 37.5h2M121.35 28.5h1.5M68.4 11.5h2M58.48 15.5h1.5M35.21 30.5h1M2.4 39.5h0.8M100.61 2.5h1.5M118.07 37.5h0.8M150.37 18.5h0.8M79.71 40.5h0.8M10.98 20.5h1M156.55 18.5h0.8M14.74 40.5h0.8M76.2 36.5h1M32.36 7.5h2M89.27 25.5h2M169.85 11.5h2M15.33 19.5h2M46.57 39.5h3M23.03 21.5h0.8M97.23 32.5h3M169.88 19.5h2M55.16 22.5h1M129.3 30.5h2M151.37 13.5h1.5M53.86 39.5h2M160.46 1.5h1.5M21.23 5.5h2M95.29 0.5h1.5M5.17 7.5h1M69.45 11.5h1.5M152.74 3.5h0.8M95.53 7.5h1M117.64 24.5h2M127.65 37.5h1.5M134.31 35.5h3M92.02 16.5h3M132.95 6.5h0.8M152.73 29.5h0.8M66.7 12.5h0.8M79.87 16.5h2M82.43 39.5h0.8M33.65 34.5h3M166.36 9.5h2M37.36 12.5h0.8M82.73 19.5h0.8M6.69 37.5h3M35.5 7.5h1.5M109.47 27.5h3M117.85 11.5h1M165.46 32.5h1M112.47 39.5h3M85.17 29.5h3M69.75 25.5h0.8M98.29 21.5h3M38.02 6.5h2M150.38 7.5h2M58.98 0.5h2M114.49 2.5h1M157.5 16.5h0.8M77.51 2.5h2M135.55 31.5h2M98.19 30.5h1.5M158.3 29.5h2M1.88 37.5h1M15.06 37.5h2M103.07 11.5h1M150.2 0.5h1.5M85.58 16.5h0.8M104.48 33.5h1M30.73 39.5h1M53.86 26.5h2M121.01 4.5h1M165.02 21.5h1.5M142.51 22.5h0.8M22.05 18.5h3M111.46 16.5h0.8M92.61 4.5h3M60.96 9.5h1M86.7 31.5h3M34.44 21.5h3M88.08 39.5h3M102.27 15.5h1M152.14 3.5h0.8M72.02 9.5h3M128.4 5.5h1M105.3 34.5h1M148.61 40.5h2M113.84 1.5h1M19.47 5.5h1.5M26.27 28.5h1M66.04 15.5h2M86.33 37.5h0.8M14.76 12.5h1.5M41.99 5.5h1.5M101.4 15.5h1.5M7.23 17.5h1M114.95 38.5h0.8M43.86 36.5h1.5M76.17 12.5h2M9.36 25.5h1M10.12 16.5h1M12.98 19.5h0.8M88.05 37.5h2M165.88 12.5h1M64.84 36.5h1M101.03 7.5h2M71.44 17.5h0.8M133.79 37.5h0.8M123.43 9.5h2M19.25 5.5h1M44.05 40.5h3M91.27 27.5h1M34.78 15.5h1M99.74 19.5h1M118.12 2.5h1M80.14 23.5h3M129.53 27.5h0.8M87.38 16.5h1M36.16 21.5h1.5M147.71 6.5h3M126.92 36.5h2M107.47 38.5h0.8M162.84 9.5h1M90.61 11.5h2M152.32 0.5h0.8M74.85 15.5h3M126.39 24.5h1M25.54 20.5h2M67.8 16.5h1M128.09 24.5h0.8M4.87 38.5h0.8M144.77 18.5h1M56.85 28.5h1M34.82 39.5h1.5M72.5 39.5h1M92.48 7.5h2M126.22 21.5h1M103.94 21.5h1.5M158.26 17.5h0.8M40.43 21.5h3M107.26 14.5h1M168.42 24.5h3M35.44 32.5h3M83.07 30.5h1.5M28.04 38.5h3M140.96 34.5h3M98.45 32.5h1M100.65 34.5h1M147.71 32.5h2M112.8 10.5h3M74.14 16.5h0.8M149.18 36.5h0.8M101.32 10.5h1M2.87 1.5h2M152.35 25.5h2M155.23 40.5h2M126.04 23.5h2M109.21 13.5h3M161.25 10.5h1M155.9 34.5h0.8M25.22 23.5h1M137.16 0.5h1M128.91 7.5h1M152.24 7.5h3M15.79 39.5h1M61.15 34.5h1M126.3 1.5h1M161.76 30.5h0.8M70.68 24.5h0.8M3.26 7.5h1M74.05 23.5h1M114.57 26.5h1.5M68.38 40.5h3M102.6 30.5h3M62.64 33.5h3M5.14 8.5h1M33.21 11.5h1M42.33 13.5h2M13.64 6.5h2M27.76 0.5h0.8M125.82 27.5h1M3.77 0.5h0.8M29.53 16.5h0.8M58.99 10.5h2M115.02 28.5h1M127.53 26.5h1M129.09 34.5h1M162.78 11.5h1M96.61 13.5h1M26.09 24.5h3M103.93 13.5h2M13.93 21.5h0.8M78.27 31.5h0.8M140.53 16.5h0.8M140.79 17.5h2M141.06 30.5h1M12.44 16.5h3M136.21 15.5h1.5M133.66 12.5h1M1.49 28.5h2M150.77 40.5h1M8.03 21.5h3M144.74 10.5h2M170.83 2.5h3M23.25 20.5h1M125.79 32.5h1.5M104.88 34.5h2M121.29 11.5h3M28.93 7.5h1M87.45 40.5h1M123.1 15.5h2M148.01 9.5h1.5M105.22 7.5h1M112.33 4.5h2M134.53 36.5h0.8M36.11 15.5h1M74.93 38.5h1.5M97.66 11.5h2M64.83 12.5h1M13.64 7.5h1M128.72 33.5h3M1.91 3.5h2M3.31 8.5h1M17.43 21.5h1.5M57.95 34.5h3M82.57 3.5h1M159.74 28.5h1.5M38.59 6.5h1.5M110.11 1.5h1.5M18 5.5h3M106.34 8.5h1M125.52 29.5h2M163.64 5.5h0.8M170.99 10.5h0.8M150.39 27.5h1M59.21 18.5h3M30.15 7.5h1M19.49 10.5h1M91.98 23.5h1.5M75.19 11.5h1.5M153.29 7.5h1M87.9 7.5h3M45.84 6.5h1M147.98 0.5h2M39.97 7.5h1M159.2 34.5h1M65.59 29.5h0.8M12.42 4.5h0.8M86.45 11.5h1M170.54 7.5h1.5M156.27 38.5h3M56.85 3.5h1M160.41 25.5h0.8M109.68 12.5h3M127.98 14.5h0.8M110.42 2.5h3M128.74 39.5h3M76.2 12.5h3M18.29 0.5h1M17.31 24.5h1.5M4.78 36.5h2M91.27 12.5h3M104.41 30.5h0.8M119.57 24.5h2M116.89 6.5h2M53.04 24.5h1M17.01 33.5h2M109.74 5.5h1M48.87 26.5h3M132.24 14.5h1.5M152.66 32.5h1M105.82 1.5h0.8M123.23 25.5h1M116.78 31.5h0.8M157.11 37.5h1.5M135.34 14.5h1M162.99 26.5h2M7.01 30.5h2M98.55 21.5h0.8M76.92 9.5h1.5M4.16 40.5h1.5M136.36 13.5h1M123.38 13.5h0.8M81.18 9.5h0.8M154.39 6.5h2M50.07 31.5h0.8M72.99 13.5h2M101.86 15.5h2M157.89 14.5h1.5M94.25 40.5h2M89.82 28.5h3M74.82 20.5h1.5M170.02 8.5h3M146.86 10.5h1M7.28 27.5h0.8M0 20.5h0.8M53.36 39.5h0.8M19.21 17.5h0.8M89.11 40.5h1.5M24.05 27.5h2M82.54 27.5h1.5M153.07 40.5h0.8M168.32 28.5h2M7.78 8.5h3M21.24 38.5h1.5M84.92 5.5h3M79.95 5.5h3M132.65 17.5h3M127.47 15.5h0.8M132.49 7.5h1M2.52 36.5h1M142.77 32.5h0.8M71.75 33.5h0.8M12.47 4.5h0.8M145.45 39.5h1.5M44.3 12.5h0.8M102.16 3.5h1M162.37 8.5h1" stroke="#481d6f" stroke-width="1" fill="none"/></pattern>
</defs>
<g id="spectra">
<rect x="771" y="200" width="1119" height="95" fill="url(#bg)"/>
<rect x="771" y="256.87" width="1119" height="1.6" fill="#462d7b" opacity="0.55"/>
<rect x="263" y="304" width="1627" height="95" fill="url(#bg)"/>
<rect x="263" y="360.87" width="1627" height="1.6" fill="#462d7b" opacity="0.55"/>
<rect x="263" y="409" width="1424" height="95" fill="url(#bg)"/>
<rect x="263" y="465.87" width="1424" height="1.6" fill="#462d7b" opacity="0.55"/>
<g clip-path="url(#c1_5)">
<rect x="771" y="278.13" width="102" height="15.35" fill="#481b6e" mask="url(#glm)"/>
<line x1="771" y1="281.49" x2="874" y2="281.49" stroke="#30668e" stroke-width="0.73" stroke-dasharray="1.6 1.8"/>
<rect x="771" y="278.13" width="102" height="15.35" fill="url(#sp)" mask="url(#glm2)" opacity="0.87"/>
<use href="#h1_5" filter="url(#bl)" opacity="0.48"/>
<g id="h1_5">
<rect x="825.55" y="290.55" width="48.45" height="0.88" fill="#219c88"/>
<rect x="784.62" y="288.51" width="35.09" height="2.63" fill="#22a784"/>
<rect x="771" y="282.66" width="103" height="1.17" fill="#33b27a"/>
<rect x="771" y="288.07" width="103" height="1.17" fill="#3ab776"/>
<rect x="864.99" y="278.18" width="10.51" height="2.22" fill="#24848d" opacity="0.45"/>
<rect x="866.49" y="278.78" width="7.51" height="1.02" fill="#5ec860"/>
<rect x="797.74" y="284.51" width="77.76" height="2.44" fill="#20908c" opacity="0.45"/>
<rect x="799.24" y="285.11" width="74.76" height="1.24" fill="#79d151"/>
<rect x="812.36" y="282.15" width="8.12" height="2.19" fill="#33b27a" opacity="0.45"/>
<rect x="813.86" y="282.75" width="5.12" height="0.99" fill="#dde225"/>
<rect x="824.05" y="284.57" width="51.45" height="2.32" fill="#44be70" opacity="0.45"/>
<rect x="825.55" y="285.17" width="48.45" height="1.12" fill="#fde724"/>
</g>
<rect x="771" y="280.13" width="102" height="15.35" fill="url(#sp2)" opacity="0.38"/>
<line x1="849.67" y1="283.54" x2="853.33" y2="279.59" stroke="#44be70" stroke-width="1" stroke-linecap="round"/>
<line x1="777.31" y1="288.36" x2="782.43" y2="284.7" stroke="#24848d" stroke-width="1" stroke-linecap="round"/>
</g>
<g clip-path="url(#c1_6)">
<rect x="873" y="276.66" width="102" height="16.81" fill="#481a6c" mask="url(#glm)"/>
<line x1="873" y1="281.49" x2="976" y2="281.49" stroke="#345e8d" stroke-width="0.73" stroke-dasharray="1.6 1.8"/>
<rect x="958.59" y="278.42" width="17.41" height="0.88" fill="#345e8d"/>
<rect x="873" y="276.66" width="102" height="16.81" fill="url(#sp)" mask="url(#glm2)" opacity="0.78"/>
<use href="#h1_6" filter="url(#bl)" opacity="0.48"/>
<g id="h1_6">
<rect x="906.69" y="276.08" width="8.04" height="2.05" fill="#219c88"/>
<rect x="905.96" y="279.59" width="10.23" height="2.05" fill="#219c88"/>
<rect x="927.89" y="289.24" width="29.24" height="2.63" fill="#219c88" opacity="0.6"/>
<rect x="873" y="284.7" width="59.27" height="1.46" fill="#22a784"/>
<rect x="889.88" y="290.04" width="86.12" height="1.02" fill="#22a784"/>
<rect x="942.5" y="285.29" width="14.62" height="1.17" fill="#33b27a"/>
<rect x="920.54" y="284.28" width="13.23" height="2.32" fill="#20908c" opacity="0.45"/>
<rect x="922.04" y="284.88" width="10.23" height="1.12" fill="#79d151"/>
</g>
<rect x="873" y="278.66" width="102" height="16.81" fill="url(#sp2)" opacity="0.38"/>
<line x1="884.03" y1="283.24" x2="888.41" y2="278.56" stroke="#5ec860" stroke-width="1.3" stroke-linecap="round"/>
<line x1="917.65" y1="283.97" x2="923.5" y2="277.4" stroke="#44be70" stroke-width="1" stroke-linecap="round"/>
<line x1="951.28" y1="284.7" x2="959.32" y2="275.93" stroke="#44be70" stroke-width="1" stroke-linecap="round"/>
<line x1="947.62" y1="287.63" x2="951.28" y2="284.7" stroke="#24848d" stroke-width="1" stroke-linecap="round"/>
</g>
<g clip-path="url(#c1_7)">
<rect x="975" y="268.62" width="101" height="24.85" fill="#47196c" mask="url(#glm)"/>
<rect x="1005.37" y="277.54" width="10.23" height="1.17" fill="#29788e"/>
<line x1="1044.84" y1="267.89" x2="1072.61" y2="267.89" stroke="#20908c" stroke-width="0.73" stroke-dasharray="1.6 1.8"/>
<rect x="975" y="268.62" width="101" height="24.85" fill="url(#sp)" mask="url(#glm2)" opacity="0.74"/>
<use href="#h1_7" filter="url(#bl)" opacity="0.48"/>
<g id="h1_7">
<rect x="975" y="269.35" width="83.73" height="1.46" fill="#22a784"/>
<rect x="1036.07" y="284.78" width="40.93" height="1.32" fill="#22a784"/>
<rect x="1033.14" y="290.04" width="27.78" height="1.02" fill="#22a784"/>
<rect x="1031.68" y="277.54" width="45.32" height="1.17" fill="#33b27a"/>
<rect x="1055.07" y="287.41" width="21.93" height="1.02" fill="#33b27a"/>
<rect x="1027.3" y="269.35" width="49.7" height="1.46" fill="#44be70"/>
<rect x="1000.98" y="280.76" width="39.47" height="1.17" fill="#44be70"/>
<rect x="973.5" y="273.14" width="105" height="2.66" fill="#24848d" opacity="0.45"/>
<rect x="975" y="273.74" width="102" height="1.46" fill="#5ec860"/>
<rect x="1055.03" y="280.16" width="23.47" height="2.37" fill="#24848d" opacity="0.45"/>
<rect x="1056.53" y="280.76" width="20.47" height="1.17" fill="#5ec860"/>
<rect x="973.5" y="284.1" width="56.76" height="2.66" fill="#24848d" opacity="0.45"/>
<rect x="975" y="284.7" width="53.76" height="1.46" fill="#5ec860"/>
<rect x="1028.72" y="273.31" width="49.78" height="2.32" fill="#33b27a" opacity="0.45"/>
<rect x="1030.22" y="273.91" width="46.78" height="1.12" fill="#dde225"/>
<rect x="1021.41" y="289.46" width="13.23" height="2.19" fill="#33b27a" opacity="0.45"/>
<rect x="1022.91" y="290.06" width="10.23" height="0.99" fill="#dde225"/>
</g>
<rect x="975" y="270.62" width="101" height="24.85" fill="url(#sp2)" opacity="0.38"/>
<line x1="987.82" y1="281.78" x2="993.67" y2="275.2" stroke="#33b27a" stroke-width="1" stroke-linecap="round"/>
<line x1="1021.45" y1="282.51" x2="1028.03" y2="274.47" stroke="#33b27a" stroke-width="1" stroke-linecap="round"/>
<line x1="1058.73" y1="278.86" x2="1063.11" y2="273.3" stroke="#5ec860" stroke-width="1.3" stroke-linecap="round"/>
<line x1="979.05" y1="291.28" x2="984.9" y2="285.44" stroke="#29788e" stroke-width="1" stroke-linecap="round"/>
</g>
<g clip-path="url(#c1_8)">
<rect x="1076" y="265.7" width="102" height="27.78" fill="#481b6e" mask="url(#glm)"/>
<rect x="1140.32" y="270.31" width="38.68" height="1.02" fill="#2e6b8e"/>
<line x1="1076" y1="276.66" x2="1179" y2="276.66" stroke="#29788e" stroke-width="1.46" stroke-dasharray="1.6 1.8"/>
<rect x="1076" y="284.85" width="24.85" height="1.17" fill="#29788e"/>
<rect x="1076" y="265.7" width="102" height="27.78" fill="url(#sp)" mask="url(#glm2)" opacity="0.87"/>
<use href="#h1_8" filter="url(#bl)" opacity="0.48"/>
<g id="h1_8">
<rect x="1076" y="281.78" width="103" height="2.05" fill="#471669"/>
<rect x="1141.79" y="273.59" width="37.21" height="1.17" fill="#33b27a"/>
<rect x="1100.08" y="286.01" width="80.42" height="3.25" fill="#23898d" opacity="0.45"/>
<rect x="1101.58" y="286.61" width="77.42" height="2.05" fill="#69cb5a"/>
<rect x="1137.36" y="277.51" width="43.14" height="2.69" fill="#20908c" opacity="0.45"/>
<rect x="1138.86" y="278.11" width="40.14" height="1.49" fill="#79d151"/>
<rect x="1122.74" y="289.62" width="57.76" height="2.44" fill="#20908c" opacity="0.45"/>
<rect x="1124.24" y="290.22" width="54.76" height="1.24" fill="#79d151"/>
<rect x="1103.74" y="286.53" width="55.63" height="2.19" fill="#219c88" opacity="0.45"/>
<rect x="1105.24" y="287.13" width="52.63" height="0.99" fill="#9bd83c"/>
<rect x="1143.21" y="267.23" width="11.77" height="2.19" fill="#22a784" opacity="0.45"/>
<rect x="1144.71" y="267.83" width="8.77" height="0.99" fill="#bdde26"/>
</g>
<rect x="1076" y="267.7" width="102" height="27.78" fill="url(#sp2)" opacity="0.38"/>
<line x1="1081.85" y1="289.82" x2="1097.93" y2="271.55" stroke="#24848d" stroke-width="1" stroke-linecap="round"/>
<line x1="1090.62" y1="278.86" x2="1097.93" y2="271.55" stroke="#22a784" stroke-width="1" stroke-linecap="round"/>
<line x1="1122.78" y1="281.78" x2="1134.48" y2="265.7" stroke="#219c88" stroke-width="1" stroke-linecap="round"/>
<line x1="1130.09" y1="273.74" x2="1133.75" y2="268.62" stroke="#9bd83c" stroke-width="1.3" stroke-linecap="round"/>
<line x1="1157.87" y1="280.32" x2="1168.83" y2="264.24" stroke="#219c88" stroke-width="1" stroke-linecap="round"/>
<line x1="1160.06" y1="278.86" x2="1168.83" y2="268.62" stroke="#bdde26" stroke-width="1.3" stroke-linecap="round"/>
</g>
<g clip-path="url(#c1_9)">
<rect x="1178" y="265.7" width="102" height="27.78" fill="#481b6e" mask="url(#glm)"/>
<line x1="1178" y1="270.09" x2="1281" y2="270.09" stroke="#2e6b8e" stroke-width="0.88" stroke-dasharray="1.6 1.8"/>
<rect x="1178" y="276.08" width="103" height="1.17" fill="#2e6b8e"/>
<rect x="1178" y="284.7" width="44.19" height="1.46" fill="#29788e"/>
<line x1="1178" y1="267.89" x2="1281" y2="267.89" stroke="#20908c" stroke-width="0.88" stroke-dasharray="1.6 1.8"/>
<rect x="1235.35" y="289.97" width="45.65" height="1.17" fill="#20908c"/>
<rect x="1178" y="265.7" width="102" height="27.78" fill="url(#sp)" mask="url(#glm2)" opacity="0.87"/>
<use href="#h1_9" filter="url(#bl)" opacity="0.48"/>
<g id="h1_9">
<rect x="1258.74" y="287.77" width="22.26" height="1.17" fill="#33b27a"/>
<rect x="1222.19" y="280.61" width="58.81" height="1.75" fill="#44be70"/>
<rect x="1228" y="283.19" width="54.5" height="2.44" fill="#20908c" opacity="0.45"/>
<rect x="1229.5" y="283.79" width="51.5" height="1.24" fill="#79d151"/>
<rect x="1255.78" y="280.27" width="26.72" height="2.44" fill="#22a784" opacity="0.45"/>
<rect x="1257.28" y="280.87" width="23.72" height="1.24" fill="#bdde26"/>
<rect x="1222.15" y="289.46" width="14.7" height="2.19" fill="#22a784" opacity="0.45"/>
<rect x="1223.65" y="290.06" width="11.7" height="0.99" fill="#bdde26"/>
</g>
<rect x="1178" y="267.7" width="102" height="27.78" fill="url(#sp2)" opacity="0.38"/>
<line x1="1182.72" y1="289.82" x2="1203.19" y2="267.89" stroke="#219c88" stroke-width="1" stroke-linecap="round"/>
<line x1="1191.49" y1="280.32" x2="1202.45" y2="268.62" stroke="#9bd83c" stroke-width="1.3" stroke-linecap="round"/>
<line x1="1222.19" y1="284.7" x2="1237.54" y2="267.16" stroke="#219c88" stroke-width="1" stroke-linecap="round"/>
<line x1="1230.96" y1="273.74" x2="1236.81" y2="268.33" stroke="#9bd83c" stroke-width="1.3" stroke-linecap="round"/>
<line x1="1255.81" y1="284.7" x2="1271.16" y2="267.16" stroke="#219c88" stroke-width="1" stroke-linecap="round"/>
<line x1="1263.12" y1="276.66" x2="1271.16" y2="268.33" stroke="#9bd83c" stroke-width="1.3" stroke-linecap="round"/>
</g>
<g clip-path="url(#c1_10)">
<rect x="1280" y="265.7" width="101" height="27.78" fill="#481a6c" mask="url(#glm)"/>
<rect x="1280" y="269.87" width="102" height="1.02" fill="#345e8d"/>
<rect x="1280" y="279.73" width="15.29" height="1.17" fill="#2e6b8e"/>
<line x1="1280" y1="267.89" x2="1382" y2="267.89" stroke="#29788e" stroke-width="0.88" stroke-dasharray="1.6 1.8"/>
<rect x="1315.75" y="289.97" width="66.25" height="1.17" fill="#29788e"/>
<rect x="1280" y="265.7" width="101" height="27.78" fill="url(#sp)" mask="url(#glm2)" opacity="0.78"/>
<use href="#h1_10" filter="url(#bl)" opacity="0.48"/>
<g id="h1_10">
<rect x="1301.13" y="272.13" width="80.87" height="1.17" fill="#219c88"/>
<rect x="1280" y="285.44" width="29.9" height="1.46" fill="#22a784"/>
<rect x="1362.53" y="284.85" width="19.47" height="1.17" fill="#33b27a"/>
<rect x="1358.15" y="281.93" width="23.85" height="1.17" fill="#44be70"/>
<rect x="1293.79" y="276.24" width="89.71" height="2.32" fill="#33b27a" opacity="0.45"/>
<rect x="1295.29" y="276.84" width="86.71" height="1.12" fill="#dde225"/>
</g>
<rect x="1280" y="267.7" width="101" height="27.78" fill="url(#sp2)" opacity="0.38"/>
<line x1="1286.51" y1="285.44" x2="1304.79" y2="267.89" stroke="#20908c" stroke-width="1" stroke-linecap="round"/>
<line x1="1296.75" y1="275.93" x2="1304.79" y2="268.62" stroke="#79d151" stroke-width="1.3" stroke-linecap="round"/>
<line x1="1324.52" y1="283.97" x2="1337.68" y2="269.35" stroke="#24848d" stroke-width="1" stroke-linecap="round"/>
<line x1="1331.83" y1="276.66" x2="1337.68" y2="270.09" stroke="#33b27a" stroke-width="1" stroke-linecap="round"/>
<line x1="1366.92" y1="273.74" x2="1370.57" y2="270.09" stroke="#79d151" stroke-width="1.3" stroke-linecap="round"/>
</g>
<g clip-path="url(#c1_11)">
<rect x="1381" y="264.97" width="102" height="28.51" fill="#481d6f" mask="url(#glm)"/>
<line x1="1381" y1="267.45" x2="1484" y2="267.45" stroke="#29788e" stroke-width="0.88" stroke-dasharray="1.6 1.8"/>
<rect x="1381" y="289.24" width="48.24" height="1.17" fill="#20908c"/>
<rect x="1381" y="264.97" width="102" height="28.51" fill="url(#sp)" mask="url(#glm2)" opacity="1"/>
<use href="#h1_11" filter="url(#bl)" opacity="0.48"/>
<g id="h1_11">
<rect x="1429.24" y="285.29" width="33.62" height="1.75" fill="#219c88"/>
<line x1="1389.77" y1="270.09" x2="1484" y2="270.09" stroke="#22a784" stroke-width="1.46" stroke-dasharray="1.6 1.8"/>
<rect x="1424.86" y="276.15" width="29.24" height="1.02" fill="#33b27a"/>
<rect x="1394.12" y="285.27" width="17.62" height="2.37" fill="#24848d" opacity="0.45"/>
<rect x="1395.62" y="285.87" width="14.62" height="1.17" fill="#5ec860"/>
<rect x="1454.06" y="278.05" width="31.44" height="2.19" fill="#20908c" opacity="0.45"/>
<rect x="1455.56" y="278.65" width="28.44" height="0.99" fill="#79d151"/>
<rect x="1427.74" y="289.46" width="17.62" height="2.19" fill="#20908c" opacity="0.45"/>
<rect x="1429.24" y="290.06" width="14.62" height="0.99" fill="#79d151"/>
<rect x="1462.83" y="287.41" width="22.67" height="2.19" fill="#219c88" opacity="0.45"/>
<rect x="1464.33" y="288.01" width="19.67" height="0.99" fill="#9bd83c"/>
<rect x="1399.97" y="285.36" width="5.92" height="2.19" fill="#33b27a" opacity="0.45"/>
<rect x="1401.47" y="285.96" width="2.92" height="0.99" fill="#dde225"/>
<rect x="1389" y="273.31" width="96.5" height="2.32" fill="#44be70" opacity="0.45"/>
<rect x="1390.5" y="273.91" width="93.5" height="1.12" fill="#fde724"/>
</g>
<rect x="1381" y="266.97" width="102" height="28.51" fill="url(#sp2)" opacity="0.38"/>
<line x1="1392.7" y1="283.24" x2="1403.66" y2="269.79" stroke="#219c88" stroke-width="1" stroke-linecap="round"/>
<line x1="1399.27" y1="275.2" x2="1403.66" y2="270.09" stroke="#bdde26" stroke-width="1.3" stroke-linecap="round"/>
<line x1="1426.32" y1="283.24" x2="1439.48" y2="269.35" stroke="#219c88" stroke-width="1" stroke-linecap="round"/>
<line x1="1434.36" y1="274.47" x2="1439.48" y2="269.79" stroke="#bdde26" stroke-width="1.3" stroke-linecap="round"/>
<line x1="1466.52" y1="276.66" x2="1473.1" y2="269.35" stroke="#9bd83c" stroke-width="1.3" stroke-linecap="round"/>
</g>
<g clip-path="url(#c1_12)">
<rect x="1483" y="264.97" width="102" height="28.51" fill="#481b6e" mask="url(#glm)"/>
<line x1="1483" y1="267.89" x2="1586" y2="267.89" stroke="#2e6b8e" stroke-width="0.88" stroke-dasharray="1.6 1.8"/>
<rect x="1483" y="273.89" width="57.35" height="1.17" fill="#29788e"/>
<rect x="1483" y="285.44" width="103" height="1.46" fill="#29788e"/>
<rect x="1547.66" y="269.5" width="38.34" height="1.17" fill="#20908c"/>
<rect x="1531.58" y="278.27" width="54.42" height="1.17" fill="#20908c"/>
<rect x="1553.5" y="290.77" width="32.5" height="1.02" fill="#20908c"/>
<rect x="1483" y="264.97" width="102" height="28.51" fill="url(#sp)" mask="url(#glm2)" opacity="0.87"/>
<use href="#h1_12" filter="url(#bl)" opacity="0.48"/>
<g id="h1_12">
<rect x="1492.1" y="288.07" width="93.9" height="1.46" fill="#33b27a"/>
<rect x="1562.24" y="264.37" width="8.12" height="2.08" fill="#24848d" opacity="0.45"/>
<rect x="1563.74" y="264.97" width="5.12" height="0.88" fill="#5ec860"/>
<rect x="1518.38" y="287.61" width="46.86" height="2.37" fill="#24848d" opacity="0.45"/>
<rect x="1519.88" y="288.21" width="43.86" height="1.17" fill="#5ec860"/>
<rect x="1538.85" y="273.37" width="19.81" height="2.19" fill="#33b27a" opacity="0.45"/>
<rect x="1540.35" y="273.97" width="16.81" height="0.99" fill="#dde225"/>
</g>
<rect x="1483" y="266.97" width="102" height="28.51" fill="url(#sp2)" opacity="0.38"/>
<line x1="1496.49" y1="280.32" x2="1508.19" y2="267.16" stroke="#20908c" stroke-width="1" stroke-linecap="round"/>
<line x1="1501.61" y1="274.47" x2="1507.89" y2="267.89" stroke="#79d151" stroke-width="1.3" stroke-linecap="round"/>
<line x1="1527.92" y1="283.24" x2="1543.27" y2="265.7" stroke="#20908c" stroke-width="1" stroke-linecap="round"/>
<line x1="1535.96" y1="273.74" x2="1542.98" y2="266.43" stroke="#9bd83c" stroke-width="1.3" stroke-linecap="round"/>
<line x1="1562.28" y1="283.24" x2="1578.36" y2="264.24" stroke="#20908c" stroke-width="1" stroke-linecap="round"/>
<line x1="1569.59" y1="275.2" x2="1578.06" y2="265.41" stroke="#bdde26" stroke-width="1.3" stroke-linecap="round"/>
</g>
<g clip-path="url(#c1_13)">
<rect x="1585" y="259.12" width="102" height="34.35" fill="#481d6f" mask="url(#glm)"/>
<rect x="1630.99" y="257.88" width="8.77" height="1.02" fill="#29788e"/>
<rect x="1600.29" y="289.38" width="87.71" height="1.75" fill="#20908c"/>
<rect x="1585" y="259.12" width="102" height="34.35" fill="url(#sp)" mask="url(#glm2)" opacity="1"/>
<use href="#h1_13" filter="url(#bl)" opacity="0.48"/>
<g id="h1_13">
<rect x="1585" y="285.29" width="103" height="2.34" fill="#219c88"/>
<rect x="1679.23" y="278.27" width="8.77" height="1.17" fill="#33b27a"/>
<rect x="1597.36" y="281.34" width="68.71" height="1.46" fill="#33b27a"/>
<rect x="1639.76" y="257.88" width="48.24" height="1.02" fill="#44be70"/>
<rect x="1604.63" y="262.25" width="84.87" height="2.52" fill="#23898d" opacity="0.45"/>
<rect x="1606.13" y="262.85" width="81.87" height="1.32" fill="#69cb5a"/>
<rect x="1607.56" y="286.82" width="20.54" height="2.19" fill="#20908c" opacity="0.45"/>
<rect x="1609.06" y="287.42" width="17.54" height="0.99" fill="#79d151"/>
<rect x="1670.42" y="285.07" width="19.08" height="2.19" fill="#20908c" opacity="0.45"/>
<rect x="1671.92" y="285.67" width="16.08" height="0.99" fill="#79d151"/>
<rect x="1666.03" y="260.28" width="23.47" height="2.07" fill="#219c88" opacity="0.45"/>
<rect x="1667.53" y="260.88" width="20.47" height="0.87" fill="#9bd83c"/>
<rect x="1636.8" y="262.41" width="52.7" height="2.19" fill="#22a784" opacity="0.45"/>
<rect x="1638.3" y="263.01" width="49.7" height="0.99" fill="#bdde26"/>
<rect x="1636.8" y="267.46" width="52.7" height="2.32" fill="#22a784" opacity="0.45"/>
<rect x="1638.3" y="268.06" width="49.7" height="1.12" fill="#bdde26"/>
<rect x="1648.49" y="280.91" width="11.77" height="2.32" fill="#33b27a" opacity="0.45"/>
<rect x="1649.99" y="281.51" width="8.77" height="1.12" fill="#dde225"/>
</g>
<rect x="1585" y="261.12" width="102" height="34.35" fill="url(#sp2)" opacity="0.38"/>
<line x1="1597.36" y1="281.78" x2="1613.44" y2="263.51" stroke="#20908c" stroke-width="1" stroke-linecap="round"/>
<line x1="1604.67" y1="273.74" x2="1613.15" y2="264.24" stroke="#9bd83c" stroke-width="1.3" stroke-linecap="round"/>
<line x1="1633.91" y1="280.32" x2="1648.53" y2="262.05" stroke="#20908c" stroke-width="1" stroke-linecap="round"/>
<line x1="1639.76" y1="273.01" x2="1646.34" y2="264.24" stroke="#79d151" stroke-width="1.3" stroke-linecap="round"/>
<line x1="1669" y1="278.86" x2="1682.15" y2="262.78" stroke="#20908c" stroke-width="1" stroke-linecap="round"/>
<line x1="1673.38" y1="273.01" x2="1681.42" y2="263.51" stroke="#79d151" stroke-width="1.3" stroke-linecap="round"/>
</g>
<g clip-path="url(#c1_14)">
<rect x="1687" y="255.47" width="101" height="38.01" fill="#481d6f" mask="url(#glm)"/>
<rect x="1716.57" y="269.35" width="72.43" height="8.77" fill="#345e8d" opacity="0.6"/>
<rect x="1687" y="265.26" width="102" height="1.46" fill="#2e6b8e"/>
<line x1="1687" y1="256.64" x2="1789" y2="256.64" stroke="#29788e" stroke-width="1.02" stroke-dasharray="1.6 1.8"/>
<rect x="1687" y="283.1" width="102" height="1.75" fill="#29788e"/>
<rect x="1687" y="255.47" width="101" height="38.01" fill="url(#sp)" mask="url(#glm2)" opacity="0.96"/>
<use href="#h1_14" filter="url(#bl)" opacity="0.48"/>
<g id="h1_14">
<rect x="1719.5" y="256.12" width="19" height="1.02" fill="#22a784"/>
<rect x="1687" y="289.97" width="80.74" height="1.17" fill="#22a784"/>
<line x1="1716.57" y1="277.4" x2="1738.5" y2="277.4" stroke="#33b27a" stroke-width="0.88" stroke-dasharray="1.6 1.8"/>
<rect x="1696.1" y="286.31" width="35.09" height="1.17" fill="#33b27a"/>
<rect x="1687" y="261.02" width="85.12" height="1.17" fill="#44be70"/>
<rect x="1763.31" y="277.45" width="27.19" height="2.22" fill="#24848d" opacity="0.45"/>
<rect x="1764.81" y="278.05" width="24.19" height="1.02" fill="#5ec860"/>
<rect x="1697.53" y="279.22" width="92.97" height="2.19" fill="#219c88" opacity="0.45"/>
<rect x="1699.03" y="279.82" width="89.97" height="0.99" fill="#9bd83c"/>
<rect x="1709.22" y="260.51" width="8.85" height="2.19" fill="#22a784" opacity="0.45"/>
<rect x="1710.72" y="261.11" width="5.85" height="0.99" fill="#bdde26"/>
<rect x="1719.46" y="260.51" width="19.08" height="2.19" fill="#22a784" opacity="0.45"/>
<rect x="1720.96" y="261.11" width="16.08" height="0.99" fill="#bdde26"/>
<rect x="1715.07" y="279.28" width="75.43" height="2.07" fill="#33b27a" opacity="0.45"/>
<rect x="1716.57" y="279.88" width="72.43" height="0.87" fill="#dde225"/>
</g>
<rect x="1687" y="257.47" width="101" height="38.01" fill="url(#sp2)" opacity="0.38"/>
<line x1="1699.03" y1="280.32" x2="1704.88" y2="275.2" stroke="#20908c" stroke-width="1" stroke-linecap="round"/>
<line x1="1704.88" y1="275.2" x2="1715.11" y2="264.24" stroke="#9bd83c" stroke-width="1.3" stroke-linecap="round"/>
<line x1="1737.04" y1="278.13" x2="1748.73" y2="264.24" stroke="#9bd83c" stroke-width="1.3" stroke-linecap="round"/>
<line x1="1772.12" y1="277.4" x2="1783.09" y2="264.24" stroke="#9bd83c" stroke-width="1.3" stroke-linecap="round"/>
</g>
<g clip-path="url(#c1_15)">
<rect x="1788" y="256.2" width="102" height="37.28" fill="#481b6e" mask="url(#glm)"/>
<rect x="1839.37" y="257.07" width="51.63" height="1.17" fill="#345e8d"/>
<rect x="1788" y="287.77" width="103" height="1.17" fill="#345e8d"/>
<rect x="1801.36" y="262.34" width="51.17" height="0.88" fill="#2e6b8e"/>
<rect x="1788" y="272.86" width="103" height="0.88" fill="#2e6b8e"/>
<rect x="1804.29" y="284.85" width="86.71" height="1.17" fill="#2e6b8e"/>
<rect x="1788" y="257.07" width="51.37" height="1.17" fill="#29788e"/>
<rect x="1788" y="268.04" width="103" height="1.17" fill="#20908c"/>
<rect x="1788" y="280.9" width="25.06" height="1.17" fill="#20908c"/>
<rect x="1788" y="256.2" width="102" height="37.28" fill="url(#sp)" mask="url(#glm2)" opacity="0.87"/>
<use href="#h1_15" filter="url(#bl)" opacity="0.48"/>
<g id="h1_15">
<rect x="1788" y="275.35" width="103" height="1.17" fill="#33b27a"/>
<rect x="1788" y="282.66" width="103" height="1.17" fill="#3ab776"/>
<rect x="1830.56" y="271.17" width="16.16" height="2.22" fill="#24848d" opacity="0.45"/>
<rect x="1832.06" y="271.77" width="13.16" height="1.02" fill="#5ec860"/>
<rect x="1846.64" y="282.06" width="45.86" height="2.37" fill="#24848d" opacity="0.45"/>
<rect x="1848.14" y="282.66" width="42.86" height="1.17" fill="#5ec860"/>
<rect x="1786.5" y="285.35" width="17.82" height="2.22" fill="#24848d" opacity="0.45"/>
<rect x="1788" y="285.95" width="14.82" height="1.02" fill="#5ec860"/>
<rect x="1820.33" y="267.59" width="43.93" height="2.07" fill="#20908c" opacity="0.45"/>
<rect x="1821.83" y="268.19" width="40.93" height="0.87" fill="#79d151"/>
</g>
<rect x="1788" y="258.2" width="102" height="37.28" fill="url(#sp2)" opacity="0.38"/>
<line x1="1808.67" y1="272.72" x2="1816.71" y2="263.95" stroke="#79d151" stroke-width="1.3" stroke-linecap="round"/>
<line x1="1842.3" y1="273.01" x2="1850.34" y2="262.78" stroke="#79d151" stroke-width="1.3" stroke-linecap="round"/>
<line x1="1876.65" y1="272.72" x2="1885.42" y2="262.05" stroke="#79d151" stroke-width="1.3" stroke-linecap="round"/>
</g>
<g clip-path="url(#c2_0)">
<rect x="263" y="360.58" width="101" height="37.57" fill="#481e70" mask="url(#glm)"/>
<rect x="263" y="389.09" width="102" height="4.39" fill="#345e8d" opacity="0.6"/>
<line x1="263" y1="362.05" x2="365" y2="362.05" stroke="#2e6b8e" stroke-width="0.88" stroke-dasharray="1.6 1.8"/>
<rect x="263" y="366.43" width="28.24" height="1.46" fill="#20908c"/>
<rect x="283.93" y="377.98" width="29.24" height="1.17" fill="#20908c"/>
<rect x="263" y="360.58" width="101" height="37.57" fill="url(#sp)" mask="url(#glm2)" opacity="1"/>
<use href="#h2_0" filter="url(#bl)" opacity="0.48"/>
<g id="h2_0">
<rect x="291.24" y="388.8" width="14.62" height="1.17" fill="#219c88"/>
<rect x="301.47" y="392.89" width="63.53" height="1.17" fill="#22a784"/>
<rect x="283.93" y="381.78" width="71.63" height="1.46" fill="#33b27a"/>
<rect x="339.44" y="365.83" width="27.06" height="2.66" fill="#24848d" opacity="0.45"/>
<rect x="340.94" y="366.43" width="24.06" height="1.46" fill="#5ec860"/>
<rect x="261.5" y="388.22" width="31.24" height="2.32" fill="#24848d" opacity="0.45"/>
<rect x="263" y="388.82" width="28.24" height="1.12" fill="#5ec860"/>
<rect x="337.98" y="372.27" width="28.52" height="2.07" fill="#20908c" opacity="0.45"/>
<rect x="339.48" y="372.87" width="25.52" height="0.87" fill="#79d151"/>
<rect x="282.43" y="381.35" width="14.7" height="2.32" fill="#20908c" opacity="0.45"/>
<rect x="283.93" y="381.95" width="11.7" height="1.12" fill="#79d151"/>
<rect x="339.44" y="385.24" width="23.47" height="2.44" fill="#20908c" opacity="0.45"/>
<rect x="340.94" y="385.84" width="20.47" height="1.24" fill="#79d151"/>
<rect x="343.83" y="376.53" width="22.67" height="2.32" fill="#219c88" opacity="0.45"/>
<rect x="345.33" y="377.13" width="19.67" height="1.12" fill="#9bd83c"/>
</g>
<rect x="263" y="362.58" width="101" height="37.57" fill="url(#sp2)" opacity="0.38"/>
<line x1="283.2" y1="377.4" x2="292.7" y2="365.99" stroke="#79d151" stroke-width="1.3" stroke-linecap="round"/>
<line x1="312.44" y1="382.51" x2="327.05" y2="365.41" stroke="#20908c" stroke-width="1" stroke-linecap="round"/>
<line x1="316.82" y1="378.13" x2="326.32" y2="366.43" stroke="#5ec860" stroke-width="1.3" stroke-linecap="round"/>
<line x1="347.52" y1="381.78" x2="362.14" y2="364.97" stroke="#219c88" stroke-width="1" stroke-linecap="round"/>
<line x1="355.56" y1="372.28" x2="361.7" y2="365.7" stroke="#bdde26" stroke-width="1.3" stroke-linecap="round"/>
</g>
<g clip-path="url(#c2_1)">
<rect x="364" y="359.85" width="102" height="38.3" fill="#481b6e" mask="url(#glm)"/>
<rect x="390.65" y="360.44" width="51.17" height="1.17" fill="#345e8d"/>
<line x1="450.59" y1="359.12" x2="467" y2="359.12" stroke="#2e6b8e" stroke-width="0.73" stroke-dasharray="1.6 1.8"/>
<rect x="364" y="392.6" width="103" height="1.17" fill="#2e6b8e"/>
<rect x="376.76" y="360.36" width="13.89" height="1.32" fill="#20908c"/>
<rect x="441.81" y="360.36" width="25.19" height="1.32" fill="#20908c"/>
<rect x="364" y="381.49" width="28.11" height="2.05" fill="#20908c"/>
<rect x="364" y="359.85" width="102" height="38.3" fill="url(#sp)" mask="url(#glm2)" opacity="0.87"/>
<use href="#h2_1" filter="url(#bl)" opacity="0.48"/>
<g id="h2_1">
<line x1="389.19" y1="370.82" x2="467" y2="370.82" stroke="#219c88" stroke-width="1.17" stroke-dasharray="1.6 1.8"/>
<rect x="393.57" y="376.66" width="73.43" height="0.88" fill="#219c88"/>
<rect x="406.73" y="384.41" width="38.01" height="1.17" fill="#22a784"/>
<rect x="375.26" y="364.66" width="93.24" height="2.66" fill="#24848d" opacity="0.45"/>
<rect x="376.76" y="365.26" width="90.24" height="1.46" fill="#5ec860"/>
<line x1="386.26" y1="375.2" x2="467" y2="375.2" stroke="#5ec860" stroke-width="1.49" stroke-dasharray="1.6 1.8"/>
<rect x="371.6" y="387.58" width="27.85" height="2.44" fill="#24848d" opacity="0.45"/>
<rect x="373.1" y="388.18" width="24.85" height="1.24" fill="#5ec860"/>
<rect x="454.93" y="387.64" width="13.57" height="2.32" fill="#20908c" opacity="0.45"/>
<rect x="456.43" y="388.24" width="10.57" height="1.12" fill="#79d151"/>
<rect x="375.26" y="364.83" width="16.89" height="2.32" fill="#219c88" opacity="0.45"/>
<rect x="376.76" y="365.43" width="13.89" height="1.12" fill="#9bd83c"/>
<rect x="439.58" y="364.83" width="28.92" height="2.32" fill="#219c88" opacity="0.45"/>
<rect x="441.08" y="365.43" width="25.92" height="1.12" fill="#9bd83c"/>
<rect x="390.61" y="380.27" width="77.89" height="2.44" fill="#219c88" opacity="0.45"/>
<rect x="392.11" y="380.87" width="74.89" height="1.24" fill="#9bd83c"/>
</g>
<rect x="364" y="361.85" width="102" height="38.3" fill="url(#sp2)" opacity="0.38"/>
<line x1="383.34" y1="377.4" x2="393.57" y2="365.7" stroke="#33b27a" stroke-width="1" stroke-linecap="round"/>
<line x1="422.81" y1="371.26" x2="427.93" y2="365.41" stroke="#5ec860" stroke-width="1.3" stroke-linecap="round"/>
<line x1="449.12" y1="380.32" x2="460.09" y2="367.89" stroke="#44be70" stroke-width="1" stroke-linecap="round"/>
</g>
<g clip-path="url(#c2_2)">
<rect x="466" y="361.02" width="102" height="37.13" fill="#481b6e" mask="url(#glm)"/>
<rect x="466" y="379.08" width="103" height="1.02" fill="#2e6b8e"/>
<rect x="466" y="373.59" width="103" height="1.17" fill="#29788e"/>
<rect x="466" y="392.75" width="103" height="1.46" fill="#29788e"/>
<rect x="543.42" y="361.46" width="25.58" height="1.75" fill="#20908c"/>
<rect x="475.44" y="389.24" width="27.78" height="1.17" fill="#20908c"/>
<rect x="466" y="361.02" width="102" height="37.13" fill="url(#sp)" mask="url(#glm2)" opacity="0.87"/>
<use href="#h2_2" filter="url(#bl)" opacity="0.48"/>
<g id="h2_2">
<rect x="466" y="376.08" width="103" height="1.17" fill="#219c88"/>
<rect x="466" y="370.82" width="103" height="1.46" fill="#21a086"/>
<rect x="509.06" y="382.07" width="16.08" height="0.88" fill="#33b27a"/>
<rect x="522.22" y="370.89" width="46.78" height="1.32" fill="#44be70"/>
<rect x="525.14" y="385.73" width="23.39" height="1.46" fill="#44be70"/>
<rect x="541.92" y="365.98" width="28.58" height="2.37" fill="#24848d" opacity="0.45"/>
<rect x="543.42" y="366.58" width="25.58" height="1.17" fill="#5ec860"/>
<rect x="485.63" y="370.39" width="8.85" height="2.32" fill="#219c88" opacity="0.45"/>
<rect x="487.13" y="370.99" width="5.85" height="1.12" fill="#9bd83c"/>
<rect x="532.41" y="385.36" width="13.23" height="2.19" fill="#22a784" opacity="0.45"/>
<rect x="533.91" y="385.96" width="10.23" height="0.99" fill="#bdde26"/>
</g>
<rect x="466" y="363.02" width="102" height="37.13" fill="url(#sp2)" opacity="0.38"/>
<line x1="489.33" y1="371.55" x2="495.9" y2="365.7" stroke="#44be70" stroke-width="1" stroke-linecap="round"/>
<line x1="523.68" y1="372.72" x2="529.53" y2="366.43" stroke="#22a784" stroke-width="1" stroke-linecap="round"/>
<line x1="560.23" y1="370.09" x2="564.61" y2="364.97" stroke="#22a784" stroke-width="1" stroke-linecap="round"/>
</g>
<g clip-path="url(#c2_3)">
<rect x="568" y="361.02" width="101" height="37.13" fill="#482071" mask="url(#glm)"/>
<rect x="605.74" y="307.22" width="12.46" height="64.32" fill="url(#vb)" opacity="0.5"/>
<rect x="605.96" y="307.22" width="1.43" height="64.32" fill="url(#vb)"/>
<rect x="609.14" y="307.22" width="1.43" height="64.32" fill="url(#vb)"/>
<rect x="611.88" y="307.22" width="1.43" height="64.32" fill="url(#vb)"/>
<rect x="586" y="362.05" width="54.09" height="0.88" fill="#20908c"/>
<rect x="580.16" y="392.89" width="29.24" height="1.17" fill="#20908c"/>
<rect x="568" y="361.02" width="101" height="37.13" fill="url(#sp)" mask="url(#glm2)" opacity="1"/>
<use href="#h2_3" filter="url(#bl)" opacity="0.48"/>
<g id="h2_3">
<rect x="568" y="372.13" width="102" height="1.17" fill="#219c88"/>
<rect x="631.32" y="382.29" width="38.68" height="1.32" fill="#219c88"/>
<rect x="568" y="384.7" width="42.86" height="1.46" fill="#219c88"/>
<rect x="568" y="387.77" width="92.56" height="2.05" fill="#22a784"/>
<rect x="635.71" y="379" width="27.78" height="1.17" fill="#33b27a"/>
<rect x="638.6" y="371.53" width="32.9" height="2.37" fill="#24848d" opacity="0.45"/>
<rect x="640.1" y="372.13" width="29.9" height="1.17" fill="#5ec860"/>
<rect x="590.35" y="381.47" width="42.47" height="2.95" fill="#24848d" opacity="0.45"/>
<rect x="591.85" y="382.07" width="39.47" height="1.75" fill="#5ec860"/>
<rect x="607.9" y="392.29" width="63.6" height="2.37" fill="#24848d" opacity="0.45"/>
<rect x="609.4" y="392.89" width="60.6" height="1.17" fill="#5ec860"/>
<rect x="584.5" y="366.19" width="45.4" height="1.95" fill="#24848d" opacity="0.45"/>
<rect x="586" y="366.79" width="42.4" height="0.75" fill="#5ec860"/>
<rect x="566.5" y="368.13" width="19.54" height="2.44" fill="#24848d" opacity="0.45"/>
<rect x="568" y="368.73" width="16.54" height="1.24" fill="#5ec860"/>
<rect x="640.79" y="368.2" width="30.71" height="2.32" fill="#219c88" opacity="0.45"/>
<rect x="642.29" y="368.8" width="27.71" height="1.12" fill="#9bd83c"/>
<rect x="598.39" y="363.18" width="18.35" height="2.69" fill="#33b27a" opacity="0.45"/>
<rect x="599.89" y="363.78" width="15.35" height="1.49" fill="#dde225"/>
<rect x="604.97" y="367.73" width="11.77" height="4.12" fill="#44be70" opacity="0.45"/>
<rect x="606.47" y="368.33" width="8.77" height="2.92" fill="#fde724"/>
</g>
<rect x="568" y="363.02" width="101" height="37.13" fill="url(#sp2)" opacity="0.38"/>
<line x1="587.47" y1="378.13" x2="599.89" y2="363.51" stroke="#219c88" stroke-width="1" stroke-linecap="round"/>
<line x1="618.17" y1="380.32" x2="633.52" y2="363.51" stroke="#20908c" stroke-width="1" stroke-linecap="round"/>
<line x1="625.48" y1="372.28" x2="633.52" y2="363.95" stroke="#44be70" stroke-width="1" stroke-linecap="round"/>
<line x1="660.56" y1="370.09" x2="667.87" y2="364.24" stroke="#22a784" stroke-width="1" stroke-linecap="round"/>
</g>
<g clip-path="url(#c2_4)">
<rect x="669" y="359.85" width="102" height="38.3" fill="#481b6e" mask="url(#glm)"/>
<line x1="695.65" y1="354.74" x2="751.2" y2="354.74" stroke="#36598c" stroke-width="0.73" stroke-dasharray="1.6 1.8"/>
<rect x="702.96" y="358.17" width="10.23" height="1.02" fill="#2e6b8e"/>
<rect x="669" y="372.72" width="103" height="1.17" fill="#2e6b8e"/>
<line x1="669" y1="376.66" x2="772" y2="376.66" stroke="#2e6b8e" stroke-width="0.88" stroke-dasharray="1.6 1.8"/>
<rect x="669" y="392.31" width="103" height="2.34" fill="#2e6b8e"/>
<rect x="669" y="359.85" width="102" height="38.3" fill="url(#sp)" mask="url(#glm2)" opacity="0.87"/>
<use href="#h2_4" filter="url(#bl)" opacity="0.48"/>
<g id="h2_4">
<rect x="732.93" y="354.3" width="5.12" height="0.88" fill="#219c88"/>
<rect x="713.19" y="358.1" width="58.81" height="1.17" fill="#219c88"/>
<rect x="717.58" y="368.19" width="54.42" height="1.46" fill="#22a784"/>
<rect x="681.03" y="382.51" width="90.97" height="1.46" fill="#22a784"/>
<rect x="727.81" y="385.44" width="44.19" height="1.46" fill="#22a784"/>
<rect x="702.96" y="362.92" width="69.04" height="1.17" fill="#44be70"/>
<rect x="678.1" y="388.36" width="20.47" height="1.46" fill="#44be70"/>
<rect x="708.04" y="369.55" width="38.09" height="1.95" fill="#20908c" opacity="0.45"/>
<rect x="709.54" y="370.15" width="35.09" height="0.75" fill="#79d151"/>
<rect x="711.69" y="362.47" width="61.81" height="2.07" fill="#22a784" opacity="0.45"/>
<rect x="713.19" y="363.07" width="58.81" height="0.87" fill="#bdde26"/>
<rect x="705.84" y="381.62" width="23.47" height="3.25" fill="#22a784" opacity="0.45"/>
<rect x="707.34" y="382.22" width="20.47" height="2.05" fill="#bdde26"/>
</g>
<rect x="669" y="361.85" width="102" height="38.3" fill="url(#sp2)" opacity="0.38"/>
<line x1="685.41" y1="381.78" x2="701.5" y2="363.51" stroke="#20908c" stroke-width="1" stroke-linecap="round"/>
<line x1="694.19" y1="371.55" x2="701.2" y2="363.95" stroke="#44be70" stroke-width="1" stroke-linecap="round"/>
<line x1="730" y1="369.35" x2="735.12" y2="364.24" stroke="#22a784" stroke-width="1" stroke-linecap="round"/>
<line x1="764.36" y1="369.35" x2="770.2" y2="363.51" stroke="#22a784" stroke-width="1" stroke-linecap="round"/>
</g>
<g clip-path="url(#c2_5)">
<rect x="771" y="360.58" width="102" height="37.57" fill="#481b6e" mask="url(#glm)"/>
<rect x="771" y="371.84" width="24.06" height="2.92" fill="#29788e" opacity="0.6"/>
<line x1="771" y1="376.66" x2="874" y2="376.66" stroke="#29788e" stroke-width="0.88" stroke-dasharray="1.6 1.8"/>
<rect x="771" y="392.31" width="103" height="2.34" fill="#29788e"/>
<rect x="802.37" y="358.98" width="71.63" height="1.17" fill="#20908c"/>
<rect x="771" y="360.58" width="102" height="37.57" fill="url(#sp)" mask="url(#glm2)" opacity="0.87"/>
<use href="#h2_5" filter="url(#bl)" opacity="0.48"/>
<g id="h2_5">
<rect x="771" y="385.58" width="44.52" height="1.17" fill="#219c88"/>
<rect x="841.84" y="366.14" width="32.16" height="1.46" fill="#33b27a"/>
<rect x="830.14" y="370.52" width="43.86" height="2.05" fill="#33b27a"/>
<rect x="771" y="382.22" width="103" height="1.17" fill="#33b27a"/>
<rect x="792.13" y="388.36" width="23.39" height="1.46" fill="#33b27a"/>
<rect x="800.9" y="363.73" width="73.1" height="1.02" fill="#44be70"/>
<rect x="850.57" y="380.45" width="24.93" height="2.07" fill="#24848d" opacity="0.45"/>
<rect x="852.07" y="381.05" width="21.93" height="0.87" fill="#5ec860"/>
<rect x="828.64" y="370.2" width="6.65" height="2.69" fill="#219c88" opacity="0.45"/>
<rect x="830.14" y="370.8" width="3.65" height="1.49" fill="#9bd83c"/>
<rect x="854.23" y="370.33" width="7.39" height="2.44" fill="#219c88" opacity="0.45"/>
<rect x="855.73" y="370.93" width="4.39" height="1.24" fill="#9bd83c"/>
<rect x="865.19" y="370.33" width="6.65" height="2.44" fill="#219c88" opacity="0.45"/>
<rect x="866.69" y="370.93" width="3.65" height="1.24" fill="#9bd83c"/>
<rect x="808.18" y="381.65" width="22" height="2.32" fill="#22a784" opacity="0.45"/>
<rect x="809.68" y="382.25" width="19" height="1.12" fill="#bdde26"/>
</g>
<rect x="771" y="362.58" width="102" height="37.57" fill="url(#sp2)" opacity="0.38"/>
<line x1="792.13" y1="376.66" x2="802.37" y2="364.24" stroke="#44be70" stroke-width="1" stroke-linecap="round"/>
<line x1="802.37" y1="364.24" x2="804.56" y2="359.85" stroke="#29788e" stroke-width="1" stroke-linecap="round"/>
<line x1="831.6" y1="371.55" x2="835.99" y2="364.97" stroke="#44be70" stroke-width="1" stroke-linecap="round"/>
<line x1="865.23" y1="370.82" x2="870.35" y2="364.24" stroke="#22a784" stroke-width="1" stroke-linecap="round"/>
</g>
<g clip-path="url(#c2_6)">
<rect x="873" y="359.12" width="102" height="39.03" fill="#481f71" mask="url(#glm)"/>
<rect x="873" y="366.43" width="18" height="1.46" fill="#20908c"/>
<rect x="873" y="376.08" width="103" height="1.17" fill="#20908c"/>
<rect x="873" y="359.12" width="102" height="39.03" fill="url(#sp)" mask="url(#glm2)" opacity="1"/>
<use href="#h2_6" filter="url(#bl)" opacity="0.48"/>
<g id="h2_6">
<rect x="873" y="370.09" width="72.1" height="1.46" fill="#219c88"/>
<rect x="915.86" y="385.87" width="24.85" height="1.17" fill="#219c88"/>
<rect x="873" y="392.6" width="103" height="1.75" fill="#219c88"/>
<rect x="902.7" y="365.12" width="73.3" height="1.17" fill="#44be70"/>
<rect x="871.5" y="388.93" width="37.09" height="2.66" fill="#24848d" opacity="0.45"/>
<rect x="873" y="389.53" width="34.09" height="1.46" fill="#5ec860"/>
<rect x="907.05" y="380.56" width="70.45" height="2.44" fill="#24848d" opacity="0.45"/>
<rect x="908.55" y="381.16" width="67.45" height="1.24" fill="#5ec860"/>
<rect x="903.39" y="359.55" width="74.11" height="2.07" fill="#20908c" opacity="0.45"/>
<rect x="904.89" y="360.15" width="71.11" height="0.87" fill="#79d151"/>
<rect x="939.21" y="385.36" width="23.47" height="2.19" fill="#219c88" opacity="0.45"/>
<rect x="940.71" y="385.96" width="20.47" height="0.99" fill="#9bd83c"/>
<rect x="940.67" y="380.62" width="17.62" height="2.32" fill="#22a784" opacity="0.45"/>
<rect x="942.17" y="381.22" width="14.62" height="1.12" fill="#bdde26"/>
<rect x="946.52" y="364.48" width="30.98" height="2.44" fill="#33b27a" opacity="0.45"/>
<rect x="948.02" y="365.08" width="27.98" height="1.24" fill="#dde225"/>
<rect x="947.25" y="369.47" width="30.25" height="2.69" fill="#44be70" opacity="0.45"/>
<rect x="948.75" y="370.07" width="27.25" height="1.49" fill="#fde724"/>
</g>
<rect x="873" y="361.12" width="102" height="39.03" fill="url(#sp2)" opacity="0.38"/>
<line x1="891.74" y1="378.86" x2="904.89" y2="363.51" stroke="#219c88" stroke-width="1" stroke-linecap="round"/>
<line x1="897.58" y1="371.55" x2="904.45" y2="364.24" stroke="#79d151" stroke-width="1.3" stroke-linecap="round"/>
<line x1="926.09" y1="379.59" x2="937.05" y2="364.97" stroke="#219c88" stroke-width="1" stroke-linecap="round"/>
<line x1="960.45" y1="377.4" x2="964.1" y2="372.28" stroke="#20908c" stroke-width="1" stroke-linecap="round"/>
</g>
<g clip-path="url(#c2_7)">
<rect x="975" y="359.85" width="101" height="38.3" fill="#481b6d" mask="url(#glm)"/>
<rect x="975" y="389.82" width="102" height="2.92" fill="#345e8d" opacity="0.6"/>
<rect x="987.49" y="364.38" width="17.54" height="1.17" fill="#29788e"/>
<rect x="975" y="375.93" width="43.19" height="2.92" fill="#29788e" opacity="0.6"/>
<rect x="988.95" y="385.58" width="88.05" height="1.17" fill="#20908c"/>
<rect x="975" y="359.85" width="101" height="38.3" fill="url(#sp)" mask="url(#glm2)" opacity="0.83"/>
<use href="#h2_7" filter="url(#bl)" opacity="0.48"/>
<g id="h2_7">
<rect x="1032.81" y="381.85" width="44.19" height="1.32" fill="#219c88"/>
<rect x="1026.96" y="368.84" width="50.04" height="1.02" fill="#22a784"/>
<rect x="1066.43" y="388.8" width="10.57" height="1.17" fill="#33b27a"/>
<rect x="1062.05" y="385.58" width="14.95" height="1.17" fill="#44be70"/>
<rect x="1016.69" y="366.27" width="61.81" height="2.37" fill="#24848d" opacity="0.45"/>
<rect x="1018.19" y="366.87" width="58.81" height="1.17" fill="#5ec860"/>
<rect x="981.6" y="381.29" width="52.7" height="2.44" fill="#20908c" opacity="0.45"/>
<rect x="983.1" y="381.89" width="49.7" height="1.24" fill="#79d151"/>
<rect x="1017.42" y="371.97" width="61.08" height="4.42" fill="#44be70" opacity="0.45"/>
<rect x="1018.92" y="372.57" width="58.08" height="3.22" fill="#fde724"/>
</g>
<rect x="975" y="361.85" width="101" height="38.3" fill="url(#sp2)" opacity="0.38"/>
<line x1="991.15" y1="381.78" x2="1005.03" y2="364.97" stroke="#219c88" stroke-width="1" stroke-linecap="round"/>
</g>
<g clip-path="url(#c2_8)">
<rect x="1076" y="360.58" width="102" height="37.57" fill="#481b6d" mask="url(#glm)"/>
<rect x="1076" y="354.3" width="22.6" height="0.88" fill="#3a528b"/>
<rect x="1162.92" y="354.3" width="16.08" height="0.88" fill="#345e8d"/>
<rect x="1114.68" y="368.92" width="19" height="2.34" fill="#345e8d"/>
<rect x="1076" y="373.45" width="37.21" height="2.05" fill="#2e6b8e"/>
<rect x="1076" y="384.7" width="103" height="1.46" fill="#2e6b8e"/>
<rect x="1076" y="391.72" width="103" height="2.05" fill="#20908c"/>
<rect x="1076" y="360.58" width="102" height="37.57" fill="url(#sp)" mask="url(#glm2)" opacity="0.83"/>
<use href="#h2_8" filter="url(#bl)" opacity="0.48"/>
<g id="h2_8">
<rect x="1149.76" y="385.73" width="29.24" height="1.46" fill="#44be70"/>
<rect x="1104.4" y="381.17" width="45.4" height="2.69" fill="#24848d" opacity="0.45"/>
<rect x="1105.9" y="381.77" width="42.4" height="1.49" fill="#5ec860"/>
<rect x="1113.18" y="372.96" width="67.32" height="2.44" fill="#219c88" opacity="0.45"/>
<rect x="1114.68" y="373.56" width="64.32" height="1.24" fill="#9bd83c"/>
<rect x="1124.87" y="381.29" width="10.31" height="2.44" fill="#33b27a" opacity="0.45"/>
<rect x="1126.37" y="381.89" width="7.31" height="1.24" fill="#dde225"/>
</g>
<rect x="1076" y="362.58" width="102" height="37.57" fill="url(#sp2)" opacity="0.38"/>
<line x1="1093.48" y1="379.59" x2="1104.44" y2="367.89" stroke="#5ec860" stroke-width="1.3" stroke-linecap="round"/>
<line x1="1135.14" y1="370.82" x2="1140.26" y2="364.97" stroke="#22a784" stroke-width="1" stroke-linecap="round"/>
<line x1="1162.92" y1="378.86" x2="1175.35" y2="364.24" stroke="#22a784" stroke-width="1" stroke-linecap="round"/>
<line x1="1124.18" y1="383.24" x2="1127.1" y2="380.32" stroke="#79d151" stroke-width="1.3" stroke-linecap="round"/>
</g>
<g clip-path="url(#c2_9)">
<rect x="1178" y="359.12" width="102" height="39.03" fill="#481c6e" mask="url(#glm)"/>
<rect x="1178" y="372.28" width="103" height="4.39" fill="#345e8d" opacity="0.6"/>
<rect x="1178" y="389.82" width="103" height="5.85" fill="#345e8d" opacity="0.6"/>
<rect x="1191.62" y="365.85" width="16.08" height="1.17" fill="#29788e"/>
<rect x="1258.87" y="384.7" width="11.7" height="1.46" fill="#20908c"/>
<rect x="1178" y="359.12" width="102" height="39.03" fill="url(#sp)" mask="url(#glm2)" opacity="0.91"/>
<use href="#h2_9" filter="url(#bl)" opacity="0.48"/>
<g id="h2_9">
<rect x="1178" y="370.67" width="103" height="1.17" fill="#219c88"/>
<rect x="1178" y="377.98" width="72.1" height="1.75" fill="#33b27a"/>
<rect x="1203.31" y="390.11" width="5.85" height="0.88" fill="#33b27a"/>
<rect x="1176.5" y="380.89" width="80.94" height="3.25" fill="#24848d" opacity="0.45"/>
<rect x="1178" y="381.49" width="77.94" height="2.05" fill="#5ec860"/>
<rect x="1190.12" y="370.16" width="17.62" height="2.19" fill="#219c88" opacity="0.45"/>
<rect x="1191.62" y="370.76" width="14.62" height="0.99" fill="#9bd83c"/>
<rect x="1200.35" y="381.29" width="8.85" height="2.44" fill="#33b27a" opacity="0.45"/>
<rect x="1201.85" y="381.89" width="5.85" height="1.24" fill="#dde225"/>
<rect x="1223.74" y="381.29" width="8.85" height="2.44" fill="#33b27a" opacity="0.45"/>
<rect x="1225.24" y="381.89" width="5.85" height="1.24" fill="#dde225"/>
</g>
<rect x="1178" y="361.12" width="102" height="39.03" fill="url(#sp2)" opacity="0.38"/>
<line x1="1204.05" y1="370.82" x2="1209.89" y2="363.95" stroke="#79d151" stroke-width="1.3" stroke-linecap="round"/>
<line x1="1237.67" y1="370.82" x2="1243.52" y2="364.24" stroke="#44be70" stroke-width="1" stroke-linecap="round"/>
<line x1="1272.02" y1="371.26" x2="1276.41" y2="365.41" stroke="#5ec860" stroke-width="1.3" stroke-linecap="round"/>
<line x1="1261.79" y1="381.78" x2="1267.64" y2="376.23" stroke="#44be70" stroke-width="1" stroke-linecap="round"/>
<line x1="1228.17" y1="380.32" x2="1233.28" y2="375.93" stroke="#22a784" stroke-width="1" stroke-linecap="round"/>
<line x1="1195.27" y1="379.59" x2="1198.93" y2="376.23" stroke="#20908c" stroke-width="1" stroke-linecap="round"/>
</g>
<g clip-path="url(#c2_10)">
<rect x="1280" y="360.58" width="101" height="37.57" fill="#481b6d" mask="url(#glm)"/>
<rect x="1302.72" y="305.76" width="3.65" height="58.48" fill="#460b5e" opacity="0.45"/>
<rect x="1280" y="393.18" width="102" height="2.05" fill="#2e6b8e"/>
<rect x="1280" y="372.13" width="102" height="1.17" fill="#29788e"/>
<rect x="1280" y="389.53" width="34.42" height="1.46" fill="#20908c"/>
<rect x="1280" y="360.58" width="101" height="37.57" fill="url(#sp)" mask="url(#glm2)" opacity="0.83"/>
<use href="#h2_10" filter="url(#bl)" opacity="0.48"/>
<g id="h2_10">
<rect x="1308.57" y="381.34" width="73.43" height="1.46" fill="#219c88"/>
<rect x="1334.89" y="384.41" width="47.11" height="2.05" fill="#219c88"/>
<rect x="1357.55" y="373.96" width="10.96" height="1.02" fill="#44be70"/>
<rect x="1358.97" y="375.57" width="15.43" height="2.19" fill="#219c88" opacity="0.45"/>
<rect x="1360.47" y="376.17" width="12.43" height="0.99" fill="#9bd83c"/>
<rect x="1312.92" y="380.73" width="20.54" height="2.69" fill="#219c88" opacity="0.45"/>
<rect x="1314.42" y="381.33" width="17.54" height="1.49" fill="#9bd83c"/>
<rect x="1278.5" y="382.02" width="16.95" height="2.44" fill="#219c88" opacity="0.45"/>
<rect x="1280" y="382.62" width="13.95" height="1.24" fill="#9bd83c"/>
<rect x="1362.62" y="384.28" width="10.31" height="2.32" fill="#33b27a" opacity="0.45"/>
<rect x="1364.12" y="384.88" width="7.31" height="1.12" fill="#dde225"/>
</g>
<rect x="1280" y="362.58" width="101" height="37.57" fill="url(#sp2)" opacity="0.38"/>
<line x1="1293.95" y1="383.24" x2="1310.03" y2="365.7" stroke="#24848d" stroke-width="1" stroke-linecap="round"/>
<line x1="1298.34" y1="378.86" x2="1301.26" y2="375.93" stroke="#79d151" stroke-width="1.3" stroke-linecap="round"/>
<line x1="1305.65" y1="370.82" x2="1309.74" y2="365.99" stroke="#44be70" stroke-width="1" stroke-linecap="round"/>
<line x1="1331.96" y1="379.59" x2="1342.93" y2="367.16" stroke="#20908c" stroke-width="1" stroke-linecap="round"/>
<line x1="1372.9" y1="371.55" x2="1377.28" y2="365.7" stroke="#22a784" stroke-width="1" stroke-linecap="round"/>
</g>
<g clip-path="url(#c2_11)">
<rect x="1381" y="360.58" width="102" height="37.57" fill="#481d6f" mask="url(#glm)"/>
<rect x="1442.34" y="305.76" width="5.12" height="58.48" fill="#460b5e" opacity="0.45"/>
<rect x="1402.13" y="370.23" width="81.87" height="1.17" fill="#29788e"/>
<rect x="1381" y="374.47" width="97.15" height="1.46" fill="#20908c"/>
<rect x="1381" y="360.58" width="102" height="37.57" fill="url(#sp)" mask="url(#glm2)" opacity="1"/>
<use href="#h2_11" filter="url(#bl)" opacity="0.48"/>
<g id="h2_11">
<rect x="1381" y="378.13" width="103" height="1.46" fill="#219c88"/>
<rect x="1381" y="383.68" width="103" height="1.46" fill="#219c88"/>
<rect x="1394.82" y="390.7" width="30.7" height="1.17" fill="#22a784"/>
<rect x="1379.5" y="386.28" width="106" height="2.69" fill="#24848d" opacity="0.45"/>
<rect x="1381" y="386.88" width="103" height="1.49" fill="#5ec860"/>
<rect x="1447.41" y="380.39" width="29.31" height="2.19" fill="#219c88" opacity="0.45"/>
<rect x="1448.91" y="380.99" width="26.31" height="0.99" fill="#9bd83c"/>
<rect x="1407.94" y="380.33" width="22" height="2.32" fill="#22a784" opacity="0.45"/>
<rect x="1409.44" y="380.93" width="19" height="1.12" fill="#bdde26"/>
<rect x="1448.88" y="383.32" width="11.77" height="2.19" fill="#22a784" opacity="0.45"/>
<rect x="1450.38" y="383.92" width="8.77" height="0.99" fill="#bdde26"/>
<rect x="1459.11" y="386.41" width="26.39" height="2.44" fill="#33b27a" opacity="0.45"/>
<rect x="1460.61" y="387.01" width="23.39" height="1.24" fill="#dde225"/>
</g>
<rect x="1381" y="362.58" width="102" height="37.57" fill="url(#sp2)" opacity="0.38"/>
<line x1="1405.79" y1="371.55" x2="1409.44" y2="365.7" stroke="#79d151" stroke-width="1.3" stroke-linecap="round"/>
<line x1="1432.1" y1="379.59" x2="1440.14" y2="370.82" stroke="#24848d" stroke-width="1" stroke-linecap="round"/>
<line x1="1440.14" y1="370.82" x2="1443.8" y2="364.97" stroke="#44be70" stroke-width="1" stroke-linecap="round"/>
<line x1="1473.77" y1="370.82" x2="1476.69" y2="367.89" stroke="#79d151" stroke-width="1.3" stroke-linecap="round"/>
<line x1="1399.21" y1="378.86" x2="1402.13" y2="376.23" stroke="#79d151" stroke-width="1.3" stroke-linecap="round"/>
<line x1="1465.73" y1="379.59" x2="1469.38" y2="376.66" stroke="#22a784" stroke-width="1" stroke-linecap="round"/>
</g>
<g clip-path="url(#c2_12)">
<rect x="1483" y="361.31" width="102" height="36.84" fill="#481b6e" mask="url(#glm)"/>
<rect x="1483" y="389.82" width="103" height="4.39" fill="#345e8d" opacity="0.6"/>
<rect x="1483" y="369.79" width="45.78" height="2.05" fill="#29788e"/>
<rect x="1483" y="380.76" width="42.86" height="1.46" fill="#29788e"/>
<rect x="1483" y="361.31" width="102" height="36.84" fill="url(#sp)" mask="url(#glm2)" opacity="0.87"/>
<use href="#h2_12" filter="url(#bl)" opacity="0.48"/>
<g id="h2_12">
<rect x="1483" y="374.47" width="103" height="1.46" fill="#219c88"/>
<rect x="1483" y="384.12" width="103" height="1.17" fill="#33b27a"/>
<rect x="1499.5" y="375.48" width="88" height="4.42" fill="#20958a" opacity="0.45"/>
<rect x="1501" y="376.08" width="85" height="3.22" fill="#87d448"/>
<rect x="1550.67" y="383.08" width="10.31" height="3.25" fill="#33b27a" opacity="0.45"/>
<rect x="1552.17" y="383.68" width="7.31" height="2.05" fill="#dde225"/>
<rect x="1524.36" y="376.28" width="63.14" height="2.82" fill="#3ab776" opacity="0.45"/>
<rect x="1525.86" y="376.88" width="60.14" height="1.62" fill="#eae425"/>
</g>
<rect x="1483" y="363.31" width="102" height="36.84" fill="url(#sp2)" opacity="0.38"/>
<line x1="1506.12" y1="374.18" x2="1510.51" y2="368.92" stroke="#79d151" stroke-width="1.3" stroke-linecap="round"/>
<line x1="1539.75" y1="374.47" x2="1544.13" y2="369.35" stroke="#79d151" stroke-width="1.3" stroke-linecap="round"/>
<line x1="1573.37" y1="374.18" x2="1577.75" y2="369.35" stroke="#79d151" stroke-width="1.3" stroke-linecap="round"/>
</g>
<g clip-path="url(#c2_13)">
<rect x="1585" y="360.58" width="102" height="37.57" fill="#481b6d" mask="url(#glm)"/>
<rect x="1624.54" y="353.71" width="18.27" height="0.58" fill="#36598c"/>
<rect x="1585" y="389.82" width="103" height="2.92" fill="#30668e" opacity="0.6"/>
<rect x="1585" y="375.93" width="16.88" height="4.39" fill="#29788e" opacity="0.6"/>
<rect x="1585" y="360.58" width="102" height="37.57" fill="url(#sp)" mask="url(#glm2)" opacity="0.83"/>
<use href="#h2_13" filter="url(#bl)" opacity="0.48"/>
<g id="h2_13">
<rect x="1585" y="384.56" width="103" height="1.75" fill="#219c88"/>
<rect x="1601.88" y="373.89" width="29.24" height="1.17" fill="#44be70"/>
<rect x="1632.58" y="373.74" width="55.42" height="1.46" fill="#44be70"/>
<rect x="1600.38" y="377.93" width="89.12" height="2.44" fill="#24848d" opacity="0.45"/>
<rect x="1601.88" y="378.53" width="86.12" height="1.24" fill="#5ec860"/>
<rect x="1609.15" y="380.56" width="32.24" height="2.44" fill="#22a784" opacity="0.45"/>
<rect x="1610.65" y="381.16" width="29.24" height="1.24" fill="#bdde26"/>
<rect x="1600.38" y="377.99" width="32.24" height="2.32" fill="#33b27a" opacity="0.45"/>
<rect x="1601.88" y="378.59" width="29.24" height="1.12" fill="#dde225"/>
</g>
<rect x="1585" y="362.58" width="102" height="37.57" fill="url(#sp2)" opacity="0.38"/>
<line x1="1640.62" y1="375.2" x2="1643.54" y2="371.55" stroke="#9bd83c" stroke-width="1.3" stroke-linecap="round"/>
<line x1="1674.97" y1="375.2" x2="1677.9" y2="371.55" stroke="#9bd83c" stroke-width="1.3" stroke-linecap="round"/>
<line x1="1606.99" y1="375.2" x2="1609.19" y2="372.28" stroke="#44be70" stroke-width="1" stroke-linecap="round"/>
</g>
<g clip-path="url(#c2_14)">
<rect x="1687" y="361.31" width="101" height="36.84" fill="#481b6d" mask="url(#glm)"/>
<rect x="1687" y="392.75" width="102" height="1.46" fill="#345e8d"/>
<rect x="1687" y="373.01" width="102" height="1.46" fill="#29788e"/>
<rect x="1687" y="361.31" width="101" height="36.84" fill="url(#sp)" mask="url(#glm2)" opacity="0.83"/>
<use href="#h2_14" filter="url(#bl)" opacity="0.48"/>
<g id="h2_14">
<rect x="1730.52" y="380.9" width="58.48" height="2.34" fill="#219c88"/>
<rect x="1714.44" y="392.89" width="16.08" height="1.17" fill="#22a784"/>
<rect x="1753.91" y="376.23" width="19" height="0.88" fill="#33b27a"/>
<rect x="1723.18" y="385.99" width="67.32" height="2.69" fill="#24848d" opacity="0.45"/>
<rect x="1724.68" y="386.59" width="64.32" height="1.49" fill="#5ec860"/>
<rect x="1685.5" y="380.45" width="46.52" height="3.25" fill="#20908c" opacity="0.45"/>
<rect x="1687" y="381.05" width="43.52" height="2.05" fill="#79d151"/>
<rect x="1701.25" y="380.85" width="22" height="2.44" fill="#3ab776" opacity="0.45"/>
<rect x="1702.75" y="381.45" width="19" height="1.24" fill="#eae425"/>
</g>
<rect x="1687" y="363.31" width="101" height="36.84" fill="url(#sp2)" opacity="0.38"/>
<line x1="1705.67" y1="379.59" x2="1712.25" y2="371.55" stroke="#219c88" stroke-width="1" stroke-linecap="round"/>
<line x1="1708.6" y1="375.93" x2="1711.81" y2="372.28" stroke="#9bd83c" stroke-width="1.3" stroke-linecap="round"/>
<line x1="1740.03" y1="378.13" x2="1745.14" y2="372.72" stroke="#9bd83c" stroke-width="1.3" stroke-linecap="round"/>
<line x1="1773.65" y1="378.13" x2="1778.77" y2="373.01" stroke="#79d151" stroke-width="1.3" stroke-linecap="round"/>
</g>
<g clip-path="url(#c2_15)">
<rect x="1788" y="360.58" width="102" height="37.57" fill="#481c6e" mask="url(#glm)"/>
<rect x="1788" y="375.2" width="16.29" height="4.39" fill="#29788e" opacity="0.6"/>
<rect x="1788" y="383.97" width="103" height="1.46" fill="#29788e"/>
<rect x="1788" y="360.58" width="102" height="37.57" fill="url(#sp)" mask="url(#glm2)" opacity="0.91"/>
<use href="#h2_15" filter="url(#bl)" opacity="0.48"/>
<g id="h2_15">
<rect x="1788" y="371.55" width="103" height="1.46" fill="#219c88"/>
<rect x="1826.21" y="380.76" width="49.7" height="1.46" fill="#219c88"/>
<rect x="1833.52" y="392.45" width="57.48" height="2.05" fill="#219c88"/>
<rect x="1788" y="387.77" width="103" height="1.17" fill="#44be70"/>
<rect x="1870.03" y="392.15" width="22.47" height="2.66" fill="#24848d" opacity="0.45"/>
<rect x="1871.53" y="392.75" width="19.47" height="1.46" fill="#5ec860"/>
<rect x="1868.57" y="387.26" width="23.93" height="2.19" fill="#219c88" opacity="0.45"/>
<rect x="1870.07" y="387.86" width="20.93" height="0.99" fill="#9bd83c"/>
<rect x="1870.03" y="378.07" width="22.47" height="2.44" fill="#22a784" opacity="0.45"/>
<rect x="1871.53" y="378.67" width="19.47" height="1.24" fill="#bdde26"/>
<rect x="1795.48" y="380.27" width="32.24" height="2.44" fill="#33b27a" opacity="0.45"/>
<rect x="1796.98" y="380.87" width="29.24" height="1.24" fill="#dde225"/>
</g>
<rect x="1788" y="362.58" width="102" height="37.57" fill="url(#sp2)" opacity="0.38"/>
<line x1="1807.21" y1="378.13" x2="1810.86" y2="374.18" stroke="#5ec860" stroke-width="1.3" stroke-linecap="round"/>
<line x1="1840.1" y1="379.59" x2="1845.22" y2="373.74" stroke="#79d151" stroke-width="1.3" stroke-linecap="round"/>
<line x1="1875.19" y1="378.86" x2="1878.11" y2="375.2" stroke="#79d151" stroke-width="1.3" stroke-linecap="round"/>
</g>
<g clip-path="url(#c3_0)">
<rect x="263" y="470.99" width="101" height="32.16" fill="#481c6e" mask="url(#glm)"/>
<rect x="263" y="475.67" width="72.1" height="1.75" fill="#2e6b8e"/>
<rect x="263" y="493.36" width="72.1" height="2.92" fill="#29788e" opacity="0.6"/>
<rect x="314.63" y="499.21" width="50.37" height="1.46" fill="#29788e"/>
<rect x="263" y="490.58" width="57.48" height="1.75" fill="#20908c"/>
<rect x="263" y="470.99" width="101" height="32.16" fill="url(#sp)" mask="url(#glm2)" opacity="0.91"/>
<use href="#h3_0" filter="url(#bl)" opacity="0.48"/>
<g id="h3_0">
<rect x="263" y="486.2" width="102" height="1.17" fill="#219c88"/>
<rect x="288.31" y="478.45" width="61.4" height="1.46" fill="#33b27a"/>
<rect x="357.02" y="472.75" width="7.98" height="1.17" fill="#44be70"/>
<rect x="289.74" y="478.02" width="16.16" height="2.32" fill="#20908c" opacity="0.45"/>
<rect x="291.24" y="478.62" width="13.16" height="1.12" fill="#79d151"/>
<rect x="285.35" y="482.99" width="81.15" height="2.32" fill="#219c88" opacity="0.45"/>
<rect x="286.85" y="483.59" width="78.15" height="1.12" fill="#9bd83c"/>
<rect x="292.66" y="486.29" width="20.54" height="2.44" fill="#219c88" opacity="0.45"/>
<rect x="294.16" y="486.89" width="17.54" height="1.24" fill="#9bd83c"/>
<rect x="320.44" y="490.11" width="33.7" height="2.69" fill="#219c88" opacity="0.45"/>
<rect x="321.94" y="490.71" width="30.7" height="1.49" fill="#9bd83c"/>
<rect x="335.06" y="496.21" width="31.44" height="2.19" fill="#219c88" opacity="0.45"/>
<rect x="336.56" y="496.81" width="28.44" height="0.99" fill="#9bd83c"/>
<rect x="354.06" y="477.56" width="12.44" height="3.25" fill="#33b27a" opacity="0.45"/>
<rect x="355.56" y="478.16" width="9.44" height="2.05" fill="#dde225"/>
<rect x="294.12" y="483.05" width="17.62" height="2.19" fill="#3ab776" opacity="0.45"/>
<rect x="295.62" y="483.65" width="14.62" height="0.99" fill="#eae425"/>
<rect x="340.9" y="483.05" width="16.16" height="2.19" fill="#3ab776" opacity="0.45"/>
<rect x="342.4" y="483.65" width="13.16" height="0.99" fill="#eae425"/>
<rect x="333.6" y="490.24" width="14.7" height="2.44" fill="#3ab776" opacity="0.45"/>
<rect x="335.1" y="490.84" width="11.7" height="1.24" fill="#eae425"/>
</g>
<rect x="263" y="472.99" width="101" height="32.16" fill="url(#sp2)" opacity="0.38"/>
<line x1="281.74" y1="483.86" x2="285.39" y2="479.18" stroke="#9bd83c" stroke-width="1.3" stroke-linecap="round"/>
<line x1="316.09" y1="483.56" x2="320.48" y2="478.74" stroke="#9bd83c" stroke-width="1.3" stroke-linecap="round"/>
<line x1="350.45" y1="483.56" x2="354.83" y2="478.3" stroke="#bdde26" stroke-width="1.3" stroke-linecap="round"/>
</g>
<g clip-path="url(#c3_1)">
<rect x="364" y="470.99" width="102" height="32.16" fill="#481b6d" mask="url(#glm)"/>
<rect x="364" y="498.18" width="103" height="2.05" fill="#345e8d"/>
<rect x="364" y="476.55" width="103" height="1.46" fill="#29788e"/>
<rect x="364" y="491.17" width="29.57" height="2.92" fill="#29788e" opacity="0.6"/>
<rect x="364" y="470.99" width="102" height="32.16" fill="url(#sp)" mask="url(#glm2)" opacity="0.83"/>
<use href="#h3_1" filter="url(#bl)" opacity="0.48"/>
<g id="h3_1">
<rect x="364" y="486.34" width="44.19" height="2.34" fill="#219c88"/>
<rect x="443.28" y="490.8" width="23.72" height="1.32" fill="#219c88"/>
<rect x="408.19" y="488.24" width="58.81" height="1.46" fill="#22a784"/>
<rect x="386.26" y="495.7" width="29.24" height="1.17" fill="#33b27a"/>
<rect x="397.96" y="493.21" width="24.85" height="1.17" fill="#44be70"/>
<rect x="421.31" y="480.63" width="23.47" height="2.08" fill="#24848d" opacity="0.45"/>
<rect x="422.81" y="481.23" width="20.47" height="0.88" fill="#5ec860"/>
<rect x="395" y="486.35" width="14.7" height="2.32" fill="#20908c" opacity="0.45"/>
<rect x="396.5" y="486.95" width="11.7" height="1.12" fill="#79d151"/>
<rect x="380.38" y="485.39" width="12.5" height="2.19" fill="#219c88" opacity="0.45"/>
<rect x="381.88" y="485.99" width="9.5" height="0.99" fill="#9bd83c"/>
<rect x="418.39" y="490.24" width="26.39" height="2.44" fill="#219c88" opacity="0.45"/>
<rect x="419.89" y="490.84" width="23.39" height="1.24" fill="#9bd83c"/>
</g>
<rect x="364" y="472.99" width="102" height="32.16" fill="url(#sp2)" opacity="0.38"/>
<line x1="388.45" y1="476.55" x2="392.11" y2="471.43" stroke="#29788e" stroke-width="1" stroke-linecap="round"/>
<line x1="382.61" y1="483.86" x2="388.45" y2="476.55" stroke="#9bd83c" stroke-width="1.3" stroke-linecap="round"/>
<line x1="422.81" y1="476.55" x2="424.27" y2="472.16" stroke="#29788e" stroke-width="1" stroke-linecap="round"/>
<line x1="416.96" y1="483.86" x2="422.81" y2="476.55" stroke="#9bd83c" stroke-width="1.3" stroke-linecap="round"/>
<line x1="451.32" y1="483.13" x2="457.16" y2="476.55" stroke="#9bd83c" stroke-width="1.3" stroke-linecap="round"/>
</g>
<g clip-path="url(#c3_2)">
<rect x="466" y="470.99" width="102" height="32.16" fill="#481b6d" mask="url(#glm)"/>
<rect x="492.98" y="455.72" width="2.92" height="0.73" fill="#3a528b"/>
<rect x="510.52" y="455.72" width="5.85" height="0.73" fill="#3a528b"/>
<rect x="528.07" y="455.72" width="2.92" height="0.73" fill="#3a528b"/>
<rect x="522.22" y="473.04" width="46.78" height="1.17" fill="#345e8d"/>
<rect x="466" y="476.55" width="103" height="1.46" fill="#345e8d"/>
<rect x="490.06" y="486.93" width="78.94" height="1.17" fill="#2e6b8e"/>
<rect x="519.3" y="499.94" width="49.7" height="1.46" fill="#20908c"/>
<rect x="466" y="470.99" width="102" height="32.16" fill="url(#sp)" mask="url(#glm2)" opacity="0.83"/>
<use href="#h3_2" filter="url(#bl)" opacity="0.48"/>
<g id="h3_2">
<rect x="466" y="495.26" width="103" height="2.05" fill="#33b27a"/>
<rect x="507.6" y="478.59" width="26.31" height="1.17" fill="#44be70"/>
<rect x="466" y="489.7" width="103" height="1.46" fill="#44be70"/>
<rect x="547.03" y="494.81" width="23.47" height="2.95" fill="#24848d" opacity="0.45"/>
<rect x="548.53" y="495.41" width="20.47" height="1.75" fill="#5ec860"/>
<rect x="517.8" y="481.78" width="23.47" height="2.69" fill="#24848d" opacity="0.45"/>
<rect x="519.3" y="482.38" width="20.47" height="1.49" fill="#5ec860"/>
<rect x="464.5" y="485.39" width="27.06" height="2.19" fill="#20908c" opacity="0.45"/>
<rect x="466" y="485.99" width="24.06" height="0.99" fill="#79d151"/>
<rect x="514.87" y="489.21" width="10.31" height="2.44" fill="#22a784" opacity="0.45"/>
<rect x="516.37" y="489.81" width="7.31" height="1.24" fill="#bdde26"/>
<rect x="476.86" y="485.39" width="11.77" height="2.19" fill="#33b27a" opacity="0.45"/>
<rect x="478.36" y="485.99" width="8.77" height="0.99" fill="#dde225"/>
<rect x="535.34" y="489.21" width="13.23" height="2.44" fill="#33b27a" opacity="0.45"/>
<rect x="536.84" y="489.81" width="10.23" height="1.24" fill="#dde225"/>
</g>
<rect x="466" y="472.99" width="102" height="32.16" fill="url(#sp2)" opacity="0.38"/>
<line x1="484.21" y1="483.86" x2="490.79" y2="476.84" stroke="#79d151" stroke-width="1.3" stroke-linecap="round"/>
<line x1="518.56" y1="483.86" x2="524.41" y2="477.28" stroke="#9bd83c" stroke-width="1.3" stroke-linecap="round"/>
<line x1="552.19" y1="483.86" x2="558.04" y2="477.28" stroke="#33b27a" stroke-width="1" stroke-linecap="round"/>
</g>
<g clip-path="url(#c3_3)">
<rect x="568" y="470.99" width="101" height="32.16" fill="#481c6e" mask="url(#glm)"/>
<rect x="568" y="499.21" width="102" height="1.46" fill="#345e8d"/>
<rect x="607.93" y="485.9" width="62.07" height="1.17" fill="#2e6b8e"/>
<rect x="568" y="470.99" width="101" height="32.16" fill="url(#sp)" mask="url(#glm2)" opacity="0.91"/>
<use href="#h3_3" filter="url(#bl)" opacity="0.48"/>
<g id="h3_3">
<rect x="607.93" y="480.93" width="62.07" height="1.46" fill="#219c88"/>
<rect x="591.85" y="473.04" width="78.15" height="1.17" fill="#22a784"/>
<rect x="568" y="490.87" width="102" height="1.17" fill="#22a784"/>
<line x1="596.24" y1="478.3" x2="670" y2="478.3" stroke="#33b27a" stroke-width="1.17" stroke-dasharray="1.6 1.8"/>
<rect x="613.78" y="488.9" width="7.31" height="1.02" fill="#33b27a"/>
<rect x="577.23" y="495.99" width="45.32" height="1.46" fill="#33b27a"/>
<rect x="596.2" y="472.53" width="14.7" height="2.19" fill="#24848d" opacity="0.45"/>
<rect x="597.7" y="473.13" width="11.7" height="0.99" fill="#5ec860"/>
<rect x="641.52" y="490.36" width="13.23" height="2.19" fill="#219c88" opacity="0.45"/>
<rect x="643.02" y="490.96" width="10.23" height="0.99" fill="#9bd83c"/>
<rect x="575.73" y="485.33" width="15.43" height="2.32" fill="#22a784" opacity="0.45"/>
<rect x="577.23" y="485.93" width="12.43" height="1.12" fill="#bdde26"/>
<rect x="650.29" y="496.09" width="21.21" height="2.44" fill="#22a784" opacity="0.45"/>
<rect x="651.79" y="496.69" width="18.21" height="1.24" fill="#bdde26"/>
</g>
<rect x="568" y="472.99" width="101" height="32.16" fill="url(#sp2)" opacity="0.38"/>
<line x1="586.74" y1="483.86" x2="592.58" y2="475.82" stroke="#79d151" stroke-width="1.3" stroke-linecap="round"/>
<line x1="621.09" y1="483.86" x2="626.21" y2="477.28" stroke="#44be70" stroke-width="1" stroke-linecap="round"/>
<line x1="656.18" y1="483.56" x2="660.56" y2="477.72" stroke="#44be70" stroke-width="1" stroke-linecap="round"/>
</g>
<g clip-path="url(#c3_4)">
<rect x="669" y="471.43" width="102" height="31.72" fill="#481b6d" mask="url(#glm)"/>
<rect x="669" y="479.18" width="44.19" height="1.17" fill="#2e6b8e"/>
<rect x="669" y="487.22" width="29.57" height="2.05" fill="#2e6b8e"/>
<rect x="669" y="474.35" width="103" height="1.46" fill="#29788e"/>
<rect x="719.04" y="496.87" width="52.96" height="1.75" fill="#29788e"/>
<rect x="738.04" y="492.63" width="33.96" height="1.46" fill="#20908c"/>
<rect x="669" y="471.43" width="102" height="31.72" fill="url(#sp)" mask="url(#glm2)" opacity="0.83"/>
<use href="#h3_4" filter="url(#bl)" opacity="0.48"/>
<g id="h3_4">
<rect x="688.34" y="482.98" width="26.31" height="1.17" fill="#219c88"/>
<rect x="716.11" y="487.07" width="55.89" height="1.75" fill="#219c88"/>
<rect x="669" y="491.75" width="44.19" height="1.17" fill="#22a784"/>
<rect x="719.04" y="477.13" width="52.96" height="1.17" fill="#44be70"/>
<rect x="680.99" y="491.24" width="11.77" height="2.19" fill="#20908c" opacity="0.45"/>
<rect x="682.49" y="491.84" width="8.77" height="0.99" fill="#79d151"/>
<rect x="713.15" y="480.77" width="60.35" height="3.25" fill="#44be70" opacity="0.45"/>
<rect x="714.65" y="481.37" width="57.35" height="2.05" fill="#fde724"/>
</g>
<rect x="669" y="473.43" width="102" height="31.72" fill="url(#sp2)" opacity="0.38"/>
<line x1="688.34" y1="483.13" x2="692.72" y2="478.3" stroke="#44be70" stroke-width="1" stroke-linecap="round"/>
<line x1="724.15" y1="480.2" x2="727.08" y2="477.28" stroke="#79d151" stroke-width="1.3" stroke-linecap="round"/>
<line x1="758.51" y1="482.4" x2="763.63" y2="475.82" stroke="#79d151" stroke-width="1.3" stroke-linecap="round"/>
</g>
<g clip-path="url(#c3_5)">
<rect x="771" y="470.99" width="102" height="32.16" fill="#481e70" mask="url(#glm)"/>
<rect x="771" y="474.35" width="103" height="5.85" fill="#345e8d" opacity="0.6"/>
<rect x="771" y="494.82" width="103" height="2.92" fill="#2e6b8e" opacity="0.6"/>
<rect x="799.44" y="486.78" width="74.56" height="1.46" fill="#29788e"/>
<rect x="771" y="470.99" width="102" height="32.16" fill="url(#sp)" mask="url(#glm2)" opacity="1"/>
<use href="#h3_5" filter="url(#bl)" opacity="0.48"/>
<g id="h3_5">
<rect x="830.14" y="481.37" width="24.85" height="1.46" fill="#219c88"/>
<rect x="771" y="490" width="103" height="2.34" fill="#22a784"/>
<rect x="853.5" y="480.76" width="11.77" height="2.69" fill="#33b27a" opacity="0.45"/>
<rect x="855" y="481.36" width="8.77" height="1.49" fill="#dde225"/>
<rect x="769.5" y="485.27" width="31.44" height="2.44" fill="#33b27a" opacity="0.45"/>
<rect x="771" y="485.87" width="28.44" height="1.24" fill="#dde225"/>
</g>
<rect x="771" y="472.99" width="102" height="32.16" fill="url(#sp2)" opacity="0.38"/>
<line x1="790.67" y1="483.13" x2="797.25" y2="475.09" stroke="#219c88" stroke-width="1" stroke-linecap="round"/>
<line x1="792.86" y1="480.2" x2="796.52" y2="475.82" stroke="#9bd83c" stroke-width="1.3" stroke-linecap="round"/>
<line x1="825.03" y1="483.13" x2="832.34" y2="474.35" stroke="#44be70" stroke-width="1" stroke-linecap="round"/>
<line x1="859.38" y1="481.66" x2="867.42" y2="472.89" stroke="#bdde26" stroke-width="1.3" stroke-linecap="round"/>
</g>
<g clip-path="url(#c3_6)">
<rect x="873" y="468.07" width="102" height="35.09" fill="#481b6e" mask="url(#glm)"/>
<rect x="930.48" y="470.7" width="45.52" height="1.46" fill="#2e6b8e"/>
<rect x="873" y="498.48" width="103" height="1.46" fill="#2e6b8e"/>
<rect x="891" y="483.86" width="48.24" height="1.46" fill="#29788e"/>
<rect x="886.62" y="488.68" width="49.7" height="1.46" fill="#29788e"/>
<rect x="873" y="473.92" width="103" height="3.8" fill="#20908c" opacity="0.6"/>
<rect x="873" y="468.07" width="102" height="35.09" fill="url(#sp)" mask="url(#glm2)" opacity="0.87"/>
<use href="#h3_6" filter="url(#bl)" opacity="0.48"/>
<g id="h3_6">
<rect x="901.24" y="479.47" width="74.76" height="3.51" fill="#471265"/>
<rect x="873" y="495.26" width="103" height="1.17" fill="#22a784"/>
<rect x="937.79" y="491.46" width="27.78" height="2.34" fill="#33b27a"/>
<rect x="937.75" y="491.41" width="7.39" height="2.44" fill="#22a784" opacity="0.45"/>
<rect x="939.25" y="492.01" width="4.39" height="1.24" fill="#bdde26"/>
<rect x="946.52" y="491.41" width="8.85" height="2.44" fill="#22a784" opacity="0.45"/>
<rect x="948.02" y="492.01" width="5.85" height="1.24" fill="#bdde26"/>
<rect x="958.21" y="491.41" width="7.39" height="2.44" fill="#22a784" opacity="0.45"/>
<rect x="959.71" y="492.01" width="4.39" height="1.24" fill="#bdde26"/>
</g>
<rect x="873" y="470.07" width="102" height="35.09" fill="url(#sp2)" opacity="0.38"/>
<line x1="889.54" y1="486.05" x2="901.24" y2="471.43" stroke="#24848d" stroke-width="1" stroke-linecap="round"/>
<line x1="897.58" y1="477.28" x2="901.24" y2="472.45" stroke="#bdde26" stroke-width="1.3" stroke-linecap="round"/>
<line x1="890.27" y1="485.32" x2="894.66" y2="481.23" stroke="#5ec860" stroke-width="1.3" stroke-linecap="round"/>
<line x1="920.97" y1="488.97" x2="935.59" y2="469.97" stroke="#24848d" stroke-width="1" stroke-linecap="round"/>
<line x1="931.94" y1="477.28" x2="935.15" y2="472.89" stroke="#bdde26" stroke-width="1.3" stroke-linecap="round"/>
<line x1="963.37" y1="480.93" x2="969.95" y2="471.43" stroke="#20908c" stroke-width="1" stroke-linecap="round"/>
<line x1="966.29" y1="476.84" x2="969.22" y2="473.33" stroke="#bdde26" stroke-width="1.3" stroke-linecap="round"/>
</g>
<g clip-path="url(#c3_7)">
<rect x="975" y="468.07" width="101" height="35.09" fill="#481c6e" mask="url(#glm)"/>
<rect x="975" y="498.33" width="84.12" height="1.75" fill="#345e8d"/>
<rect x="975" y="481.81" width="102" height="1.17" fill="#29788e"/>
<rect x="983.1" y="488.83" width="24.85" height="1.75" fill="#29788e"/>
<rect x="975" y="468.07" width="101" height="35.09" fill="url(#sp)" mask="url(#glm2)" opacity="0.91"/>
<use href="#h3_7" filter="url(#bl)" opacity="0.48"/>
<g id="h3_7">
<rect x="975" y="476.69" width="102" height="2.05" fill="#219c88"/>
<rect x="1038.66" y="491.9" width="38.34" height="2.05" fill="#219c88"/>
<rect x="999.19" y="483.56" width="16.08" height="1.17" fill="#33b27a"/>
<rect x="987.49" y="487" width="7.31" height="1.02" fill="#33b27a"/>
<rect x="1009.42" y="490.58" width="23.39" height="1.75" fill="#33b27a"/>
<rect x="1057.62" y="496.09" width="20.88" height="2.44" fill="#20908c" opacity="0.45"/>
<rect x="1059.12" y="496.69" width="17.88" height="1.24" fill="#79d151"/>
<rect x="1021.08" y="481.3" width="20.54" height="2.19" fill="#219c88" opacity="0.45"/>
<rect x="1022.58" y="481.9" width="17.54" height="0.99" fill="#9bd83c"/>
<rect x="1059.09" y="481.17" width="10.31" height="2.44" fill="#22a784" opacity="0.45"/>
<rect x="1060.59" y="481.77" width="7.31" height="1.24" fill="#bdde26"/>
<rect x="1047.39" y="486.48" width="5.92" height="2.07" fill="#22a784" opacity="0.45"/>
<rect x="1048.89" y="487.08" width="2.92" height="0.87" fill="#bdde26"/>
</g>
<rect x="975" y="470.07" width="101" height="35.09" fill="url(#sp2)" opacity="0.38"/>
<line x1="986.03" y1="491.17" x2="1002.84" y2="473.62" stroke="#24848d" stroke-width="1" stroke-linecap="round"/>
<line x1="996.26" y1="480.93" x2="1002.4" y2="474.35" stroke="#bdde26" stroke-width="1.3" stroke-linecap="round"/>
<line x1="1028.42" y1="483.13" x2="1036.46" y2="473.92" stroke="#219c88" stroke-width="1" stroke-linecap="round"/>
<line x1="1030.62" y1="480.93" x2="1035.73" y2="475.09" stroke="#9bd83c" stroke-width="1.3" stroke-linecap="round"/>
<line x1="1062.05" y1="483.86" x2="1070.09" y2="474.35" stroke="#219c88" stroke-width="1" stroke-linecap="round"/>
<line x1="1064.97" y1="480.93" x2="1067.16" y2="478.3" stroke="#bdde26" stroke-width="1.3" stroke-linecap="round"/>
<line x1="1057.66" y1="488.24" x2="1062.05" y2="483.86" stroke="#29788e" stroke-width="1" stroke-linecap="round"/>
</g>
<g clip-path="url(#c3_8)">
<rect x="1076" y="468.51" width="102" height="34.65" fill="#481b6d" mask="url(#glm)"/>
<line x1="1076" y1="471.43" x2="1179" y2="471.43" stroke="#345e8d" stroke-width="1.17" stroke-dasharray="1.6 1.8"/>
<rect x="1076" y="481.66" width="103" height="1.46" fill="#2e6b8e"/>
<rect x="1076" y="484" width="15.29" height="1.17" fill="#29788e"/>
<rect x="1076" y="468.51" width="102" height="34.65" fill="url(#sp)" mask="url(#glm2)" opacity="0.83"/>
<use href="#h3_8" filter="url(#bl)" opacity="0.48"/>
<g id="h3_8">
<rect x="1076" y="475.96" width="103" height="1.75" fill="#219c88"/>
<rect x="1076" y="490.44" width="103" height="2.05" fill="#22a784"/>
<rect x="1076" y="497.89" width="103" height="1.17" fill="#22a784"/>
<rect x="1102.98" y="486.78" width="46.78" height="1.46" fill="#44be70"/>
<rect x="1120.52" y="490.73" width="29.24" height="1.46" fill="#44be70"/>
<rect x="1104.4" y="497.29" width="32.24" height="2.37" fill="#24848d" opacity="0.45"/>
<rect x="1105.9" y="497.89" width="29.24" height="1.17" fill="#5ec860"/>
<rect x="1130.72" y="486.35" width="19.08" height="2.32" fill="#22a784" opacity="0.45"/>
<rect x="1132.22" y="486.95" width="16.08" height="1.12" fill="#bdde26"/>
</g>
<rect x="1076" y="470.51" width="102" height="34.65" fill="url(#sp2)" opacity="0.38"/>
<line x1="1091.29" y1="487.51" x2="1102.98" y2="474.35" stroke="#24848d" stroke-width="1" stroke-linecap="round"/>
<line x1="1100.06" y1="477.28" x2="1102.98" y2="474.35" stroke="#9bd83c" stroke-width="1.3" stroke-linecap="round"/>
<line x1="1125.64" y1="487.51" x2="1136.6" y2="474.35" stroke="#24848d" stroke-width="1" stroke-linecap="round"/>
<line x1="1133.68" y1="477.28" x2="1136.6" y2="474.35" stroke="#9bd83c" stroke-width="1.3" stroke-linecap="round"/>
<line x1="1165.11" y1="481.66" x2="1170.96" y2="474.79" stroke="#79d151" stroke-width="1.3" stroke-linecap="round"/>
</g>
<g clip-path="url(#c3_9)">
<rect x="1178" y="470.41" width="102" height="32.75" fill="#481c6e" mask="url(#glm)"/>
<line x1="1178" y1="479.47" x2="1281" y2="479.47" stroke="#2e6b8e" stroke-width="1.17" stroke-dasharray="1.6 1.8"/>
<rect x="1193.08" y="494.38" width="87.92" height="2.34" fill="#2e6b8e"/>
<rect x="1231.09" y="486.78" width="49.91" height="1.46" fill="#29788e"/>
<rect x="1250.1" y="498.48" width="30.9" height="1.46" fill="#29788e"/>
<rect x="1178" y="470.41" width="102" height="32.75" fill="url(#sp)" mask="url(#glm2)" opacity="0.91"/>
<use href="#h3_9" filter="url(#bl)" opacity="0.48"/>
<g id="h3_9">
<rect x="1178" y="475.96" width="103" height="1.75" fill="#219c88"/>
<rect x="1267.64" y="489.7" width="13.36" height="1.46" fill="#22a784"/>
<rect x="1178" y="491.75" width="103" height="1.17" fill="#33b27a"/>
<rect x="1197.43" y="489.21" width="24.93" height="2.44" fill="#24848d" opacity="0.45"/>
<rect x="1198.93" y="489.81" width="21.93" height="1.24" fill="#5ec860"/>
<rect x="1176.5" y="486.17" width="56.09" height="2.69" fill="#219c88" opacity="0.45"/>
<rect x="1178" y="486.77" width="53.09" height="1.49" fill="#9bd83c"/>
<rect x="1176.5" y="495.31" width="18.08" height="1.95" fill="#219c88" opacity="0.45"/>
<rect x="1178" y="495.91" width="15.08" height="0.75" fill="#9bd83c"/>
<rect x="1236.9" y="491.24" width="17.62" height="2.19" fill="#22a784" opacity="0.45"/>
<rect x="1238.4" y="491.84" width="14.62" height="0.99" fill="#bdde26"/>
<rect x="1188.66" y="482.38" width="93.84" height="2.07" fill="#33b27a" opacity="0.45"/>
<rect x="1190.16" y="482.98" width="90.84" height="0.87" fill="#dde225"/>
</g>
<rect x="1178" y="472.41" width="102" height="32.75" fill="url(#sp2)" opacity="0.38"/>
<line x1="1198.93" y1="482.4" x2="1202.58" y2="478.3" stroke="#22a784" stroke-width="1" stroke-linecap="round"/>
<line x1="1232.55" y1="482.4" x2="1235.48" y2="478.74" stroke="#44be70" stroke-width="1" stroke-linecap="round"/>
<line x1="1264.71" y1="483.13" x2="1269.1" y2="478.74" stroke="#22a784" stroke-width="1" stroke-linecap="round"/>
</g>
<g clip-path="url(#c3_10)">
<rect x="1280" y="470.99" width="101" height="32.16" fill="#481b6d" mask="url(#glm)"/>
<rect x="1330.5" y="471.72" width="7.31" height="0.88" fill="#345e8d"/>
<rect x="1280" y="479.62" width="102" height="1.17" fill="#345e8d"/>
<rect x="1314.42" y="499.21" width="67.58" height="1.46" fill="#2e6b8e"/>
<rect x="1280" y="495.11" width="28.57" height="2.34" fill="#29788e"/>
<rect x="1342.2" y="482.98" width="39.8" height="1.17" fill="#20908c"/>
<rect x="1280" y="470.99" width="101" height="32.16" fill="url(#sp)" mask="url(#glm2)" opacity="0.83"/>
<use href="#h3_10" filter="url(#bl)" opacity="0.48"/>
<g id="h3_10">
<rect x="1280" y="475.67" width="102" height="1.75" fill="#219c88"/>
<rect x="1291.03" y="487.66" width="90.97" height="1.17" fill="#22a784"/>
<rect x="1280" y="482.98" width="18.34" height="1.17" fill="#33b27a"/>
<rect x="1296.84" y="487.06" width="26.39" height="2.37" fill="#24848d" opacity="0.45"/>
<rect x="1298.34" y="487.66" width="23.39" height="1.17" fill="#5ec860"/>
<rect x="1321.69" y="492.17" width="61.81" height="3.25" fill="#24848d" opacity="0.45"/>
<rect x="1323.19" y="492.77" width="58.81" height="2.05" fill="#5ec860"/>
<rect x="1329" y="488.61" width="32.24" height="2.19" fill="#219c88" opacity="0.45"/>
<rect x="1330.5" y="489.21" width="29.24" height="0.99" fill="#9bd83c"/>
<rect x="1330.46" y="492.58" width="13.23" height="2.44" fill="#33b27a" opacity="0.45"/>
<rect x="1331.96" y="493.18" width="10.23" height="1.24" fill="#dde225"/>
<rect x="1350.93" y="492.58" width="32.57" height="2.44" fill="#33b27a" opacity="0.45"/>
<rect x="1352.43" y="493.18" width="29.57" height="1.24" fill="#dde225"/>
</g>
<rect x="1280" y="472.99" width="101" height="32.16" fill="url(#sp2)" opacity="0.38"/>
<line x1="1296.15" y1="486.05" x2="1301.99" y2="480.2" stroke="#5ec860" stroke-width="1.3" stroke-linecap="round"/>
<line x1="1329.04" y1="487.51" x2="1335.62" y2="480.93" stroke="#22a784" stroke-width="1" stroke-linecap="round"/>
<line x1="1362.66" y1="488.24" x2="1369.97" y2="480.93" stroke="#22a784" stroke-width="1" stroke-linecap="round"/>
</g>
<g clip-path="url(#c3_11)">
<rect x="1381" y="472.45" width="102" height="30.7" fill="#481b6d" mask="url(#glm)"/>
<rect x="1381" y="499.35" width="103" height="1.17" fill="#345e8d"/>
<rect x="1381" y="475.67" width="103" height="1.75" fill="#29788e"/>
<rect x="1466.46" y="484.15" width="17.54" height="2.34" fill="#29788e"/>
<rect x="1381" y="494.82" width="53.3" height="2.92" fill="#29788e" opacity="0.6"/>
<rect x="1381" y="489.85" width="44.52" height="1.17" fill="#20908c"/>
<rect x="1381" y="472.45" width="102" height="30.7" fill="url(#sp)" mask="url(#glm2)" opacity="0.83"/>
<use href="#h3_11" filter="url(#bl)" opacity="0.48"/>
<g id="h3_11">
<rect x="1434.3" y="494.38" width="29.97" height="1.75" fill="#22a784"/>
<rect x="1381" y="482.98" width="43.06" height="1.17" fill="#33b27a"/>
<rect x="1463.53" y="489.7" width="20.47" height="1.46" fill="#33b27a"/>
<rect x="1425.49" y="489.34" width="10.31" height="2.19" fill="#22a784" opacity="0.45"/>
<rect x="1426.99" y="489.94" width="7.31" height="0.99" fill="#bdde26"/>
<rect x="1379.5" y="486.79" width="47.52" height="2.32" fill="#33b27a" opacity="0.45"/>
<rect x="1381" y="487.39" width="44.52" height="1.12" fill="#dde225"/>
<rect x="1462.76" y="494.04" width="22.74" height="2.44" fill="#33b27a" opacity="0.45"/>
<rect x="1464.26" y="494.64" width="19.74" height="1.24" fill="#dde225"/>
</g>
<rect x="1381" y="474.45" width="102" height="30.7" fill="url(#sp2)" opacity="0.38"/>
<line x1="1397.75" y1="484.59" x2="1401.4" y2="481.66" stroke="#79d151" stroke-width="1.3" stroke-linecap="round"/>
<line x1="1432.1" y1="485.03" x2="1435.03" y2="482.1" stroke="#44be70" stroke-width="1" stroke-linecap="round"/>
<line x1="1467.19" y1="484.59" x2="1469.38" y2="482.4" stroke="#44be70" stroke-width="1" stroke-linecap="round"/>
</g>
<g clip-path="url(#c3_12)">
<rect x="1483" y="473.92" width="102" height="29.24" fill="#481b6d" mask="url(#glm)"/>
<rect x="1483" y="479.76" width="103" height="0.88" fill="#345e8d"/>
<rect x="1483" y="498.33" width="58.81" height="1.75" fill="#345e8d"/>
<rect x="1483" y="485.76" width="44.19" height="2.05" fill="#2e6b8e"/>
<rect x="1483" y="495.55" width="44.19" height="1.46" fill="#2e6b8e"/>
<rect x="1483" y="475.82" width="103" height="1.46" fill="#29788e"/>
<rect x="1483" y="473.92" width="102" height="29.24" fill="url(#sp)" mask="url(#glm2)" opacity="0.83"/>
<use href="#h3_12" filter="url(#bl)" opacity="0.48"/>
<g id="h3_12">
<rect x="1516.96" y="475.82" width="11.7" height="1.46" fill="#219c88"/>
<rect x="1530.11" y="486.34" width="55.89" height="1.46" fill="#219c88"/>
<rect x="1502.34" y="490.29" width="83.66" height="1.75" fill="#33b27a"/>
<rect x="1527.15" y="493.04" width="49.78" height="2.69" fill="#24848d" opacity="0.45"/>
<rect x="1528.65" y="493.64" width="46.78" height="1.49" fill="#5ec860"/>
<rect x="1534.46" y="489.95" width="53.04" height="2.44" fill="#20908c" opacity="0.45"/>
<rect x="1535.96" y="490.55" width="50.04" height="1.24" fill="#79d151"/>
<rect x="1552.74" y="485.98" width="5.19" height="2.19" fill="#22a784" opacity="0.45"/>
<rect x="1554.24" y="486.58" width="2.19" height="0.99" fill="#bdde26"/>
<rect x="1564.43" y="485.98" width="5.19" height="2.19" fill="#22a784" opacity="0.45"/>
<rect x="1565.93" y="486.58" width="2.19" height="0.99" fill="#bdde26"/>
<rect x="1562.24" y="493.22" width="10.31" height="2.32" fill="#33b27a" opacity="0.45"/>
<rect x="1563.74" y="493.82" width="7.31" height="1.12" fill="#dde225"/>
<rect x="1538.85" y="490.01" width="6.65" height="2.32" fill="#3ab776" opacity="0.45"/>
<rect x="1540.35" y="490.61" width="3.65" height="1.12" fill="#eae425"/>
<rect x="1556.39" y="490.01" width="6.65" height="2.32" fill="#3ab776" opacity="0.45"/>
<rect x="1557.89" y="490.61" width="3.65" height="1.12" fill="#eae425"/>
<rect x="1566.62" y="490.01" width="5.92" height="2.32" fill="#3ab776" opacity="0.45"/>
<rect x="1568.12" y="490.61" width="2.92" height="1.12" fill="#eae425"/>
<rect x="1579.78" y="490.01" width="7.72" height="2.32" fill="#3ab776" opacity="0.45"/>
<rect x="1581.28" y="490.61" width="4.72" height="1.12" fill="#eae425"/>
</g>
<rect x="1483" y="475.92" width="102" height="29.24" fill="url(#sp2)" opacity="0.38"/>
<line x1="1498.68" y1="487.51" x2="1501.61" y2="484.59" stroke="#bdde26" stroke-width="1.3" stroke-linecap="round"/>
<line x1="1532.31" y1="487.51" x2="1534.5" y2="485.32" stroke="#bdde26" stroke-width="1.3" stroke-linecap="round"/>
<line x1="1565.93" y1="487.51" x2="1568.12" y2="485.32" stroke="#79d151" stroke-width="1.3" stroke-linecap="round"/>
</g>
<g clip-path="url(#c3_13)">
<rect x="1585" y="474.79" width="102" height="28.36" fill="#481d6f" mask="url(#glm)"/>
<rect x="1585" y="499.94" width="103" height="1.46" fill="#2e6b8e"/>
<line x1="1603.21" y1="477.28" x2="1638.3" y2="477.28" stroke="#29788e" stroke-width="0.88" stroke-dasharray="1.6 1.8"/>
<line x1="1585" y1="480.64" x2="1666.07" y2="480.64" stroke="#29788e" stroke-width="1.17" stroke-dasharray="1.6 1.8"/>
<rect x="1585" y="484.44" width="103" height="2.34" fill="#29788e"/>
<rect x="1585" y="494.53" width="37.21" height="2.05" fill="#29788e"/>
<rect x="1585" y="474.79" width="102" height="28.36" fill="url(#sp)" mask="url(#glm2)" opacity="1"/>
<use href="#h3_13" filter="url(#bl)" opacity="0.48"/>
<g id="h3_13">
<rect x="1638.3" y="486.78" width="20.47" height="4.39" fill="#219c88" opacity="0.6"/>
<rect x="1583.5" y="488.19" width="54.83" height="2.44" fill="#24848d" opacity="0.45"/>
<rect x="1585" y="488.79" width="51.83" height="1.24" fill="#5ec860"/>
<rect x="1583.5" y="496.84" width="106" height="2.69" fill="#24848d" opacity="0.45"/>
<rect x="1585" y="497.44" width="103" height="1.49" fill="#5ec860"/>
<rect x="1620.71" y="492.43" width="62.94" height="2.44" fill="#219c88" opacity="0.45"/>
<rect x="1622.21" y="493.03" width="59.94" height="1.24" fill="#9bd83c"/>
<rect x="1600.25" y="496.96" width="30.78" height="2.44" fill="#22a784" opacity="0.45"/>
<rect x="1601.75" y="497.56" width="27.78" height="1.24" fill="#bdde26"/>
<rect x="1583.5" y="488.25" width="15.36" height="2.32" fill="#33b27a" opacity="0.45"/>
<rect x="1585" y="488.85" width="12.36" height="1.12" fill="#dde225"/>
<rect x="1628.02" y="488.25" width="8.85" height="2.32" fill="#33b27a" opacity="0.45"/>
<rect x="1629.52" y="488.85" width="5.85" height="1.12" fill="#dde225"/>
<rect x="1635.33" y="492.49" width="14.7" height="2.32" fill="#3ab776" opacity="0.45"/>
<rect x="1636.83" y="493.09" width="11.7" height="1.12" fill="#eae425"/>
<rect x="1661.65" y="492.49" width="13.23" height="2.32" fill="#3ab776" opacity="0.45"/>
<rect x="1663.15" y="493.09" width="10.23" height="1.12" fill="#eae425"/>
</g>
<rect x="1585" y="476.79" width="102" height="28.36" fill="url(#sp2)" opacity="0.38"/>
<line x1="1599.55" y1="488.24" x2="1601.75" y2="485.61" stroke="#79d151" stroke-width="1.3" stroke-linecap="round"/>
<line x1="1648.53" y1="487.51" x2="1651.45" y2="483.86" stroke="#20908c" stroke-width="1" stroke-linecap="round"/>
</g>
</g>
<g class="ax sp">
<line x1="263.5" y1="96.5" x2="263.5" y2="191.5"/>
<line x1="364.5" y1="96.5" x2="364.5" y2="191.5"/>
<line x1="466.5" y1="96.5" x2="466.5" y2="191.5"/>
<line x1="568.5" y1="96.5" x2="568.5" y2="191.5"/>
<line x1="669.5" y1="96.5" x2="669.5" y2="191.5"/>
<line x1="771.5" y1="96.5" x2="771.5" y2="191.5"/>
<line x1="873.5" y1="96.5" x2="873.5" y2="191.5"/>
<line x1="975.5" y1="96.5" x2="975.5" y2="191.5"/>
<line x1="1076.5" y1="96.5" x2="1076.5" y2="191.5"/>
<line x1="1178.5" y1="96.5" x2="1178.5" y2="191.5"/>
<line x1="1280.5" y1="96.5" x2="1280.5" y2="191.5"/>
<line x1="1381.5" y1="96.5" x2="1381.5" y2="191.5"/>
<line x1="1483.5" y1="96.5" x2="1483.5" y2="191.5"/>
<line x1="1585.5" y1="96.5" x2="1585.5" y2="191.5"/>
<line x1="1687.5" y1="96.5" x2="1687.5" y2="191.5"/>
<line x1="1788.5" y1="96.5" x2="1788.5" y2="191.5"/>
<line x1="1890.5" y1="96.5" x2="1890.5" y2="191.5"/>
<line x1="974.5" y1="96.5" x2="974.5" y2="191.5"/>
<line x1="263.5" y1="96.5" x2="1890.5" y2="96.5"/>
<line x1="263.5" y1="191.5" x2="1890.5" y2="191.5"/>
<line x1="263.5" y1="200.5" x2="263.5" y2="295.5"/>
<line x1="364.5" y1="200.5" x2="364.5" y2="295.5"/>
<line x1="466.5" y1="200.5" x2="466.5" y2="295.5"/>
<line x1="568.5" y1="200.5" x2="568.5" y2="295.5"/>
<line x1="669.5" y1="200.5" x2="669.5" y2="295.5"/>
<line x1="771.5" y1="200.5" x2="771.5" y2="295.5"/>
<line x1="873.5" y1="200.5" x2="873.5" y2="295.5"/>
<line x1="975.5" y1="200.5" x2="975.5" y2="295.5"/>
<line x1="1076.5" y1="200.5" x2="1076.5" y2="295.5"/>
<line x1="1178.5" y1="200.5" x2="1178.5" y2="295.5"/>
<line x1="1280.5" y1="200.5" x2="1280.5" y2="295.5"/>
<line x1="1381.5" y1="200.5" x2="1381.5" y2="295.5"/>
<line x1="1483.5" y1="200.5" x2="1483.5" y2="295.5"/>
<line x1="1585.5" y1="200.5" x2="1585.5" y2="295.5"/>
<line x1="1687.5" y1="200.5" x2="1687.5" y2="295.5"/>
<line x1="1788.5" y1="200.5" x2="1788.5" y2="295.5"/>
<line x1="1890.5" y1="200.5" x2="1890.5" y2="295.5"/>
<line x1="974.5" y1="200.5" x2="974.5" y2="295.5"/>
<line x1="263.5" y1="200.5" x2="1890.5" y2="200.5"/>
<line x1="263.5" y1="295.5" x2="1890.5" y2="295.5"/>
<line x1="263.5" y1="304.5" x2="263.5" y2="399.5"/>
<line x1="364.5" y1="304.5" x2="364.5" y2="399.5"/>
<line x1="466.5" y1="304.5" x2="466.5" y2="399.5"/>
<line x1="568.5" y1="304.5" x2="568.5" y2="399.5"/>
<line x1="669.5" y1="304.5" x2="669.5" y2="399.5"/>
<line x1="771.5" y1="304.5" x2="771.5" y2="399.5"/>
<line x1="873.5" y1="304.5" x2="873.5" y2="399.5"/>
<line x1="975.5" y1="304.5" x2="975.5" y2="399.5"/>
<line x1="1076.5" y1="304.5" x2="1076.5" y2="399.5"/>
<line x1="1178.5" y1="304.5" x2="1178.5" y2="399.5"/>
<line x1="1280.5" y1="304.5" x2="1280.5" y2="399.5"/>
<line x1="1381.5" y1="304.5" x2="1381.5" y2="399.5"/>
<line x1="1483.5" y1="304.5" x2="1483.5" y2="399.5"/>
<line x1="1585.5" y1="304.5" x2="1585.5" y2="399.5"/>
<line x1="1687.5" y1="304.5" x2="1687.5" y2="399.5"/>
<line x1="1788.5" y1="304.5" x2="1788.5" y2="399.5"/>
<line x1="1890.5" y1="304.5" x2="1890.5" y2="399.5"/>
<line x1="974.5" y1="304.5" x2="974.5" y2="399.5"/>
<line x1="263.5" y1="304.5" x2="1890.5" y2="304.5"/>
<line x1="263.5" y1="399.5" x2="1890.5" y2="399.5"/>
<line x1="263.5" y1="409.5" x2="263.5" y2="504.5"/>
<line x1="364.5" y1="409.5" x2="364.5" y2="504.5"/>
<line x1="466.5" y1="409.5" x2="466.5" y2="504.5"/>
<line x1="568.5" y1="409.5" x2="568.5" y2="504.5"/>
<line x1="669.5" y1="409.5" x2="669.5" y2="504.5"/>
<line x1="771.5" y1="409.5" x2="771.5" y2="504.5"/>
<line x1="873.5" y1="409.5" x2="873.5" y2="504.5"/>
<line x1="975.5" y1="409.5" x2="975.5" y2="504.5"/>
<line x1="1076.5" y1="409.5" x2="1076.5" y2="504.5"/>
<line x1="1178.5" y1="409.5" x2="1178.5" y2="504.5"/>
<line x1="1280.5" y1="409.5" x2="1280.5" y2="504.5"/>
<line x1="1381.5" y1="409.5" x2="1381.5" y2="504.5"/>
<line x1="1483.5" y1="409.5" x2="1483.5" y2="504.5"/>
<line x1="1585.5" y1="409.5" x2="1585.5" y2="504.5"/>
<line x1="1687.5" y1="409.5" x2="1687.5" y2="504.5"/>
<line x1="1788.5" y1="409.5" x2="1788.5" y2="504.5"/>
<line x1="1890.5" y1="409.5" x2="1890.5" y2="504.5"/>
<line x1="974.5" y1="409.5" x2="974.5" y2="504.5"/>
<line x1="263.5" y1="409.5" x2="1890.5" y2="409.5"/>
<line x1="263.5" y1="504.5" x2="1890.5" y2="504.5"/>
<line x1="263.5" y1="513.5" x2="263.5" y2="608.5"/>
<line x1="364.5" y1="513.5" x2="364.5" y2="608.5"/>
<line x1="466.5" y1="513.5" x2="466.5" y2="608.5"/>
<line x1="568.5" y1="513.5" x2="568.5" y2="608.5"/>
<line x1="669.5" y1="513.5" x2="669.5" y2="608.5"/>
<line x1="771.5" y1="513.5" x2="771.5" y2="608.5"/>
<line x1="873.5" y1="513.5" x2="873.5" y2="608.5"/>
<line x1="975.5" y1="513.5" x2="975.5" y2="608.5"/>
<line x1="1076.5" y1="513.5" x2="1076.5" y2="608.5"/>
<line x1="1178.5" y1="513.5" x2="1178.5" y2="608.5"/>
<line x1="1280.5" y1="513.5" x2="1280.5" y2="608.5"/>
<line x1="1381.5" y1="513.5" x2="1381.5" y2="608.5"/>
<line x1="1483.5" y1="513.5" x2="1483.5" y2="608.5"/>
<line x1="1585.5" y1="513.5" x2="1585.5" y2="608.5"/>
<line x1="1687.5" y1="513.5" x2="1687.5" y2="608.5"/>
<line x1="1788.5" y1="513.5" x2="1788.5" y2="608.5"/>
<line x1="1890.5" y1="513.5" x2="1890.5" y2="608.5"/>
<line x1="974.5" y1="513.5" x2="974.5" y2="608.5"/>
<line x1="263.5" y1="513.5" x2="1890.5" y2="513.5"/>
<line x1="263.5" y1="608.5" x2="1890.5" y2="608.5"/>
<line x1="263.5" y1="617.5" x2="263.5" y2="712.5"/>
<line x1="364.5" y1="617.5" x2="364.5" y2="712.5"/>
<line x1="466.5" y1="617.5" x2="466.5" y2="712.5"/>
<line x1="568.5" y1="617.5" x2="568.5" y2="712.5"/>
<line x1="669.5" y1="617.5" x2="669.5" y2="712.5"/>
<line x1="771.5" y1="617.5" x2="771.5" y2="712.5"/>
<line x1="873.5" y1="617.5" x2="873.5" y2="712.5"/>
<line x1="975.5" y1="617.5" x2="975.5" y2="712.5"/>
<line x1="1076.5" y1="617.5" x2="1076.5" y2="712.5"/>
<line x1="1178.5" y1="617.5" x2="1178.5" y2="712.5"/>
<line x1="1280.5" y1="617.5" x2="1280.5" y2="712.5"/>
<line x1="1381.5" y1="617.5" x2="1381.5" y2="712.5"/>
<line x1="1483.5" y1="617.5" x2="1483.5" y2="712.5"/>
<line x1="1585.5" y1="617.5" x2="1585.5" y2="712.5"/>
<line x1="1687.5" y1="617.5" x2="1687.5" y2="712.5"/>
<line x1="1788.5" y1="617.5" x2="1788.5" y2="712.5"/>
<line x1="1890.5" y1="617.5" x2="1890.5" y2="712.5"/>
<line x1="974.5" y1="617.5" x2="974.5" y2="712.5"/>
<line x1="263.5" y1="617.5" x2="1890.5" y2="617.5"/>
<line x1="263.5" y1="712.5" x2="1890.5" y2="712.5"/>
</g>
<g class="ax">
<line x1="258.64" y1="105.5" x2="263.5" y2="105.5"/>
<line x1="359.64" y1="105.5" x2="364.5" y2="105.5"/>
<line x1="461.64" y1="105.5" x2="466.5" y2="105.5"/>
<line x1="563.64" y1="105.5" x2="568.5" y2="105.5"/>
<line x1="664.64" y1="105.5" x2="669.5" y2="105.5"/>
<line x1="766.64" y1="105.5" x2="771.5" y2="105.5"/>
<line x1="868.64" y1="105.5" x2="873.5" y2="105.5"/>
<line x1="970.64" y1="105.5" x2="975.5" y2="105.5"/>
<line x1="1071.64" y1="105.5" x2="1076.5" y2="105.5"/>
<line x1="1173.64" y1="105.5" x2="1178.5" y2="105.5"/>
<line x1="1275.64" y1="105.5" x2="1280.5" y2="105.5"/>
<line x1="1376.64" y1="105.5" x2="1381.5" y2="105.5"/>
<line x1="1478.64" y1="105.5" x2="1483.5" y2="105.5"/>
<line x1="1580.64" y1="105.5" x2="1585.5" y2="105.5"/>
<line x1="1682.64" y1="105.5" x2="1687.5" y2="105.5"/>
<line x1="1783.64" y1="105.5" x2="1788.5" y2="105.5"/>
<line x1="258.64" y1="138.5" x2="263.5" y2="138.5"/>
<line x1="359.64" y1="138.5" x2="364.5" y2="138.5"/>
<line x1="461.64" y1="138.5" x2="466.5" y2="138.5"/>
<line x1="563.64" y1="138.5" x2="568.5" y2="138.5"/>
<line x1="664.64" y1="138.5" x2="669.5" y2="138.5"/>
<line x1="766.64" y1="138.5" x2="771.5" y2="138.5"/>
<line x1="868.64" y1="138.5" x2="873.5" y2="138.5"/>
<line x1="970.64" y1="138.5" x2="975.5" y2="138.5"/>
<line x1="1071.64" y1="138.5" x2="1076.5" y2="138.5"/>
<line x1="1173.64" y1="138.5" x2="1178.5" y2="138.5"/>
<line x1="1275.64" y1="138.5" x2="1280.5" y2="138.5"/>
<line x1="1376.64" y1="138.5" x2="1381.5" y2="138.5"/>
<line x1="1478.64" y1="138.5" x2="1483.5" y2="138.5"/>
<line x1="1580.64" y1="138.5" x2="1585.5" y2="138.5"/>
<line x1="1682.64" y1="138.5" x2="1687.5" y2="138.5"/>
<line x1="1783.64" y1="138.5" x2="1788.5" y2="138.5"/>
<line x1="258.64" y1="171.5" x2="263.5" y2="171.5"/>
<line x1="359.64" y1="171.5" x2="364.5" y2="171.5"/>
<line x1="461.64" y1="171.5" x2="466.5" y2="171.5"/>
<line x1="563.64" y1="171.5" x2="568.5" y2="171.5"/>
<line x1="664.64" y1="171.5" x2="669.5" y2="171.5"/>
<line x1="766.64" y1="171.5" x2="771.5" y2="171.5"/>
<line x1="868.64" y1="171.5" x2="873.5" y2="171.5"/>
<line x1="970.64" y1="171.5" x2="975.5" y2="171.5"/>
<line x1="1071.64" y1="171.5" x2="1076.5" y2="171.5"/>
<line x1="1173.64" y1="171.5" x2="1178.5" y2="171.5"/>
<line x1="1275.64" y1="171.5" x2="1280.5" y2="171.5"/>
<line x1="1376.64" y1="171.5" x2="1381.5" y2="171.5"/>
<line x1="1478.64" y1="171.5" x2="1483.5" y2="171.5"/>
<line x1="1580.64" y1="171.5" x2="1585.5" y2="171.5"/>
<line x1="1682.64" y1="171.5" x2="1687.5" y2="171.5"/>
<line x1="1783.64" y1="171.5" x2="1788.5" y2="171.5"/>
<line x1="258.64" y1="209.5" x2="263.5" y2="209.5"/>
<line x1="359.64" y1="209.5" x2="364.5" y2="209.5"/>
<line x1="461.64" y1="209.5" x2="466.5" y2="209.5"/>
<line x1="563.64" y1="209.5" x2="568.5" y2="209.5"/>
<line x1="664.64" y1="209.5" x2="669.5" y2="209.5"/>
<line x1="766.64" y1="209.5" x2="771.5" y2="209.5"/>
<line x1="868.64" y1="209.5" x2="873.5" y2="209.5"/>
<line x1="970.64" y1="209.5" x2="975.5" y2="209.5"/>
<line x1="1071.64" y1="209.5" x2="1076.5" y2="209.5"/>
<line x1="1173.64" y1="209.5" x2="1178.5" y2="209.5"/>
<line x1="1275.64" y1="209.5" x2="1280.5" y2="209.5"/>
<line x1="1376.64" y1="209.5" x2="1381.5" y2="209.5"/>
<line x1="1478.64" y1="209.5" x2="1483.5" y2="209.5"/>
<line x1="1580.64" y1="209.5" x2="1585.5" y2="209.5"/>
<line x1="1682.64" y1="209.5" x2="1687.5" y2="209.5"/>
<line x1="1783.64" y1="209.5" x2="1788.5" y2="209.5"/>
<line x1="258.64" y1="242.5" x2="263.5" y2="242.5"/>
<line x1="359.64" y1="242.5" x2="364.5" y2="242.5"/>
<line x1="461.64" y1="242.5" x2="466.5" y2="242.5"/>
<line x1="563.64" y1="242.5" x2="568.5" y2="242.5"/>
<line x1="664.64" y1="242.5" x2="669.5" y2="242.5"/>
<line x1="766.64" y1="242.5" x2="771.5" y2="242.5"/>
<line x1="868.64" y1="242.5" x2="873.5" y2="242.5"/>
<line x1="970.64" y1="242.5" x2="975.5" y2="242.5"/>
<line x1="1071.64" y1="242.5" x2="1076.5" y2="242.5"/>
<line x1="1173.64" y1="242.5" x2="1178.5" y2="242.5"/>
<line x1="1275.64" y1="242.5" x2="1280.5" y2="242.5"/>
<line x1="1376.64" y1="242.5" x2="1381.5" y2="242.5"/>
<line x1="1478.64" y1="242.5" x2="1483.5" y2="242.5"/>
<line x1="1580.64" y1="242.5" x2="1585.5" y2="242.5"/>
<line x1="1682.64" y1="242.5" x2="1687.5" y2="242.5"/>
<line x1="1783.64" y1="242.5" x2="1788.5" y2="242.5"/>
<line x1="258.64" y1="275.5" x2="263.5" y2="275.5"/>
<line x1="359.64" y1="275.5" x2="364.5" y2="275.5"/>
<line x1="461.64" y1="275.5" x2="466.5" y2="275.5"/>
<line x1="563.64" y1="275.5" x2="568.5" y2="275.5"/>
<line x1="664.64" y1="275.5" x2="669.5" y2="275.5"/>
<line x1="766.64" y1="275.5" x2="771.5" y2="275.5"/>
<line x1="868.64" y1="275.5" x2="873.5" y2="275.5"/>
<line x1="970.64" y1="275.5" x2="975.5" y2="275.5"/>
<line x1="1071.64" y1="275.5" x2="1076.5" y2="275.5"/>
<line x1="1173.64" y1="275.5" x2="1178.5" y2="275.5"/>
<line x1="1275.64" y1="275.5" x2="1280.5" y2="275.5"/>
<line x1="1376.64" y1="275.5" x2="1381.5" y2="275.5"/>
<line x1="1478.64" y1="275.5" x2="1483.5" y2="275.5"/>
<line x1="1580.64" y1="275.5" x2="1585.5" y2="275.5"/>
<line x1="1682.64" y1="275.5" x2="1687.5" y2="275.5"/>
<line x1="1783.64" y1="275.5" x2="1788.5" y2="275.5"/>
<line x1="258.64" y1="314.5" x2="263.5" y2="314.5"/>
<line x1="359.64" y1="314.5" x2="364.5" y2="314.5"/>
<line x1="461.64" y1="314.5" x2="466.5" y2="314.5"/>
<line x1="563.64" y1="314.5" x2="568.5" y2="314.5"/>
<line x1="664.64" y1="314.5" x2="669.5" y2="314.5"/>
<line x1="766.64" y1="314.5" x2="771.5" y2="314.5"/>
<line x1="868.64" y1="314.5" x2="873.5" y2="314.5"/>
<line x1="970.64" y1="314.5" x2="975.5" y2="314.5"/>
<line x1="1071.64" y1="314.5" x2="1076.5" y2="314.5"/>
<line x1="1173.64" y1="314.5" x2="1178.5" y2="314.5"/>
<line x1="1275.64" y1="314.5" x2="1280.5" y2="314.5"/>
<line x1="1376.64" y1="314.5" x2="1381.5" y2="314.5"/>
<line x1="1478.64" y1="314.5" x2="1483.5" y2="314.5"/>
<line x1="1580.64" y1="314.5" x2="1585.5" y2="314.5"/>
<line x1="1682.64" y1="314.5" x2="1687.5" y2="314.5"/>
<line x1="1783.64" y1="314.5" x2="1788.5" y2="314.5"/>
<line x1="258.64" y1="347.5" x2="263.5" y2="347.5"/>
<line x1="359.64" y1="347.5" x2="364.5" y2="347.5"/>
<line x1="461.64" y1="347.5" x2="466.5" y2="347.5"/>
<line x1="563.64" y1="347.5" x2="568.5" y2="347.5"/>
<line x1="664.64" y1="347.5" x2="669.5" y2="347.5"/>
<line x1="766.64" y1="347.5" x2="771.5" y2="347.5"/>
<line x1="868.64" y1="347.5" x2="873.5" y2="347.5"/>
<line x1="970.64" y1="347.5" x2="975.5" y2="347.5"/>
<line x1="1071.64" y1="347.5" x2="1076.5" y2="347.5"/>
<line x1="1173.64" y1="347.5" x2="1178.5" y2="347.5"/>
<line x1="1275.64" y1="347.5" x2="1280.5" y2="347.5"/>
<line x1="1376.64" y1="347.5" x2="1381.5" y2="347.5"/>
<line x1="1478.64" y1="347.5" x2="1483.5" y2="347.5"/>
<line x1="1580.64" y1="347.5" x2="1585.5" y2="347.5"/>
<line x1="1682.64" y1="347.5" x2="1687.5" y2="347.5"/>
<line x1="1783.64" y1="347.5" x2="1788.5" y2="347.5"/>
<line x1="258.64" y1="379.5" x2="263.5" y2="379.5"/>
<line x1="359.64" y1="379.5" x2="364.5" y2="379.5"/>
<line x1="461.64" y1="379.5" x2="466.5" y2="379.5"/>
<line x1="563.64" y1="379.5" x2="568.5" y2="379.5"/>
<line x1="664.64" y1="379.5" x2="669.5" y2="379.5"/>
<line x1="766.64" y1="379.5" x2="771.5" y2="379.5"/>
<line x1="868.64" y1="379.5" x2="873.5" y2="379.5"/>
<line x1="970.64" y1="379.5" x2="975.5" y2="379.5"/>
<line x1="1071.64" y1="379.5" x2="1076.5" y2="379.5"/>
<line x1="1173.64" y1="379.5" x2="1178.5" y2="379.5"/>
<line x1="1275.64" y1="379.5" x2="1280.5" y2="379.5"/>
<line x1="1376.64" y1="379.5" x2="1381.5" y2="379.5"/>
<line x1="1478.64" y1="379.5" x2="1483.5" y2="379.5"/>
<line x1="1580.64" y1="379.5" x2="1585.5" y2="379.5"/>
<line x1="1682.64" y1="379.5" x2="1687.5" y2="379.5"/>
<line x1="1783.64" y1="379.5" x2="1788.5" y2="379.5"/>
<line x1="258.64" y1="418.5" x2="263.5" y2="418.5"/>
<line x1="359.64" y1="418.5" x2="364.5" y2="418.5"/>
<line x1="461.64" y1="418.5" x2="466.5" y2="418.5"/>
<line x1="563.64" y1="418.5" x2="568.5" y2="418.5"/>
<line x1="664.64" y1="418.5" x2="669.5" y2="418.5"/>
<line x1="766.64" y1="418.5" x2="771.5" y2="418.5"/>
<line x1="868.64" y1="418.5" x2="873.5" y2="418.5"/>
<line x1="970.64" y1="418.5" x2="975.5" y2="418.5"/>
<line x1="1071.64" y1="418.5" x2="1076.5" y2="418.5"/>
<line x1="1173.64" y1="418.5" x2="1178.5" y2="418.5"/>
<line x1="1275.64" y1="418.5" x2="1280.5" y2="418.5"/>
<line x1="1376.64" y1="418.5" x2="1381.5" y2="418.5"/>
<line x1="1478.64" y1="418.5" x2="1483.5" y2="418.5"/>
<line x1="1580.64" y1="418.5" x2="1585.5" y2="418.5"/>
<line x1="1682.64" y1="418.5" x2="1687.5" y2="418.5"/>
<line x1="1783.64" y1="418.5" x2="1788.5" y2="418.5"/>
<line x1="258.64" y1="451.5" x2="263.5" y2="451.5"/>
<line x1="359.64" y1="451.5" x2="364.5" y2="451.5"/>
<line x1="461.64" y1="451.5" x2="466.5" y2="451.5"/>
<line x1="563.64" y1="451.5" x2="568.5" y2="451.5"/>
<line x1="664.64" y1="451.5" x2="669.5" y2="451.5"/>
<line x1="766.64" y1="451.5" x2="771.5" y2="451.5"/>
<line x1="868.64" y1="451.5" x2="873.5" y2="451.5"/>
<line x1="970.64" y1="451.5" x2="975.5" y2="451.5"/>
<line x1="1071.64" y1="451.5" x2="1076.5" y2="451.5"/>
<line x1="1173.64" y1="451.5" x2="1178.5" y2="451.5"/>
<line x1="1275.64" y1="451.5" x2="1280.5" y2="451.5"/>
<line x1="1376.64" y1="451.5" x2="1381.5" y2="451.5"/>
<line x1="1478.64" y1="451.5" x2="1483.5" y2="451.5"/>
<line x1="1580.64" y1="451.5" x2="1585.5" y2="451.5"/>
<line x1="1682.64" y1="451.5" x2="1687.5" y2="451.5"/>
<line x1="1783.64" y1="451.5" x2="1788.5" y2="451.5"/>
<line x1="258.64" y1="484.5" x2="263.5" y2="484.5"/>
<line x1="359.64" y1="484.5" x2="364.5" y2="484.5"/>
<line x1="461.64" y1="484.5" x2="466.5" y2="484.5"/>
<line x1="563.64" y1="484.5" x2="568.5" y2="484.5"/>
<line x1="664.64" y1="484.5" x2="669.5" y2="484.5"/>
<line x1="766.64" y1="484.5" x2="771.5" y2="484.5"/>
<line x1="868.64" y1="484.5" x2="873.5" y2="484.5"/>
<line x1="970.64" y1="484.5" x2="975.5" y2="484.5"/>
<line x1="1071.64" y1="484.5" x2="1076.5" y2="484.5"/>
<line x1="1173.64" y1="484.5" x2="1178.5" y2="484.5"/>
<line x1="1275.64" y1="484.5" x2="1280.5" y2="484.5"/>
<line x1="1376.64" y1="484.5" x2="1381.5" y2="484.5"/>
<line x1="1478.64" y1="484.5" x2="1483.5" y2="484.5"/>
<line x1="1580.64" y1="484.5" x2="1585.5" y2="484.5"/>
<line x1="1682.64" y1="484.5" x2="1687.5" y2="484.5"/>
<line x1="1783.64" y1="484.5" x2="1788.5" y2="484.5"/>
<line x1="258.64" y1="522.5" x2="263.5" y2="522.5"/>
<line x1="359.64" y1="522.5" x2="364.5" y2="522.5"/>
<line x1="461.64" y1="522.5" x2="466.5" y2="522.5"/>
<line x1="563.64" y1="522.5" x2="568.5" y2="522.5"/>
<line x1="664.64" y1="522.5" x2="669.5" y2="522.5"/>
<line x1="766.64" y1="522.5" x2="771.5" y2="522.5"/>
<line x1="868.64" y1="522.5" x2="873.5" y2="522.5"/>
<line x1="970.64" y1="522.5" x2="975.5" y2="522.5"/>
<line x1="1071.64" y1="522.5" x2="1076.5" y2="522.5"/>
<line x1="1173.64" y1="522.5" x2="1178.5" y2="522.5"/>
<line x1="1275.64" y1="522.5" x2="1280.5" y2="522.5"/>
<line x1="1376.64" y1="522.5" x2="1381.5" y2="522.5"/>
<line x1="1478.64" y1="522.5" x2="1483.5" y2="522.5"/>
<line x1="1580.64" y1="522.5" x2="1585.5" y2="522.5"/>
<line x1="1682.64" y1="522.5" x2="1687.5" y2="522.5"/>
<line x1="1783.64" y1="522.5" x2="1788.5" y2="522.5"/>
<line x1="258.64" y1="555.5" x2="263.5" y2="555.5"/>
<line x1="359.64" y1="555.5" x2="364.5" y2="555.5"/>
<line x1="461.64" y1="555.5" x2="466.5" y2="555.5"/>
<line x1="563.64" y1="555.5" x2="568.5" y2="555.5"/>
<line x1="664.64" y1="555.5" x2="669.5" y2="555.5"/>
<line x1="766.64" y1="555.5" x2="771.5" y2="555.5"/>
<line x1="868.64" y1="555.5" x2="873.5" y2="555.5"/>
<line x1="970.64" y1="555.5" x2="975.5" y2="555.5"/>
<line x1="1071.64" y1="555.5" x2="1076.5" y2="555.5"/>
<line x1="1173.64" y1="555.5" x2="1178.5" y2="555.5"/>
<line x1="1275.64" y1="555.5" x2="1280.5" y2="555.5"/>
<line x1="1376.64" y1="555.5" x2="1381.5" y2="555.5"/>
<line x1="1478.64" y1="555.5" x2="1483.5" y2="555.5"/>
<line x1="1580.64" y1="555.5" x2="1585.5" y2="555.5"/>
<line x1="1682.64" y1="555.5" x2="1687.5" y2="555.5"/>
<line x1="1783.64" y1="555.5" x2="1788.5" y2="555.5"/>
<line x1="258.64" y1="588.5" x2="263.5" y2="588.5"/>
<line x1="359.64" y1="588.5" x2="364.5" y2="588.5"/>
<line x1="461.64" y1="588.5" x2="466.5" y2="588.5"/>
<line x1="563.64" y1="588.5" x2="568.5" y2="588.5"/>
<line x1="664.64" y1="588.5" x2="669.5" y2="588.5"/>
<line x1="766.64" y1="588.5" x2="771.5" y2="588.5"/>
<line x1="868.64" y1="588.5" x2="873.5" y2="588.5"/>
<line x1="970.64" y1="588.5" x2="975.5" y2="588.5"/>
<line x1="1071.64" y1="588.5" x2="1076.5" y2="588.5"/>
<line x1="1173.64" y1="588.5" x2="1178.5" y2="588.5"/>
<line x1="1275.64" y1="588.5" x2="1280.5" y2="588.5"/>
<line x1="1376.64" y1="588.5" x2="1381.5" y2="588.5"/>
<line x1="1478.64" y1="588.5" x2="1483.5" y2="588.5"/>
<line x1="1580.64" y1="588.5" x2="1585.5" y2="588.5"/>
<line x1="1682.64" y1="588.5" x2="1687.5" y2="588.5"/>
<line x1="1783.64" y1="588.5" x2="1788.5" y2="588.5"/>
<line x1="258.64" y1="626.5" x2="263.5" y2="626.5"/>
<line x1="359.64" y1="626.5" x2="364.5" y2="626.5"/>
<line x1="461.64" y1="626.5" x2="466.5" y2="626.5"/>
<line x1="563.64" y1="626.5" x2="568.5" y2="626.5"/>
<line x1="664.64" y1="626.5" x2="669.5" y2="626.5"/>
<line x1="766.64" y1="626.5" x2="771.5" y2="626.5"/>
<line x1="868.64" y1="626.5" x2="873.5" y2="626.5"/>
<line x1="970.64" y1="626.5" x2="975.5" y2="626.5"/>
<line x1="1071.64" y1="626.5" x2="1076.5" y2="626.5"/>
<line x1="1173.64" y1="626.5" x2="1178.5" y2="626.5"/>
<line x1="1275.64" y1="626.5" x2="1280.5" y2="626.5"/>
<line x1="1376.64" y1="626.5" x2="1381.5" y2="626.5"/>
<line x1="1478.64" y1="626.5" x2="1483.5" y2="626.5"/>
<line x1="1580.64" y1="626.5" x2="1585.5" y2="626.5"/>
<line x1="1682.64" y1="626.5" x2="1687.5" y2="626.5"/>
<line x1="1783.64" y1="626.5" x2="1788.5" y2="626.5"/>
<line x1="258.64" y1="659.5" x2="263.5" y2="659.5"/>
<line x1="359.64" y1="659.5" x2="364.5" y2="659.5"/>
<line x1="461.64" y1="659.5" x2="466.5" y2="659.5"/>
<line x1="563.64" y1="659.5" x2="568.5" y2="659.5"/>
<line x1="664.64" y1="659.5" x2="669.5" y2="659.5"/>
<line x1="766.64" y1="659.5" x2="771.5" y2="659.5"/>
<line x1="868.64" y1="659.5" x2="873.5" y2="659.5"/>
<line x1="970.64" y1="659.5" x2="975.5" y2="659.5"/>
<line x1="1071.64" y1="659.5" x2="1076.5" y2="659.5"/>
<line x1="1173.64" y1="659.5" x2="1178.5" y2="659.5"/>
<line x1="1275.64" y1="659.5" x2="1280.5" y2="659.5"/>
<line x1="1376.64" y1="659.5" x2="1381.5" y2="659.5"/>
<line x1="1478.64" y1="659.5" x2="1483.5" y2="659.5"/>
<line x1="1580.64" y1="659.5" x2="1585.5" y2="659.5"/>
<line x1="1682.64" y1="659.5" x2="1687.5" y2="659.5"/>
<line x1="1783.64" y1="659.5" x2="1788.5" y2="659.5"/>
<line x1="258.64" y1="692.5" x2="263.5" y2="692.5"/>
<line x1="359.64" y1="692.5" x2="364.5" y2="692.5"/>
<line x1="461.64" y1="692.5" x2="466.5" y2="692.5"/>
<line x1="563.64" y1="692.5" x2="568.5" y2="692.5"/>
<line x1="664.64" y1="692.5" x2="669.5" y2="692.5"/>
<line x1="766.64" y1="692.5" x2="771.5" y2="692.5"/>
<line x1="868.64" y1="692.5" x2="873.5" y2="692.5"/>
<line x1="970.64" y1="692.5" x2="975.5" y2="692.5"/>
<line x1="1071.64" y1="692.5" x2="1076.5" y2="692.5"/>
<line x1="1173.64" y1="692.5" x2="1178.5" y2="692.5"/>
<line x1="1275.64" y1="692.5" x2="1280.5" y2="692.5"/>
<line x1="1376.64" y1="692.5" x2="1381.5" y2="692.5"/>
<line x1="1478.64" y1="692.5" x2="1483.5" y2="692.5"/>
<line x1="1580.64" y1="692.5" x2="1585.5" y2="692.5"/>
<line x1="1682.64" y1="692.5" x2="1687.5" y2="692.5"/>
<line x1="1783.64" y1="692.5" x2="1788.5" y2="692.5"/>
</g>
<g>
<text class="t16" x="1049.6" y="33.6" text-anchor="middle" textLength="806.5">Full day spectra 2026/01/30 station: POLAND-BALDY with focus-code: 62</text>
<text class="t15" transform="translate(214.9,400) rotate(-90)" text-anchor="middle" textLength="175.1">Frequency [MHz]</text>
<text class="t15" x="1910.9" y="133.9" textLength="88.2">00-03UT</text>
<text class="t10" x="252.1" y="110.8" text-anchor="end" textLength="17.67">75</text>
<text class="t10" x="252.1" y="143.78" text-anchor="end" textLength="17.67">50</text>
<text class="t10" x="252.1" y="176.73" text-anchor="end" textLength="17.67">25</text>
<text class="t15" x="1910.9" y="238.15" textLength="88.2">04-07UT</text>
<text class="t10" x="252.1" y="215.05" text-anchor="end" textLength="17.67">75</text>
<text class="t10" x="252.1" y="248.03" text-anchor="end" textLength="17.67">50</text>
<text class="t10" x="252.1" y="280.98" text-anchor="end" textLength="17.67">25</text>
<text class="t15" x="1910.9" y="342.39" textLength="88.2">08-11UT</text>
<text class="t10" x="252.1" y="319.29" text-anchor="end" textLength="17.67">75</text>
<text class="t10" x="252.1" y="352.27" text-anchor="end" textLength="17.67">50</text>
<text class="t10" x="252.1" y="385.22" text-anchor="end" textLength="17.67">25</text>
<text class="t15" x="1910.9" y="445.64" textLength="88.2">12-15UT</text>
<text class="t10" x="252.1" y="423.54" text-anchor="end" textLength="17.67">75</text>
<text class="t10" x="252.1" y="456.52" text-anchor="end" textLength="17.67">50</text>
<text class="t10" x="252.1" y="489.47" text-anchor="end" textLength="17.67">25</text>
<text class="t15" x="1910.9" y="549.88" textLength="88.2">16-19UT</text>
<text class="t10" x="252.1" y="527.78" text-anchor="end" textLength="17.67">75</text>
<text class="t10" x="252.1" y="560.76" text-anchor="end" textLength="17.67">50</text>
<text class="t10" x="252.1" y="593.71" text-anchor="end" textLength="17.67">25</text>
<text class="t15" x="1910.9" y="654.13" textLength="88.2">20-23UT</text>
<text class="t10" x="252.1" y="632.03" text-anchor="end" textLength="17.67">75</text>
<text class="t10" x="252.1" y="665.01" text-anchor="end" textLength="17.67">50</text>
<text class="t10" x="252.1" y="697.96" text-anchor="end" textLength="17.67">25</text>
<text class="t10" x="261.7" y="728.2" text-anchor="middle" textLength="17.67">00</text>
<text class="t10" x="363.42" y="728.2" text-anchor="middle" textLength="17.67">15</text>
<text class="t10" x="465.14" y="728.2" text-anchor="middle" textLength="17.67">30</text>
<text class="t10" x="566.86" y="728.2" text-anchor="middle" textLength="17.67">45</text>
<text class="t10" x="668.58" y="728.2" text-anchor="middle" textLength="17.67">00</text>
<text class="t10" x="770.29" y="728.2" text-anchor="middle" textLength="17.67">15</text>
<text class="t10" x="872.01" y="728.2" text-anchor="middle" textLength="17.67">30</text>
<text class="t10" x="973.73" y="728.2" text-anchor="middle" textLength="17.67">45</text>
<text class="t10" x="1075.45" y="728.2" text-anchor="middle" textLength="17.67">00</text>
<text class="t10" x="1177.17" y="728.2" text-anchor="middle" textLength="17.67">15</text>
<text class="t10" x="1278.89" y="728.2" text-anchor="middle" textLength="17.67">30</text>
<text class="t10" x="1380.61" y="728.2" text-anchor="middle" textLength="17.67">45</text>
<text class="t10" x="1482.33" y="728.2" text-anchor="middle" textLength="17.67">00</text>
<text class="t10" x="1584.04" y="728.2" text-anchor="middle" textLength="17.67">15</text>
<text class="t10" x="1685.76" y="728.2" text-anchor="middle" textLength="17.67">30</text>
<text class="t10" x="1787.48" y="728.2" text-anchor="middle" textLength="17.67">45</text>
</g>
</svg>
</body></html>
